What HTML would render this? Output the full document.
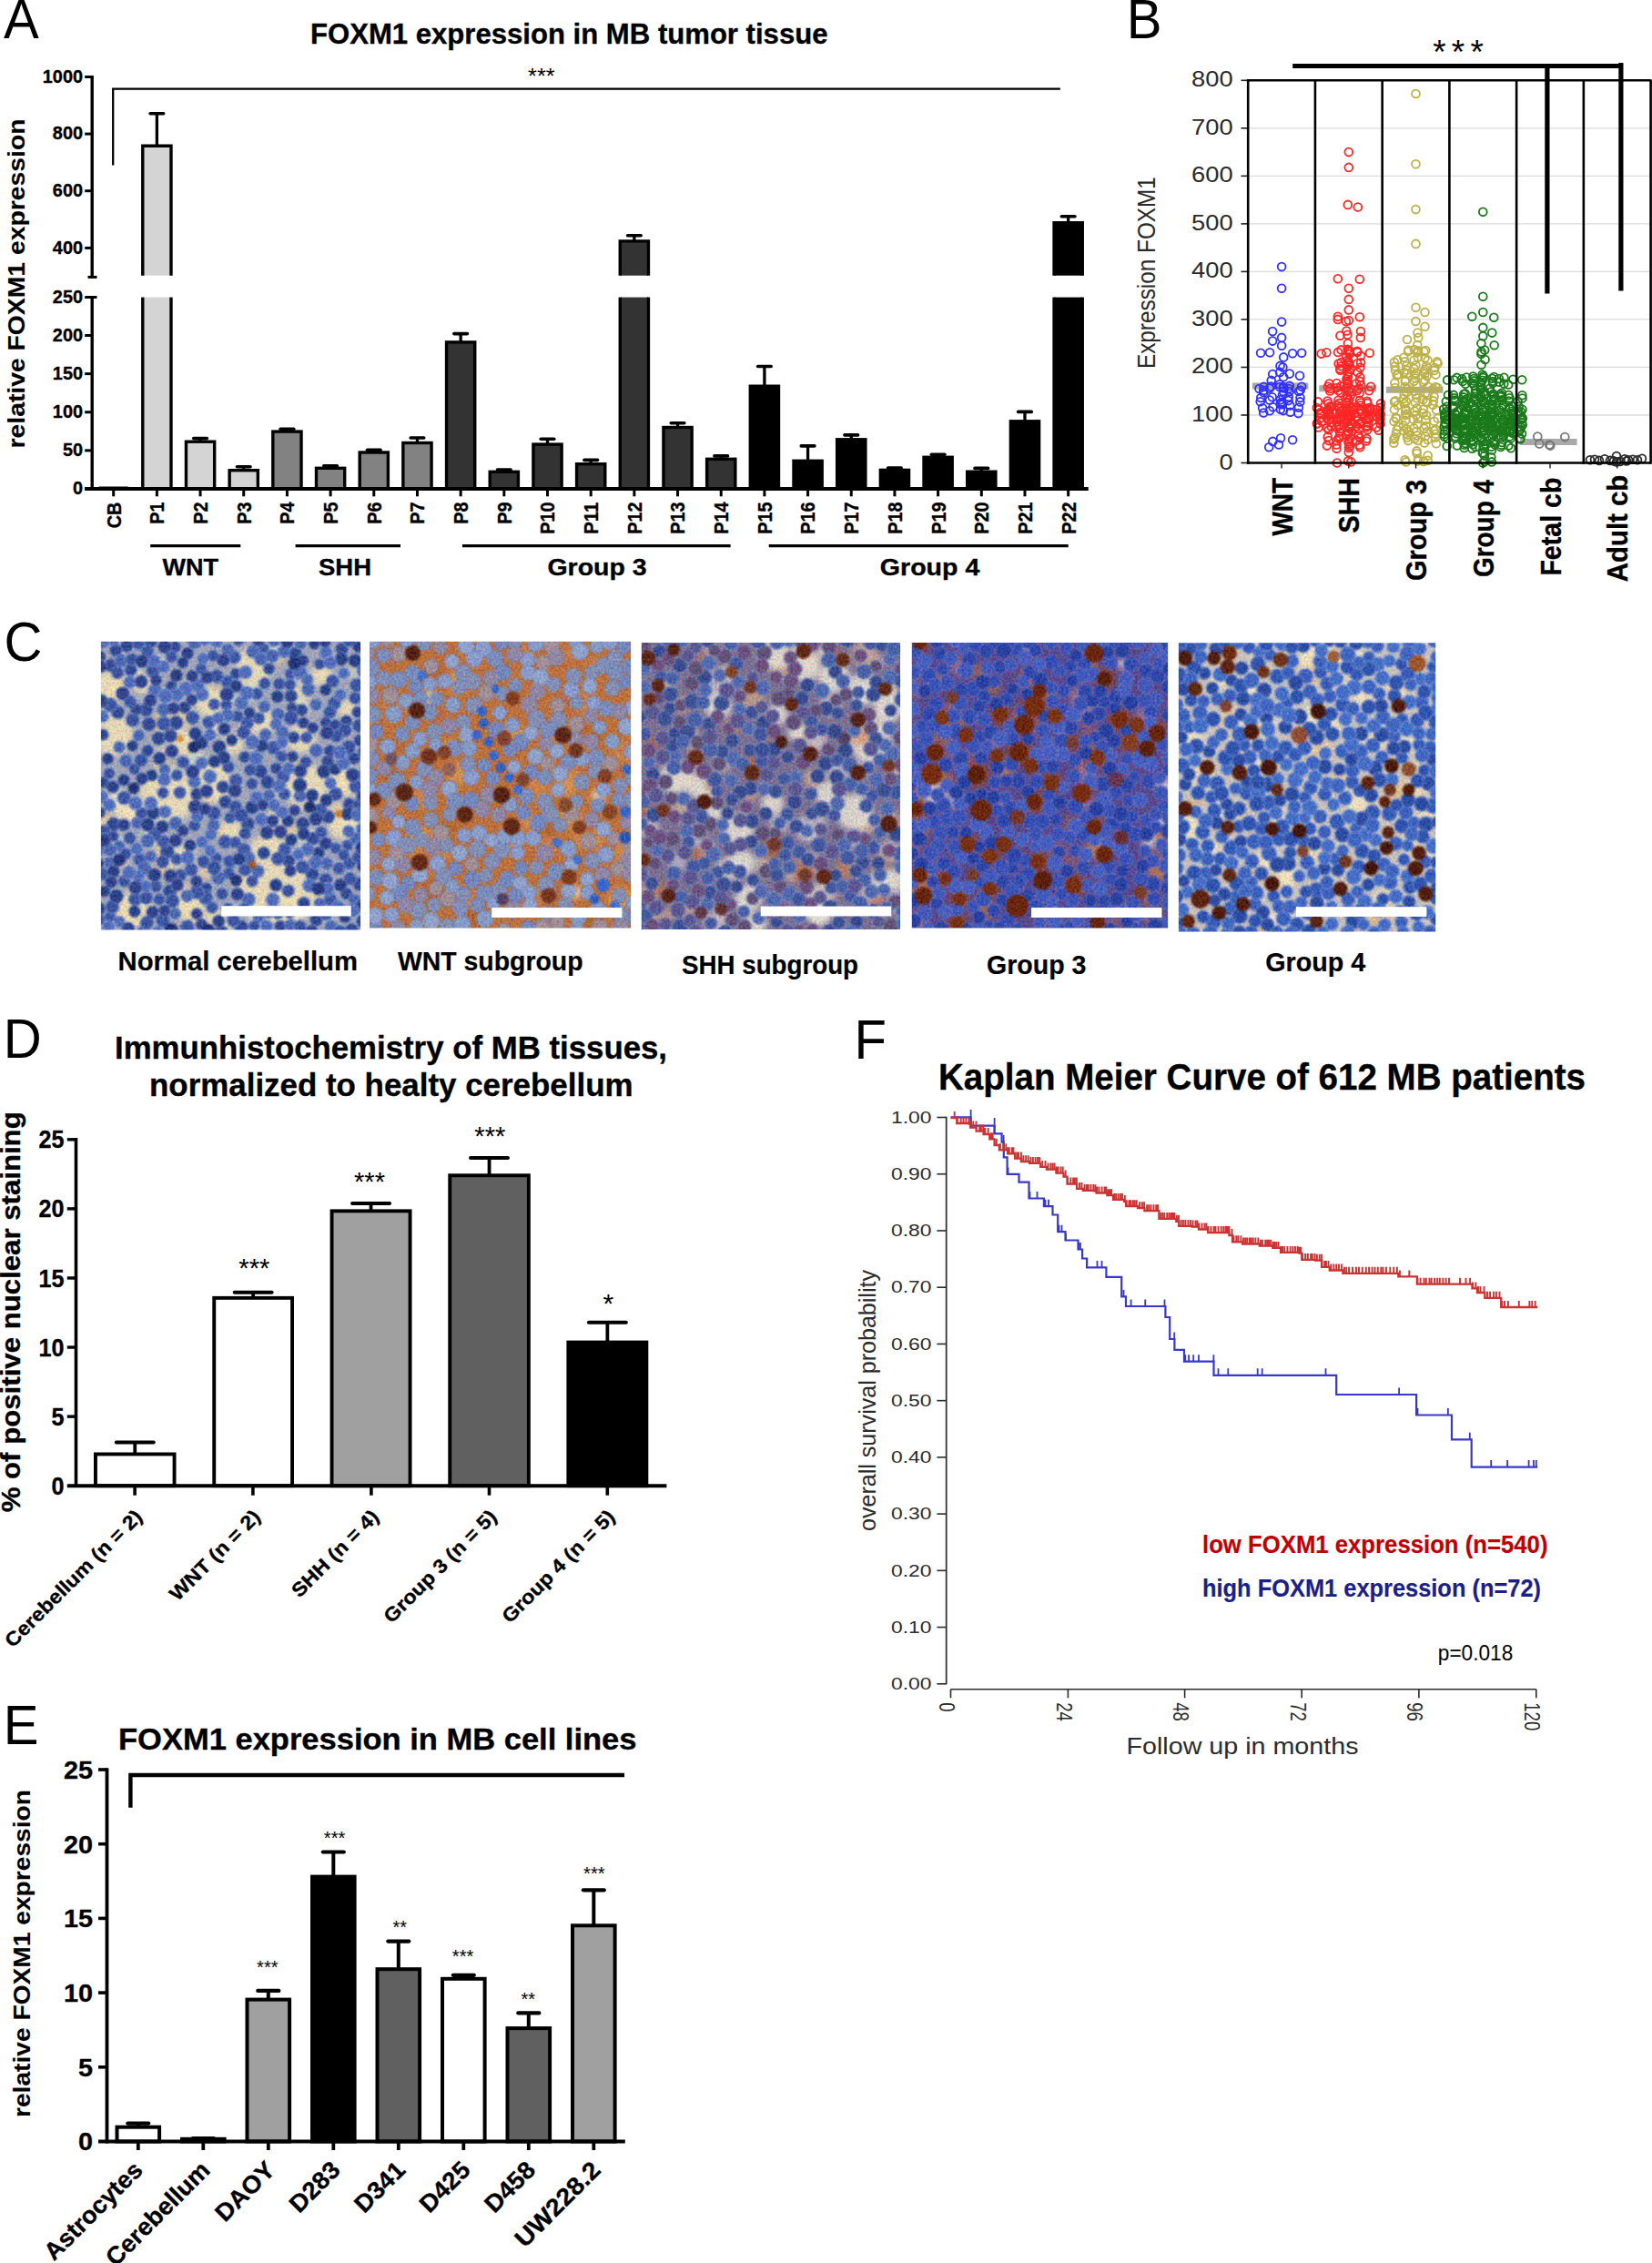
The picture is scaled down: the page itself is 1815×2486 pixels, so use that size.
<!DOCTYPE html><html><head><meta charset="utf-8"><title>FOXM1 figure</title><style>html,body{margin:0;padding:0;background:#fff}svg{display:block}text{font-family:"Liberation Sans",sans-serif}</style></head><body>
<svg width="1815" height="2486" viewBox="0 0 1815 2486">
<rect width="1815" height="2486" fill="#fff"/>
<g id="pA">
<text x="4.00" y="42.40" font-size="61.5" textLength="38.80" lengthAdjust="spacingAndGlyphs">A</text>
<text x="341.00" y="47.60" font-size="31.4" font-weight="bold" textLength="568.50" lengthAdjust="spacingAndGlyphs" stroke="#000" stroke-width="0.35">FOXM1 expression in MB tumor tissue</text>
<text transform="translate(26.80 311.50) rotate(-90)" font-size="25.4" font-weight="bold" text-anchor="middle" textLength="362.00" lengthAdjust="spacingAndGlyphs" stroke="#000" stroke-width="0.1">relative FOXM1 expression</text>
<path d="M101.20 83.00L101.20 304.40" stroke="#000" stroke-width="3.4" />
<path d="M101.20 326.50L101.20 538.90" stroke="#000" stroke-width="3.4" />
<path d="M93.20 537.00L1195.50 537.00" stroke="#000" stroke-width="3.8" />
<path d="M93.20 84.50L101.20 84.50" stroke="#000" stroke-width="3" />
<text x="91.00" y="90.60" font-size="20.4" font-weight="bold" text-anchor="end" textLength="44.20" lengthAdjust="spacingAndGlyphs" stroke="#000" stroke-width="0.35">1000</text>
<path d="M93.20 147.10L101.20 147.10" stroke="#000" stroke-width="3" />
<text x="91.00" y="153.20" font-size="20.4" font-weight="bold" text-anchor="end" textLength="33.15" lengthAdjust="spacingAndGlyphs" stroke="#000" stroke-width="0.35">800</text>
<path d="M93.20 209.70L101.20 209.70" stroke="#000" stroke-width="3" />
<text x="91.00" y="215.80" font-size="20.4" font-weight="bold" text-anchor="end" textLength="33.15" lengthAdjust="spacingAndGlyphs" stroke="#000" stroke-width="0.35">600</text>
<path d="M93.20 272.40L101.20 272.40" stroke="#000" stroke-width="3" />
<text x="91.00" y="278.50" font-size="20.4" font-weight="bold" text-anchor="end" textLength="33.15" lengthAdjust="spacingAndGlyphs" stroke="#000" stroke-width="0.35">400</text>
<path d="M96.50 304.40L106.50 304.40" stroke="#000" stroke-width="3" />
<path d="M93.20 326.50L106.50 326.50" stroke="#000" stroke-width="3" />
<text x="91.00" y="332.50" font-size="20.4" font-weight="bold" text-anchor="end" textLength="33.15" lengthAdjust="spacingAndGlyphs" stroke="#000" stroke-width="0.35">250</text>
<path d="M93.20 368.52L101.20 368.52" stroke="#000" stroke-width="3" />
<text x="91.00" y="374.62" font-size="20.4" font-weight="bold" text-anchor="end" textLength="33.15" lengthAdjust="spacingAndGlyphs" stroke="#000" stroke-width="0.35">200</text>
<path d="M93.20 410.64L101.20 410.64" stroke="#000" stroke-width="3" />
<text x="91.00" y="416.74" font-size="20.4" font-weight="bold" text-anchor="end" textLength="33.15" lengthAdjust="spacingAndGlyphs" stroke="#000" stroke-width="0.35">150</text>
<path d="M93.20 452.76L101.20 452.76" stroke="#000" stroke-width="3" />
<text x="91.00" y="458.86" font-size="20.4" font-weight="bold" text-anchor="end" textLength="33.15" lengthAdjust="spacingAndGlyphs" stroke="#000" stroke-width="0.35">100</text>
<path d="M93.20 494.88L101.20 494.88" stroke="#000" stroke-width="3" />
<text x="91.00" y="500.98" font-size="20.4" font-weight="bold" text-anchor="end" textLength="22.10" lengthAdjust="spacingAndGlyphs" stroke="#000" stroke-width="0.35">50</text>
<text x="91.00" y="543.10" font-size="20.4" font-weight="bold" text-anchor="end" textLength="11.05" lengthAdjust="spacingAndGlyphs" stroke="#000" stroke-width="0.35">0</text>
<path d="M108.70 535.30L140.70 535.30" stroke="#000" stroke-width="1.6" />
<path d="M172.38 124.70L172.38 160.30" stroke="#000" stroke-width="3.3" />
<path d="M165.08 124.70L179.68 124.70" stroke="#000" stroke-width="3.6" stroke-linecap="round"/>
<rect x="157.28" y="160.80" width="30.20" height="141.90" fill="#d4d4d4" />
<rect x="157.28" y="326.60" width="30.20" height="210.40" fill="#d4d4d4" />
<path d="M156.78 302.7V160.30H187.98V302.7" fill="none" stroke="#000" stroke-width="3.4"/>
<path d="M156.78 326.60L156.78 537.00" stroke="#000" stroke-width="3.4" />
<path d="M187.98 326.60L187.98 537.00" stroke="#000" stroke-width="3.4" />
<path d="M220.06 481.60L220.06 485.20" stroke="#000" stroke-width="3.3" />
<path d="M212.76 481.60L227.36 481.60" stroke="#000" stroke-width="3.6" stroke-linecap="round"/>
<rect x="204.46" y="485.20" width="31.20" height="51.80" fill="#d4d4d4" stroke="#000" stroke-width="3.4" />
<path d="M267.74 512.80L267.74 516.70" stroke="#000" stroke-width="3.3" />
<path d="M260.44 512.80L275.04 512.80" stroke="#000" stroke-width="3.6" stroke-linecap="round"/>
<rect x="252.14" y="516.70" width="31.20" height="20.30" fill="#d4d4d4" stroke="#000" stroke-width="3.4" />
<path d="M315.42 471.20L315.42 474.10" stroke="#000" stroke-width="3.3" />
<path d="M308.12 471.20L322.72 471.20" stroke="#000" stroke-width="3.6" stroke-linecap="round"/>
<rect x="299.82" y="474.10" width="31.20" height="62.90" fill="#828282" stroke="#000" stroke-width="3.4" />
<path d="M363.10 511.80L363.10 514.30" stroke="#000" stroke-width="3.3" />
<path d="M355.80 511.80L370.40 511.80" stroke="#000" stroke-width="3.6" stroke-linecap="round"/>
<rect x="347.50" y="514.30" width="31.20" height="22.70" fill="#828282" stroke="#000" stroke-width="3.4" />
<path d="M410.78 494.20L410.78 497.00" stroke="#000" stroke-width="3.3" />
<path d="M403.48 494.20L418.08 494.20" stroke="#000" stroke-width="3.6" stroke-linecap="round"/>
<rect x="395.18" y="497.00" width="31.20" height="40.00" fill="#828282" stroke="#000" stroke-width="3.4" />
<path d="M458.46 481.00L458.46 486.50" stroke="#000" stroke-width="3.3" />
<path d="M451.16 481.00L465.76 481.00" stroke="#000" stroke-width="3.6" stroke-linecap="round"/>
<rect x="442.86" y="486.50" width="31.20" height="50.50" fill="#828282" stroke="#000" stroke-width="3.4" />
<path d="M506.14 366.60L506.14 375.90" stroke="#000" stroke-width="3.3" />
<path d="M498.84 366.60L513.44 366.60" stroke="#000" stroke-width="3.6" stroke-linecap="round"/>
<rect x="490.54" y="375.90" width="31.20" height="161.10" fill="#333" stroke="#000" stroke-width="3.4" />
<path d="M553.82 516.00L553.82 518.30" stroke="#000" stroke-width="3.3" />
<path d="M546.52 516.00L561.12 516.00" stroke="#000" stroke-width="3.6" stroke-linecap="round"/>
<rect x="538.22" y="518.30" width="31.20" height="18.70" fill="#333" stroke="#000" stroke-width="3.4" />
<path d="M601.50 482.30L601.50 488.10" stroke="#000" stroke-width="3.3" />
<path d="M594.20 482.30L608.80 482.30" stroke="#000" stroke-width="3.6" stroke-linecap="round"/>
<rect x="585.90" y="488.10" width="31.20" height="48.90" fill="#333" stroke="#000" stroke-width="3.4" />
<path d="M649.18 505.40L649.18 509.70" stroke="#000" stroke-width="3.3" />
<path d="M641.88 505.40L656.48 505.40" stroke="#000" stroke-width="3.6" stroke-linecap="round"/>
<rect x="633.58" y="509.70" width="31.20" height="27.30" fill="#333" stroke="#000" stroke-width="3.4" />
<path d="M696.86 258.80L696.86 264.90" stroke="#000" stroke-width="3.3" />
<path d="M689.56 258.80L704.16 258.80" stroke="#000" stroke-width="3.6" stroke-linecap="round"/>
<rect x="681.76" y="265.40" width="30.20" height="37.30" fill="#333" />
<rect x="681.76" y="326.60" width="30.20" height="210.40" fill="#333" />
<path d="M681.26 302.7V264.90H712.46V302.7" fill="none" stroke="#000" stroke-width="3.4"/>
<path d="M681.26 326.60L681.26 537.00" stroke="#000" stroke-width="3.4" />
<path d="M712.46 326.60L712.46 537.00" stroke="#000" stroke-width="3.4" />
<path d="M744.54 464.80L744.54 469.50" stroke="#000" stroke-width="3.3" />
<path d="M737.24 464.80L751.84 464.80" stroke="#000" stroke-width="3.6" stroke-linecap="round"/>
<rect x="728.94" y="469.50" width="31.20" height="67.50" fill="#333" stroke="#000" stroke-width="3.4" />
<path d="M792.22 500.90L792.22 504.30" stroke="#000" stroke-width="3.3" />
<path d="M784.92 500.90L799.52 500.90" stroke="#000" stroke-width="3.6" stroke-linecap="round"/>
<rect x="776.62" y="504.30" width="31.20" height="32.70" fill="#333" stroke="#000" stroke-width="3.4" />
<path d="M839.90 402.50L839.90 424.20" stroke="#000" stroke-width="3.3" />
<path d="M832.60 402.50L847.20 402.50" stroke="#000" stroke-width="3.6" stroke-linecap="round"/>
<rect x="824.30" y="424.20" width="31.20" height="112.80" fill="#000" stroke="#000" stroke-width="3.4" />
<path d="M887.58 489.90L887.58 506.30" stroke="#000" stroke-width="3.3" />
<path d="M880.28 489.90L894.88 489.90" stroke="#000" stroke-width="3.6" stroke-linecap="round"/>
<rect x="871.98" y="506.30" width="31.20" height="30.70" fill="#000" stroke="#000" stroke-width="3.4" />
<path d="M935.26 477.90L935.26 482.80" stroke="#000" stroke-width="3.3" />
<path d="M927.96 477.90L942.56 477.90" stroke="#000" stroke-width="3.6" stroke-linecap="round"/>
<rect x="919.66" y="482.80" width="31.20" height="54.20" fill="#000" stroke="#000" stroke-width="3.4" />
<path d="M982.94 514.00L982.94 516.40" stroke="#000" stroke-width="3.3" />
<path d="M975.64 514.00L990.24 514.00" stroke="#000" stroke-width="3.6" stroke-linecap="round"/>
<rect x="967.34" y="516.40" width="31.20" height="20.60" fill="#000" stroke="#000" stroke-width="3.4" />
<path d="M1030.62 499.20L1030.62 502.30" stroke="#000" stroke-width="3.3" />
<path d="M1023.32 499.20L1037.92 499.20" stroke="#000" stroke-width="3.6" stroke-linecap="round"/>
<rect x="1015.02" y="502.30" width="31.20" height="34.70" fill="#000" stroke="#000" stroke-width="3.4" />
<path d="M1078.30 514.40L1078.30 518.20" stroke="#000" stroke-width="3.3" />
<path d="M1071.00 514.40L1085.60 514.40" stroke="#000" stroke-width="3.6" stroke-linecap="round"/>
<rect x="1062.70" y="518.20" width="31.20" height="18.80" fill="#000" stroke="#000" stroke-width="3.4" />
<path d="M1125.98 452.40L1125.98 462.80" stroke="#000" stroke-width="3.3" />
<path d="M1118.68 452.40L1133.28 452.40" stroke="#000" stroke-width="3.6" stroke-linecap="round"/>
<rect x="1110.38" y="462.80" width="31.20" height="74.20" fill="#000" stroke="#000" stroke-width="3.4" />
<path d="M1173.66 237.80L1173.66 244.60" stroke="#000" stroke-width="3.3" />
<path d="M1166.36 237.80L1180.96 237.80" stroke="#000" stroke-width="3.6" stroke-linecap="round"/>
<rect x="1158.56" y="245.10" width="30.20" height="57.60" fill="#000" />
<rect x="1158.56" y="326.60" width="30.20" height="210.40" fill="#000" />
<path d="M1158.06 302.7V244.60H1189.26V302.7" fill="none" stroke="#000" stroke-width="3.4"/>
<path d="M1158.06 326.60L1158.06 537.00" stroke="#000" stroke-width="3.4" />
<path d="M1189.26 326.60L1189.26 537.00" stroke="#000" stroke-width="3.4" />
<path d="M93.20 537.00L1195.50 537.00" stroke="#000" stroke-width="3.8" />
<path d="M124.70 537.00L124.70 545.30" stroke="#000" stroke-width="3" />
<text transform="translate(132.60 551.60) rotate(-90)" font-size="22.8" font-weight="bold" text-anchor="end" textLength="28.59" lengthAdjust="spacingAndGlyphs" stroke="#000" stroke-width="0.35">CB</text>
<path d="M172.38 537.00L172.38 545.30" stroke="#000" stroke-width="3" />
<text transform="translate(180.28 551.60) rotate(-90)" font-size="22.8" font-weight="bold" text-anchor="end" textLength="24.22" lengthAdjust="spacingAndGlyphs" stroke="#000" stroke-width="0.35">P1</text>
<path d="M220.06 537.00L220.06 545.30" stroke="#000" stroke-width="3" />
<text transform="translate(227.96 551.60) rotate(-90)" font-size="22.8" font-weight="bold" text-anchor="end" textLength="24.22" lengthAdjust="spacingAndGlyphs" stroke="#000" stroke-width="0.35">P2</text>
<path d="M267.74 537.00L267.74 545.30" stroke="#000" stroke-width="3" />
<text transform="translate(275.64 551.60) rotate(-90)" font-size="22.8" font-weight="bold" text-anchor="end" textLength="24.22" lengthAdjust="spacingAndGlyphs" stroke="#000" stroke-width="0.35">P3</text>
<path d="M315.42 537.00L315.42 545.30" stroke="#000" stroke-width="3" />
<text transform="translate(323.32 551.60) rotate(-90)" font-size="22.8" font-weight="bold" text-anchor="end" textLength="24.22" lengthAdjust="spacingAndGlyphs" stroke="#000" stroke-width="0.35">P4</text>
<path d="M363.10 537.00L363.10 545.30" stroke="#000" stroke-width="3" />
<text transform="translate(371.00 551.60) rotate(-90)" font-size="22.8" font-weight="bold" text-anchor="end" textLength="24.22" lengthAdjust="spacingAndGlyphs" stroke="#000" stroke-width="0.35">P5</text>
<path d="M410.78 537.00L410.78 545.30" stroke="#000" stroke-width="3" />
<text transform="translate(418.68 551.60) rotate(-90)" font-size="22.8" font-weight="bold" text-anchor="end" textLength="24.22" lengthAdjust="spacingAndGlyphs" stroke="#000" stroke-width="0.35">P6</text>
<path d="M458.46 537.00L458.46 545.30" stroke="#000" stroke-width="3" />
<text transform="translate(466.36 551.60) rotate(-90)" font-size="22.8" font-weight="bold" text-anchor="end" textLength="24.22" lengthAdjust="spacingAndGlyphs" stroke="#000" stroke-width="0.35">P7</text>
<path d="M506.14 537.00L506.14 545.30" stroke="#000" stroke-width="3" />
<text transform="translate(514.04 551.60) rotate(-90)" font-size="22.8" font-weight="bold" text-anchor="end" textLength="24.22" lengthAdjust="spacingAndGlyphs" stroke="#000" stroke-width="0.35">P8</text>
<path d="M553.82 537.00L553.82 545.30" stroke="#000" stroke-width="3" />
<text transform="translate(561.72 551.60) rotate(-90)" font-size="22.8" font-weight="bold" text-anchor="end" textLength="24.22" lengthAdjust="spacingAndGlyphs" stroke="#000" stroke-width="0.35">P9</text>
<path d="M601.50 537.00L601.50 545.30" stroke="#000" stroke-width="3" />
<text transform="translate(609.40 551.60) rotate(-90)" font-size="22.8" font-weight="bold" text-anchor="end" textLength="35.22" lengthAdjust="spacingAndGlyphs" stroke="#000" stroke-width="0.35">P10</text>
<path d="M649.18 537.00L649.18 545.30" stroke="#000" stroke-width="3" />
<text transform="translate(657.08 551.60) rotate(-90)" font-size="22.8" font-weight="bold" text-anchor="end" textLength="35.22" lengthAdjust="spacingAndGlyphs" stroke="#000" stroke-width="0.35">P11</text>
<path d="M696.86 537.00L696.86 545.30" stroke="#000" stroke-width="3" />
<text transform="translate(704.76 551.60) rotate(-90)" font-size="22.8" font-weight="bold" text-anchor="end" textLength="35.22" lengthAdjust="spacingAndGlyphs" stroke="#000" stroke-width="0.35">P12</text>
<path d="M744.54 537.00L744.54 545.30" stroke="#000" stroke-width="3" />
<text transform="translate(752.44 551.60) rotate(-90)" font-size="22.8" font-weight="bold" text-anchor="end" textLength="35.22" lengthAdjust="spacingAndGlyphs" stroke="#000" stroke-width="0.35">P13</text>
<path d="M792.22 537.00L792.22 545.30" stroke="#000" stroke-width="3" />
<text transform="translate(800.12 551.60) rotate(-90)" font-size="22.8" font-weight="bold" text-anchor="end" textLength="35.22" lengthAdjust="spacingAndGlyphs" stroke="#000" stroke-width="0.35">P14</text>
<path d="M839.90 537.00L839.90 545.30" stroke="#000" stroke-width="3" />
<text transform="translate(847.80 551.60) rotate(-90)" font-size="22.8" font-weight="bold" text-anchor="end" textLength="35.22" lengthAdjust="spacingAndGlyphs" stroke="#000" stroke-width="0.35">P15</text>
<path d="M887.58 537.00L887.58 545.30" stroke="#000" stroke-width="3" />
<text transform="translate(895.48 551.60) rotate(-90)" font-size="22.8" font-weight="bold" text-anchor="end" textLength="35.22" lengthAdjust="spacingAndGlyphs" stroke="#000" stroke-width="0.35">P16</text>
<path d="M935.26 537.00L935.26 545.30" stroke="#000" stroke-width="3" />
<text transform="translate(943.16 551.60) rotate(-90)" font-size="22.8" font-weight="bold" text-anchor="end" textLength="35.22" lengthAdjust="spacingAndGlyphs" stroke="#000" stroke-width="0.35">P17</text>
<path d="M982.94 537.00L982.94 545.30" stroke="#000" stroke-width="3" />
<text transform="translate(990.84 551.60) rotate(-90)" font-size="22.8" font-weight="bold" text-anchor="end" textLength="35.22" lengthAdjust="spacingAndGlyphs" stroke="#000" stroke-width="0.35">P18</text>
<path d="M1030.62 537.00L1030.62 545.30" stroke="#000" stroke-width="3" />
<text transform="translate(1038.52 551.60) rotate(-90)" font-size="22.8" font-weight="bold" text-anchor="end" textLength="35.22" lengthAdjust="spacingAndGlyphs" stroke="#000" stroke-width="0.35">P19</text>
<path d="M1078.30 537.00L1078.30 545.30" stroke="#000" stroke-width="3" />
<text transform="translate(1086.20 551.60) rotate(-90)" font-size="22.8" font-weight="bold" text-anchor="end" textLength="35.22" lengthAdjust="spacingAndGlyphs" stroke="#000" stroke-width="0.35">P20</text>
<path d="M1125.98 537.00L1125.98 545.30" stroke="#000" stroke-width="3" />
<text transform="translate(1133.88 551.60) rotate(-90)" font-size="22.8" font-weight="bold" text-anchor="end" textLength="35.22" lengthAdjust="spacingAndGlyphs" stroke="#000" stroke-width="0.35">P21</text>
<path d="M1173.66 537.00L1173.66 545.30" stroke="#000" stroke-width="3" />
<text transform="translate(1181.56 551.60) rotate(-90)" font-size="22.8" font-weight="bold" text-anchor="end" textLength="35.22" lengthAdjust="spacingAndGlyphs" stroke="#000" stroke-width="0.35">P22</text>
<path d="M124.2 181.6V97.6H1164.9" fill="none" stroke="#000" stroke-width="2.3"/>
<text x="594.80" y="92.00" font-size="24" text-anchor="middle" textLength="29.50" lengthAdjust="spacingAndGlyphs">***</text>
<path d="M165.20 599.60L264.30 599.60" stroke="#000" stroke-width="3.3" />
<path d="M324.60 599.60L440.00 599.60" stroke="#000" stroke-width="3.3" />
<path d="M507.90 599.60L802.60 599.60" stroke="#000" stroke-width="3.3" />
<path d="M844.70 599.60L1173.70 599.60" stroke="#000" stroke-width="3.3" />
<text x="178.60" y="631.80" font-size="26.2" font-weight="bold" textLength="61.50" lengthAdjust="spacingAndGlyphs" stroke="#000" stroke-width="0.35">WNT</text>
<text x="350.00" y="631.80" font-size="26.2" font-weight="bold" textLength="58.00" lengthAdjust="spacingAndGlyphs" stroke="#000" stroke-width="0.35">SHH</text>
<text x="601.50" y="631.80" font-size="26.2" font-weight="bold" textLength="109.00" lengthAdjust="spacingAndGlyphs" stroke="#000" stroke-width="0.35">Group 3</text>
<text x="966.80" y="632.20" font-size="26.2" font-weight="bold" textLength="109.50" lengthAdjust="spacingAndGlyphs" stroke="#000" stroke-width="0.35">Group 4</text>
</g>
<g id="pB">
<text x="1237.80" y="41.80" font-size="61" textLength="38.80" lengthAdjust="spacingAndGlyphs">B</text>
<path d="M1371.20 455.98L1813.60 455.98" stroke="#dcdcdc" stroke-width="1.3" />
<path d="M1371.20 403.45L1813.60 403.45" stroke="#dcdcdc" stroke-width="1.3" />
<path d="M1371.20 350.93L1813.60 350.93" stroke="#dcdcdc" stroke-width="1.3" />
<path d="M1371.20 298.40L1813.60 298.40" stroke="#dcdcdc" stroke-width="1.3" />
<path d="M1371.20 245.88L1813.60 245.88" stroke="#dcdcdc" stroke-width="1.3" />
<path d="M1371.20 193.35L1813.60 193.35" stroke="#dcdcdc" stroke-width="1.3" />
<path d="M1371.20 140.82L1813.60 140.82" stroke="#dcdcdc" stroke-width="1.3" />
<path d="M1363.50 508.50L1371.20 508.50" stroke="#222" stroke-width="1.6" />
<text x="1354.60" y="515.50" font-size="23.6" text-anchor="end" textLength="15.20" lengthAdjust="spacingAndGlyphs" fill="#2a2a2a">0</text>
<path d="M1363.50 455.98L1371.20 455.98" stroke="#222" stroke-width="1.6" />
<text x="1354.60" y="462.98" font-size="23.6" text-anchor="end" textLength="45.60" lengthAdjust="spacingAndGlyphs" fill="#2a2a2a">100</text>
<path d="M1363.50 403.45L1371.20 403.45" stroke="#222" stroke-width="1.6" />
<text x="1354.60" y="410.45" font-size="23.6" text-anchor="end" textLength="45.60" lengthAdjust="spacingAndGlyphs" fill="#2a2a2a">200</text>
<path d="M1363.50 350.93L1371.20 350.93" stroke="#222" stroke-width="1.6" />
<text x="1354.60" y="357.93" font-size="23.6" text-anchor="end" textLength="45.60" lengthAdjust="spacingAndGlyphs" fill="#2a2a2a">300</text>
<path d="M1363.50 298.40L1371.20 298.40" stroke="#222" stroke-width="1.6" />
<text x="1354.60" y="305.40" font-size="23.6" text-anchor="end" textLength="45.60" lengthAdjust="spacingAndGlyphs" fill="#2a2a2a">400</text>
<path d="M1363.50 245.88L1371.20 245.88" stroke="#222" stroke-width="1.6" />
<text x="1354.60" y="252.88" font-size="23.6" text-anchor="end" textLength="45.60" lengthAdjust="spacingAndGlyphs" fill="#2a2a2a">500</text>
<path d="M1363.50 193.35L1371.20 193.35" stroke="#222" stroke-width="1.6" />
<text x="1354.60" y="200.35" font-size="23.6" text-anchor="end" textLength="45.60" lengthAdjust="spacingAndGlyphs" fill="#2a2a2a">600</text>
<path d="M1363.50 140.82L1371.20 140.82" stroke="#222" stroke-width="1.6" />
<text x="1354.60" y="147.82" font-size="23.6" text-anchor="end" textLength="45.60" lengthAdjust="spacingAndGlyphs" fill="#2a2a2a">700</text>
<path d="M1363.50 88.30L1371.20 88.30" stroke="#222" stroke-width="1.6" />
<text x="1354.60" y="95.30" font-size="23.6" text-anchor="end" textLength="45.60" lengthAdjust="spacingAndGlyphs" fill="#2a2a2a">800</text>
<text transform="translate(1268.80 299.60) rotate(-90)" font-size="28" text-anchor="middle" textLength="211.00" lengthAdjust="spacingAndGlyphs" fill="#2a2a2a">Expression FOXM1</text>
<path d="M1375.90 423.90L1437.30 423.90" stroke="#a9a9a9" stroke-width="7" />
<path d="M1449.30 426.80L1512.10 426.80" stroke="#a9a9a9" stroke-width="7" />
<path d="M1523.00 428.20L1585.50 428.20" stroke="#a9a9a9" stroke-width="7" />
<path d="M1670.10 485.60L1732.60 485.60" stroke="#a9a9a9" stroke-width="7" />
<g fill="none" stroke="#3030ff" stroke-width="1.8"><circle cx="1410.2" cy="392.4" r="4.4"/><circle cx="1406.5" cy="401.9" r="4.4"/><circle cx="1409.4" cy="403.4" r="4.4"/><circle cx="1406.1" cy="408.9" r="4.4"/><circle cx="1416.8" cy="410.6" r="4.4"/><circle cx="1398.2" cy="411.1" r="4.4"/><circle cx="1428.0" cy="412.8" r="4.4"/><circle cx="1410.1" cy="414.3" r="4.4"/><circle cx="1396.7" cy="417.9" r="4.4"/><circle cx="1405.8" cy="422.3" r="4.4"/><circle cx="1416.8" cy="423.9" r="4.4"/><circle cx="1396.3" cy="424.6" r="4.4"/><circle cx="1430.1" cy="424.8" r="4.4"/><circle cx="1388.5" cy="424.9" r="4.4"/><circle cx="1409.9" cy="425.0" r="4.4"/><circle cx="1406.0" cy="425.0" r="4.4"/><circle cx="1410.2" cy="426.5" r="4.4"/><circle cx="1394.8" cy="426.5" r="4.4"/><circle cx="1415.9" cy="427.1" r="4.4"/><circle cx="1383.5" cy="427.1" r="4.4"/><circle cx="1428.6" cy="428.8" r="4.4"/><circle cx="1388.1" cy="428.9" r="4.4"/><circle cx="1427.0" cy="430.0" r="4.4"/><circle cx="1410.0" cy="430.0" r="4.4"/><circle cx="1416.6" cy="430.1" r="4.4"/><circle cx="1388.4" cy="431.3" r="4.4"/><circle cx="1408.9" cy="434.0" r="4.4"/><circle cx="1415.7" cy="435.9" r="4.4"/><circle cx="1397.7" cy="436.2" r="4.4"/><circle cx="1428.5" cy="437.1" r="4.4"/><circle cx="1385.3" cy="437.1" r="4.4"/><circle cx="1406.6" cy="439.2" r="4.4"/><circle cx="1394.9" cy="439.5" r="4.4"/><circle cx="1415.6" cy="440.1" r="4.4"/><circle cx="1384.7" cy="441.3" r="4.4"/><circle cx="1428.3" cy="441.4" r="4.4"/><circle cx="1407.9" cy="441.8" r="4.4"/><circle cx="1406.9" cy="443.9" r="4.4"/><circle cx="1409.1" cy="444.3" r="4.4"/><circle cx="1417.3" cy="445.4" r="4.4"/><circle cx="1398.5" cy="447.3" r="4.4"/><circle cx="1426.9" cy="447.8" r="4.4"/><circle cx="1387.1" cy="448.2" r="4.4"/><circle cx="1406.9" cy="449.7" r="4.4"/><circle cx="1409.9" cy="451.1" r="4.4"/><circle cx="1395.0" cy="451.3" r="4.4"/><circle cx="1417.6" cy="452.7" r="4.4"/><circle cx="1388.2" cy="453.5" r="4.4"/><circle cx="1426.5" cy="454.1" r="4.4"/><circle cx="1407.1" cy="481.2" r="4.4"/><circle cx="1420.1" cy="483.3" r="4.4"/><circle cx="1398.3" cy="484.9" r="4.4"/><circle cx="1405.0" cy="488.5" r="4.4"/><circle cx="1394.2" cy="491.2" r="4.4"/><circle cx="1408.1" cy="293.1" r="4.4"/><circle cx="1408.1" cy="316.8" r="4.4"/><circle cx="1408.1" cy="353.6" r="4.4"/><circle cx="1398.1" cy="364.1" r="4.4"/><circle cx="1408.1" cy="370.9" r="4.4"/><circle cx="1398.1" cy="374.6" r="4.4"/><circle cx="1408.1" cy="379.8" r="4.4"/><circle cx="1385.1" cy="387.7" r="4.4"/><circle cx="1395.1" cy="387.2" r="4.4"/><circle cx="1420.1" cy="388.2" r="4.4"/><circle cx="1430.1" cy="387.7" r="4.4"/></g>
<g fill="none" stroke="#ff2626" stroke-width="1.8"><circle cx="1479.4" cy="363.5" r="4.4"/><circle cx="1495.0" cy="364.1" r="4.4"/><circle cx="1480.4" cy="367.7" r="4.4"/><circle cx="1472.4" cy="368.8" r="4.4"/><circle cx="1494.8" cy="370.9" r="4.4"/><circle cx="1480.9" cy="377.2" r="4.4"/><circle cx="1480.5" cy="383.9" r="4.4"/><circle cx="1473.6" cy="384.4" r="4.4"/><circle cx="1482.5" cy="385.1" r="4.4"/><circle cx="1491.3" cy="385.8" r="4.4"/><circle cx="1483.0" cy="386.7" r="4.4"/><circle cx="1470.0" cy="386.9" r="4.4"/><circle cx="1491.3" cy="387.0" r="4.4"/><circle cx="1457.4" cy="387.3" r="4.4"/><circle cx="1504.8" cy="387.8" r="4.4"/><circle cx="1451.7" cy="388.6" r="4.4"/><circle cx="1482.6" cy="389.0" r="4.4"/><circle cx="1495.1" cy="391.0" r="4.4"/><circle cx="1479.1" cy="392.5" r="4.4"/><circle cx="1480.3" cy="395.8" r="4.4"/><circle cx="1481.7" cy="397.5" r="4.4"/><circle cx="1473.6" cy="398.0" r="4.4"/><circle cx="1495.1" cy="398.2" r="4.4"/><circle cx="1481.2" cy="398.8" r="4.4"/><circle cx="1491.2" cy="399.2" r="4.4"/><circle cx="1470.6" cy="399.5" r="4.4"/><circle cx="1481.8" cy="401.4" r="4.4"/><circle cx="1473.4" cy="402.3" r="4.4"/><circle cx="1480.0" cy="403.5" r="4.4"/><circle cx="1494.3" cy="403.8" r="4.4"/><circle cx="1472.3" cy="405.1" r="4.4"/><circle cx="1483.6" cy="405.6" r="4.4"/><circle cx="1472.5" cy="406.7" r="4.4"/><circle cx="1482.4" cy="408.4" r="4.4"/><circle cx="1491.6" cy="409.0" r="4.4"/><circle cx="1480.8" cy="411.1" r="4.4"/><circle cx="1481.0" cy="414.1" r="4.4"/><circle cx="1494.2" cy="414.4" r="4.4"/><circle cx="1479.4" cy="416.5" r="4.4"/><circle cx="1480.1" cy="418.6" r="4.4"/><circle cx="1494.0" cy="418.9" r="4.4"/><circle cx="1480.4" cy="420.9" r="4.4"/><circle cx="1468.6" cy="421.1" r="4.4"/><circle cx="1490.0" cy="421.3" r="4.4"/><circle cx="1460.5" cy="421.6" r="4.4"/><circle cx="1480.8" cy="422.5" r="4.4"/><circle cx="1495.3" cy="423.3" r="4.4"/><circle cx="1473.1" cy="424.4" r="4.4"/><circle cx="1506.1" cy="424.7" r="4.4"/><circle cx="1458.9" cy="424.8" r="4.4"/><circle cx="1479.5" cy="425.2" r="4.4"/><circle cx="1468.7" cy="426.0" r="4.4"/><circle cx="1492.6" cy="426.7" r="4.4"/><circle cx="1461.4" cy="426.9" r="4.4"/><circle cx="1481.5" cy="428.9" r="4.4"/><circle cx="1491.1" cy="428.9" r="4.4"/><circle cx="1470.5" cy="429.0" r="4.4"/><circle cx="1504.1" cy="429.3" r="4.4"/><circle cx="1461.2" cy="429.5" r="4.4"/><circle cx="1483.2" cy="431.1" r="4.4"/><circle cx="1472.9" cy="431.2" r="4.4"/><circle cx="1493.5" cy="431.9" r="4.4"/><circle cx="1479.7" cy="434.2" r="4.4"/><circle cx="1483.7" cy="434.8" r="4.4"/><circle cx="1480.6" cy="437.3" r="4.4"/><circle cx="1482.2" cy="439.4" r="4.4"/><circle cx="1470.3" cy="439.7" r="4.4"/><circle cx="1493.9" cy="439.9" r="4.4"/><circle cx="1458.5" cy="440.5" r="4.4"/><circle cx="1502.0" cy="440.7" r="4.4"/><circle cx="1448.0" cy="441.4" r="4.4"/><circle cx="1479.9" cy="442.2" r="4.4"/><circle cx="1494.8" cy="442.5" r="4.4"/><circle cx="1471.4" cy="442.9" r="4.4"/><circle cx="1502.4" cy="442.9" r="4.4"/><circle cx="1459.6" cy="443.2" r="4.4"/><circle cx="1517.0" cy="443.4" r="4.4"/><circle cx="1481.8" cy="445.1" r="4.4"/><circle cx="1469.5" cy="445.2" r="4.4"/><circle cx="1494.3" cy="445.5" r="4.4"/><circle cx="1461.1" cy="446.4" r="4.4"/><circle cx="1484.5" cy="446.9" r="4.4"/><circle cx="1490.4" cy="447.1" r="4.4"/><circle cx="1470.9" cy="447.3" r="4.4"/><circle cx="1505.2" cy="447.7" r="4.4"/><circle cx="1462.1" cy="447.8" r="4.4"/><circle cx="1516.5" cy="447.9" r="4.4"/><circle cx="1446.8" cy="448.1" r="4.4"/><circle cx="1501.9" cy="448.6" r="4.4"/><circle cx="1480.1" cy="448.7" r="4.4"/><circle cx="1484.4" cy="448.9" r="4.4"/><circle cx="1471.5" cy="449.0" r="4.4"/><circle cx="1495.0" cy="449.5" r="4.4"/><circle cx="1459.5" cy="449.8" r="4.4"/><circle cx="1505.5" cy="449.8" r="4.4"/><circle cx="1449.1" cy="449.9" r="4.4"/><circle cx="1512.9" cy="449.9" r="4.4"/><circle cx="1479.6" cy="450.2" r="4.4"/><circle cx="1501.8" cy="450.2" r="4.4"/><circle cx="1459.3" cy="450.3" r="4.4"/><circle cx="1480.1" cy="451.1" r="4.4"/><circle cx="1457.6" cy="451.2" r="4.4"/><circle cx="1483.1" cy="451.4" r="4.4"/><circle cx="1494.9" cy="451.6" r="4.4"/><circle cx="1472.8" cy="451.8" r="4.4"/><circle cx="1505.2" cy="452.0" r="4.4"/><circle cx="1459.7" cy="452.5" r="4.4"/><circle cx="1513.5" cy="453.2" r="4.4"/><circle cx="1450.1" cy="453.4" r="4.4"/><circle cx="1479.4" cy="453.6" r="4.4"/><circle cx="1468.4" cy="453.8" r="4.4"/><circle cx="1492.6" cy="454.0" r="4.4"/><circle cx="1460.1" cy="454.1" r="4.4"/><circle cx="1502.9" cy="454.4" r="4.4"/><circle cx="1451.1" cy="454.5" r="4.4"/><circle cx="1515.1" cy="454.5" r="4.4"/><circle cx="1471.8" cy="454.6" r="4.4"/><circle cx="1482.7" cy="455.1" r="4.4"/><circle cx="1450.5" cy="455.2" r="4.4"/><circle cx="1516.9" cy="455.2" r="4.4"/><circle cx="1459.7" cy="455.3" r="4.4"/><circle cx="1480.7" cy="455.5" r="4.4"/><circle cx="1459.7" cy="455.5" r="4.4"/><circle cx="1483.8" cy="455.6" r="4.4"/><circle cx="1461.0" cy="455.8" r="4.4"/><circle cx="1515.5" cy="456.0" r="4.4"/><circle cx="1480.1" cy="457.2" r="4.4"/><circle cx="1489.8" cy="457.7" r="4.4"/><circle cx="1473.2" cy="457.9" r="4.4"/><circle cx="1503.0" cy="458.2" r="4.4"/><circle cx="1462.0" cy="458.3" r="4.4"/><circle cx="1513.7" cy="458.3" r="4.4"/><circle cx="1483.9" cy="458.4" r="4.4"/><circle cx="1470.8" cy="458.7" r="4.4"/><circle cx="1490.7" cy="458.7" r="4.4"/><circle cx="1457.5" cy="459.3" r="4.4"/><circle cx="1503.7" cy="459.4" r="4.4"/><circle cx="1450.2" cy="459.8" r="4.4"/><circle cx="1516.5" cy="459.9" r="4.4"/><circle cx="1482.2" cy="459.9" r="4.4"/><circle cx="1504.7" cy="459.9" r="4.4"/><circle cx="1469.0" cy="460.6" r="4.4"/><circle cx="1480.6" cy="460.8" r="4.4"/><circle cx="1492.7" cy="461.1" r="4.4"/><circle cx="1473.4" cy="461.2" r="4.4"/><circle cx="1501.2" cy="461.3" r="4.4"/><circle cx="1460.1" cy="461.6" r="4.4"/><circle cx="1515.9" cy="461.6" r="4.4"/><circle cx="1452.0" cy="462.9" r="4.4"/><circle cx="1480.1" cy="463.3" r="4.4"/><circle cx="1468.9" cy="463.5" r="4.4"/><circle cx="1495.1" cy="464.2" r="4.4"/><circle cx="1462.9" cy="464.3" r="4.4"/><circle cx="1503.3" cy="464.7" r="4.4"/><circle cx="1446.9" cy="465.2" r="4.4"/><circle cx="1516.6" cy="465.4" r="4.4"/><circle cx="1447.1" cy="465.4" r="4.4"/><circle cx="1493.4" cy="465.5" r="4.4"/><circle cx="1483.8" cy="465.8" r="4.4"/><circle cx="1493.3" cy="465.9" r="4.4"/><circle cx="1471.6" cy="466.5" r="4.4"/><circle cx="1501.7" cy="467.6" r="4.4"/><circle cx="1481.6" cy="468.1" r="4.4"/><circle cx="1471.4" cy="468.2" r="4.4"/><circle cx="1490.0" cy="468.3" r="4.4"/><circle cx="1462.7" cy="468.6" r="4.4"/><circle cx="1501.5" cy="469.2" r="4.4"/><circle cx="1448.6" cy="469.4" r="4.4"/><circle cx="1512.2" cy="469.4" r="4.4"/><circle cx="1468.4" cy="469.6" r="4.4"/><circle cx="1482.7" cy="469.7" r="4.4"/><circle cx="1458.1" cy="470.2" r="4.4"/><circle cx="1482.4" cy="470.7" r="4.4"/><circle cx="1492.9" cy="470.9" r="4.4"/><circle cx="1471.7" cy="471.2" r="4.4"/><circle cx="1502.3" cy="472.0" r="4.4"/><circle cx="1459.8" cy="472.3" r="4.4"/><circle cx="1514.7" cy="472.7" r="4.4"/><circle cx="1481.4" cy="473.8" r="4.4"/><circle cx="1471.9" cy="474.5" r="4.4"/><circle cx="1481.5" cy="475.8" r="4.4"/><circle cx="1492.3" cy="477.1" r="4.4"/><circle cx="1479.1" cy="477.9" r="4.4"/><circle cx="1471.7" cy="479.2" r="4.4"/><circle cx="1492.5" cy="479.3" r="4.4"/><circle cx="1458.7" cy="479.9" r="4.4"/><circle cx="1483.3" cy="481.3" r="4.4"/><circle cx="1494.2" cy="481.3" r="4.4"/><circle cx="1470.8" cy="481.8" r="4.4"/><circle cx="1501.6" cy="481.9" r="4.4"/><circle cx="1481.7" cy="482.9" r="4.4"/><circle cx="1468.8" cy="483.9" r="4.4"/><circle cx="1490.5" cy="484.0" r="4.4"/><circle cx="1459.8" cy="484.1" r="4.4"/><circle cx="1501.1" cy="484.5" r="4.4"/><circle cx="1481.5" cy="485.6" r="4.4"/><circle cx="1481.9" cy="487.5" r="4.4"/><circle cx="1468.4" cy="488.5" r="4.4"/><circle cx="1493.4" cy="489.0" r="4.4"/><circle cx="1457.9" cy="489.6" r="4.4"/><circle cx="1483.1" cy="490.3" r="4.4"/><circle cx="1494.2" cy="491.3" r="4.4"/><circle cx="1481.9" cy="492.1" r="4.4"/><circle cx="1468.5" cy="492.7" r="4.4"/><circle cx="1481.8" cy="496.9" r="4.4"/><circle cx="1481.1" cy="506.4" r="4.4"/><circle cx="1484.3" cy="507.4" r="4.4"/><circle cx="1469.0" cy="508.5" r="4.4"/><circle cx="1481.8" cy="167.1" r="4.4"/><circle cx="1481.8" cy="183.9" r="4.4"/><circle cx="1480.8" cy="224.9" r="4.4"/><circle cx="1491.8" cy="227.5" r="4.4"/><circle cx="1469.8" cy="306.3" r="4.4"/><circle cx="1493.8" cy="306.8" r="4.4"/><circle cx="1481.8" cy="316.8" r="4.4"/><circle cx="1481.8" cy="328.9" r="4.4"/><circle cx="1481.8" cy="340.4" r="4.4"/><circle cx="1469.8" cy="347.8" r="4.4"/><circle cx="1493.8" cy="348.3" r="4.4"/><circle cx="1481.8" cy="352.0" r="4.4"/><circle cx="1469.8" cy="350.9" r="4.4"/><circle cx="1478.8" cy="353.0" r="4.4"/></g>
<g fill="none" stroke="#bdb048" stroke-width="1.8"><circle cx="1557.5" cy="365.6" r="4.4"/><circle cx="1558.3" cy="370.9" r="4.4"/><circle cx="1546.0" cy="373.0" r="4.4"/><circle cx="1557.3" cy="379.1" r="4.4"/><circle cx="1553.8" cy="384.1" r="4.4"/><circle cx="1547.4" cy="384.5" r="4.4"/><circle cx="1566.3" cy="385.1" r="4.4"/><circle cx="1558.1" cy="385.4" r="4.4"/><circle cx="1547.1" cy="386.0" r="4.4"/><circle cx="1564.5" cy="386.2" r="4.4"/><circle cx="1557.1" cy="387.1" r="4.4"/><circle cx="1557.9" cy="392.5" r="4.4"/><circle cx="1542.3" cy="392.7" r="4.4"/><circle cx="1565.5" cy="393.2" r="4.4"/><circle cx="1535.4" cy="395.3" r="4.4"/><circle cx="1553.6" cy="395.6" r="4.4"/><circle cx="1568.6" cy="395.9" r="4.4"/><circle cx="1543.5" cy="397.3" r="4.4"/><circle cx="1578.9" cy="397.4" r="4.4"/><circle cx="1531.9" cy="397.9" r="4.4"/><circle cx="1579.7" cy="399.3" r="4.4"/><circle cx="1555.4" cy="401.2" r="4.4"/><circle cx="1545.2" cy="402.0" r="4.4"/><circle cx="1567.0" cy="402.3" r="4.4"/><circle cx="1532.5" cy="402.5" r="4.4"/><circle cx="1576.4" cy="404.0" r="4.4"/><circle cx="1553.8" cy="405.1" r="4.4"/><circle cx="1565.8" cy="405.9" r="4.4"/><circle cx="1545.5" cy="406.4" r="4.4"/><circle cx="1575.9" cy="406.9" r="4.4"/><circle cx="1533.0" cy="406.9" r="4.4"/><circle cx="1564.5" cy="408.1" r="4.4"/><circle cx="1542.6" cy="409.0" r="4.4"/><circle cx="1555.7" cy="409.8" r="4.4"/><circle cx="1545.5" cy="410.4" r="4.4"/><circle cx="1565.5" cy="410.5" r="4.4"/><circle cx="1536.0" cy="411.3" r="4.4"/><circle cx="1577.4" cy="411.6" r="4.4"/><circle cx="1535.0" cy="411.9" r="4.4"/><circle cx="1554.1" cy="412.0" r="4.4"/><circle cx="1534.7" cy="412.5" r="4.4"/><circle cx="1567.7" cy="413.1" r="4.4"/><circle cx="1554.8" cy="415.5" r="4.4"/><circle cx="1565.6" cy="417.7" r="4.4"/><circle cx="1544.0" cy="417.9" r="4.4"/><circle cx="1553.6" cy="418.7" r="4.4"/><circle cx="1543.8" cy="419.1" r="4.4"/><circle cx="1564.0" cy="419.8" r="4.4"/><circle cx="1532.4" cy="420.7" r="4.4"/><circle cx="1556.2" cy="423.2" r="4.4"/><circle cx="1568.9" cy="424.7" r="4.4"/><circle cx="1543.6" cy="424.7" r="4.4"/><circle cx="1577.2" cy="425.0" r="4.4"/><circle cx="1532.9" cy="426.1" r="4.4"/><circle cx="1579.5" cy="426.1" r="4.4"/><circle cx="1546.0" cy="427.0" r="4.4"/><circle cx="1574.5" cy="427.2" r="4.4"/><circle cx="1553.6" cy="429.9" r="4.4"/><circle cx="1545.4" cy="431.1" r="4.4"/><circle cx="1566.0" cy="432.1" r="4.4"/><circle cx="1555.6" cy="432.9" r="4.4"/><circle cx="1568.5" cy="433.4" r="4.4"/><circle cx="1542.7" cy="433.6" r="4.4"/><circle cx="1575.6" cy="435.7" r="4.4"/><circle cx="1556.4" cy="437.3" r="4.4"/><circle cx="1542.1" cy="438.0" r="4.4"/><circle cx="1563.5" cy="439.0" r="4.4"/><circle cx="1533.1" cy="440.2" r="4.4"/><circle cx="1574.9" cy="440.4" r="4.4"/><circle cx="1544.9" cy="441.1" r="4.4"/><circle cx="1566.8" cy="441.2" r="4.4"/><circle cx="1531.9" cy="441.5" r="4.4"/><circle cx="1554.8" cy="442.2" r="4.4"/><circle cx="1568.2" cy="442.3" r="4.4"/><circle cx="1542.8" cy="443.5" r="4.4"/><circle cx="1574.4" cy="444.8" r="4.4"/><circle cx="1535.6" cy="445.3" r="4.4"/><circle cx="1556.7" cy="448.4" r="4.4"/><circle cx="1544.5" cy="449.3" r="4.4"/><circle cx="1563.9" cy="449.8" r="4.4"/><circle cx="1531.9" cy="449.9" r="4.4"/><circle cx="1578.1" cy="450.4" r="4.4"/><circle cx="1544.2" cy="450.8" r="4.4"/><circle cx="1554.2" cy="451.7" r="4.4"/><circle cx="1563.6" cy="453.8" r="4.4"/><circle cx="1545.5" cy="454.6" r="4.4"/><circle cx="1555.9" cy="455.7" r="4.4"/><circle cx="1543.9" cy="456.1" r="4.4"/><circle cx="1567.1" cy="456.3" r="4.4"/><circle cx="1533.6" cy="458.7" r="4.4"/><circle cx="1579.6" cy="459.5" r="4.4"/><circle cx="1533.9" cy="459.7" r="4.4"/><circle cx="1557.8" cy="459.9" r="4.4"/><circle cx="1553.0" cy="460.7" r="4.4"/><circle cx="1566.5" cy="461.1" r="4.4"/><circle cx="1544.2" cy="462.0" r="4.4"/><circle cx="1575.7" cy="462.8" r="4.4"/><circle cx="1531.5" cy="462.9" r="4.4"/><circle cx="1557.1" cy="466.1" r="4.4"/><circle cx="1542.0" cy="467.4" r="4.4"/><circle cx="1566.6" cy="468.0" r="4.4"/><circle cx="1536.4" cy="468.7" r="4.4"/><circle cx="1553.5" cy="470.6" r="4.4"/><circle cx="1564.7" cy="470.7" r="4.4"/><circle cx="1545.3" cy="471.2" r="4.4"/><circle cx="1577.2" cy="471.9" r="4.4"/><circle cx="1534.7" cy="472.1" r="4.4"/><circle cx="1575.3" cy="473.1" r="4.4"/><circle cx="1542.3" cy="473.3" r="4.4"/><circle cx="1556.2" cy="474.1" r="4.4"/><circle cx="1547.5" cy="474.1" r="4.4"/><circle cx="1567.6" cy="474.2" r="4.4"/><circle cx="1533.8" cy="476.4" r="4.4"/><circle cx="1577.3" cy="476.7" r="4.4"/><circle cx="1546.7" cy="477.6" r="4.4"/><circle cx="1556.9" cy="478.6" r="4.4"/><circle cx="1566.1" cy="479.2" r="4.4"/><circle cx="1546.1" cy="480.5" r="4.4"/><circle cx="1576.9" cy="480.7" r="4.4"/><circle cx="1532.4" cy="481.1" r="4.4"/><circle cx="1554.2" cy="482.1" r="4.4"/><circle cx="1531.4" cy="482.5" r="4.4"/><circle cx="1568.5" cy="482.9" r="4.4"/><circle cx="1557.9" cy="484.0" r="4.4"/><circle cx="1547.2" cy="484.1" r="4.4"/><circle cx="1565.0" cy="486.5" r="4.4"/><circle cx="1531.4" cy="486.8" r="4.4"/><circle cx="1577.9" cy="487.2" r="4.4"/><circle cx="1556.5" cy="495.4" r="4.4"/><circle cx="1556.6" cy="498.0" r="4.4"/><circle cx="1568.7" cy="500.6" r="4.4"/><circle cx="1558.2" cy="504.3" r="4.4"/><circle cx="1543.6" cy="505.3" r="4.4"/><circle cx="1568.7" cy="505.9" r="4.4"/><circle cx="1557.7" cy="506.4" r="4.4"/><circle cx="1564.0" cy="506.9" r="4.4"/><circle cx="1544.8" cy="507.4" r="4.4"/><circle cx="1555.5" cy="103.0" r="4.4"/><circle cx="1555.5" cy="180.2" r="4.4"/><circle cx="1555.5" cy="230.1" r="4.4"/><circle cx="1555.5" cy="267.9" r="4.4"/><circle cx="1555.5" cy="337.8" r="4.4"/><circle cx="1565.5" cy="343.0" r="4.4"/><circle cx="1555.5" cy="353.0" r="4.4"/><circle cx="1565.5" cy="358.8" r="4.4"/></g>
<g fill="none" stroke="#1a7a1a" stroke-width="1.8"><circle cx="1627.4" cy="377.2" r="4.4"/><circle cx="1641.7" cy="379.3" r="4.4"/><circle cx="1631.2" cy="384.5" r="4.4"/><circle cx="1627.6" cy="386.6" r="4.4"/><circle cx="1627.4" cy="388.7" r="4.4"/><circle cx="1631.6" cy="395.0" r="4.4"/><circle cx="1627.5" cy="400.8" r="4.4"/><circle cx="1628.6" cy="411.6" r="4.4"/><circle cx="1629.8" cy="413.3" r="4.4"/><circle cx="1618.4" cy="413.6" r="4.4"/><circle cx="1641.4" cy="414.0" r="4.4"/><circle cx="1611.2" cy="414.5" r="4.4"/><circle cx="1652.4" cy="414.7" r="4.4"/><circle cx="1600.6" cy="414.9" r="4.4"/><circle cx="1629.5" cy="415.1" r="4.4"/><circle cx="1639.3" cy="415.7" r="4.4"/><circle cx="1619.2" cy="416.1" r="4.4"/><circle cx="1646.9" cy="416.1" r="4.4"/><circle cx="1606.2" cy="416.2" r="4.4"/><circle cx="1662.4" cy="416.7" r="4.4"/><circle cx="1597.2" cy="417.3" r="4.4"/><circle cx="1672.2" cy="417.3" r="4.4"/><circle cx="1590.1" cy="417.4" r="4.4"/><circle cx="1628.7" cy="417.8" r="4.4"/><circle cx="1619.5" cy="418.4" r="4.4"/><circle cx="1639.8" cy="419.0" r="4.4"/><circle cx="1607.0" cy="419.0" r="4.4"/><circle cx="1647.1" cy="419.8" r="4.4"/><circle cx="1627.1" cy="420.5" r="4.4"/><circle cx="1640.1" cy="420.8" r="4.4"/><circle cx="1617.2" cy="420.8" r="4.4"/><circle cx="1652.3" cy="421.6" r="4.4"/><circle cx="1610.0" cy="421.7" r="4.4"/><circle cx="1657.2" cy="422.5" r="4.4"/><circle cx="1627.2" cy="423.1" r="4.4"/><circle cx="1619.9" cy="423.6" r="4.4"/><circle cx="1626.7" cy="425.5" r="4.4"/><circle cx="1637.0" cy="426.6" r="4.4"/><circle cx="1626.7" cy="427.9" r="4.4"/><circle cx="1621.1" cy="429.1" r="4.4"/><circle cx="1630.7" cy="430.2" r="4.4"/><circle cx="1637.8" cy="430.5" r="4.4"/><circle cx="1621.6" cy="431.5" r="4.4"/><circle cx="1649.9" cy="431.7" r="4.4"/><circle cx="1609.8" cy="432.4" r="4.4"/><circle cx="1631.4" cy="432.6" r="4.4"/><circle cx="1620.5" cy="432.6" r="4.4"/><circle cx="1640.6" cy="432.7" r="4.4"/><circle cx="1608.2" cy="433.1" r="4.4"/><circle cx="1648.2" cy="433.3" r="4.4"/><circle cx="1597.0" cy="433.9" r="4.4"/><circle cx="1657.3" cy="434.0" r="4.4"/><circle cx="1591.0" cy="434.1" r="4.4"/><circle cx="1672.4" cy="434.2" r="4.4"/><circle cx="1631.1" cy="434.2" r="4.4"/><circle cx="1649.5" cy="435.0" r="4.4"/><circle cx="1627.2" cy="435.3" r="4.4"/><circle cx="1641.1" cy="435.4" r="4.4"/><circle cx="1619.9" cy="435.5" r="4.4"/><circle cx="1648.5" cy="435.9" r="4.4"/><circle cx="1608.0" cy="436.4" r="4.4"/><circle cx="1658.5" cy="437.2" r="4.4"/><circle cx="1597.8" cy="437.2" r="4.4"/><circle cx="1672.5" cy="437.5" r="4.4"/><circle cx="1626.7" cy="437.8" r="4.4"/><circle cx="1620.5" cy="438.4" r="4.4"/><circle cx="1641.8" cy="438.4" r="4.4"/><circle cx="1610.4" cy="438.8" r="4.4"/><circle cx="1650.2" cy="439.3" r="4.4"/><circle cx="1598.5" cy="439.6" r="4.4"/><circle cx="1628.1" cy="440.0" r="4.4"/><circle cx="1640.8" cy="440.1" r="4.4"/><circle cx="1620.7" cy="440.2" r="4.4"/><circle cx="1647.0" cy="440.3" r="4.4"/><circle cx="1609.0" cy="440.3" r="4.4"/><circle cx="1657.6" cy="440.6" r="4.4"/><circle cx="1598.5" cy="440.7" r="4.4"/><circle cx="1667.5" cy="440.9" r="4.4"/><circle cx="1588.8" cy="441.0" r="4.4"/><circle cx="1629.7" cy="441.2" r="4.4"/><circle cx="1607.0" cy="441.4" r="4.4"/><circle cx="1629.4" cy="441.5" r="4.4"/><circle cx="1610.3" cy="442.2" r="4.4"/><circle cx="1631.9" cy="442.6" r="4.4"/><circle cx="1616.3" cy="442.7" r="4.4"/><circle cx="1639.4" cy="443.8" r="4.4"/><circle cx="1608.8" cy="444.8" r="4.4"/><circle cx="1651.3" cy="444.9" r="4.4"/><circle cx="1627.5" cy="445.0" r="4.4"/><circle cx="1639.4" cy="445.2" r="4.4"/><circle cx="1618.2" cy="445.3" r="4.4"/><circle cx="1651.5" cy="445.3" r="4.4"/><circle cx="1607.5" cy="446.2" r="4.4"/><circle cx="1662.4" cy="446.4" r="4.4"/><circle cx="1597.5" cy="446.6" r="4.4"/><circle cx="1668.5" cy="446.7" r="4.4"/><circle cx="1589.6" cy="446.8" r="4.4"/><circle cx="1658.0" cy="447.4" r="4.4"/><circle cx="1631.7" cy="447.8" r="4.4"/><circle cx="1620.6" cy="447.9" r="4.4"/><circle cx="1639.4" cy="447.9" r="4.4"/><circle cx="1611.6" cy="448.0" r="4.4"/><circle cx="1650.0" cy="448.7" r="4.4"/><circle cx="1596.5" cy="448.7" r="4.4"/><circle cx="1658.9" cy="449.2" r="4.4"/><circle cx="1586.2" cy="449.4" r="4.4"/><circle cx="1672.5" cy="449.8" r="4.4"/><circle cx="1628.8" cy="449.8" r="4.4"/><circle cx="1628.5" cy="450.0" r="4.4"/><circle cx="1628.2" cy="450.0" r="4.4"/><circle cx="1639.1" cy="450.1" r="4.4"/><circle cx="1619.3" cy="450.2" r="4.4"/><circle cx="1647.8" cy="450.6" r="4.4"/><circle cx="1611.6" cy="451.6" r="4.4"/><circle cx="1660.6" cy="451.8" r="4.4"/><circle cx="1601.2" cy="452.1" r="4.4"/><circle cx="1668.0" cy="452.2" r="4.4"/><circle cx="1589.0" cy="452.2" r="4.4"/><circle cx="1670.9" cy="452.2" r="4.4"/><circle cx="1609.3" cy="452.3" r="4.4"/><circle cx="1629.4" cy="452.6" r="4.4"/><circle cx="1621.1" cy="453.0" r="4.4"/><circle cx="1639.2" cy="453.3" r="4.4"/><circle cx="1609.2" cy="453.6" r="4.4"/><circle cx="1648.7" cy="453.7" r="4.4"/><circle cx="1598.5" cy="454.0" r="4.4"/><circle cx="1660.9" cy="454.0" r="4.4"/><circle cx="1587.1" cy="454.2" r="4.4"/><circle cx="1668.6" cy="454.3" r="4.4"/><circle cx="1608.7" cy="454.4" r="4.4"/><circle cx="1639.5" cy="455.0" r="4.4"/><circle cx="1628.0" cy="455.0" r="4.4"/><circle cx="1640.9" cy="455.0" r="4.4"/><circle cx="1620.9" cy="455.1" r="4.4"/><circle cx="1650.3" cy="455.2" r="4.4"/><circle cx="1610.1" cy="455.2" r="4.4"/><circle cx="1662.5" cy="455.5" r="4.4"/><circle cx="1599.9" cy="456.0" r="4.4"/><circle cx="1670.6" cy="456.1" r="4.4"/><circle cx="1587.6" cy="456.4" r="4.4"/><circle cx="1638.5" cy="456.6" r="4.4"/><circle cx="1617.7" cy="456.7" r="4.4"/><circle cx="1627.4" cy="456.9" r="4.4"/><circle cx="1627.6" cy="457.5" r="4.4"/><circle cx="1627.3" cy="457.6" r="4.4"/><circle cx="1617.1" cy="458.2" r="4.4"/><circle cx="1638.4" cy="458.2" r="4.4"/><circle cx="1607.7" cy="458.5" r="4.4"/><circle cx="1648.4" cy="458.5" r="4.4"/><circle cx="1596.5" cy="458.7" r="4.4"/><circle cx="1662.2" cy="458.7" r="4.4"/><circle cx="1587.2" cy="458.8" r="4.4"/><circle cx="1672.2" cy="459.0" r="4.4"/><circle cx="1596.1" cy="459.1" r="4.4"/><circle cx="1661.9" cy="459.1" r="4.4"/><circle cx="1599.7" cy="459.4" r="4.4"/><circle cx="1672.8" cy="459.8" r="4.4"/><circle cx="1628.1" cy="460.2" r="4.4"/><circle cx="1636.8" cy="460.2" r="4.4"/><circle cx="1617.7" cy="460.5" r="4.4"/><circle cx="1651.0" cy="460.6" r="4.4"/><circle cx="1606.1" cy="460.6" r="4.4"/><circle cx="1658.4" cy="460.6" r="4.4"/><circle cx="1600.6" cy="460.7" r="4.4"/><circle cx="1671.2" cy="460.7" r="4.4"/><circle cx="1589.0" cy="460.9" r="4.4"/><circle cx="1661.8" cy="461.0" r="4.4"/><circle cx="1590.4" cy="461.1" r="4.4"/><circle cx="1640.3" cy="461.1" r="4.4"/><circle cx="1598.3" cy="461.3" r="4.4"/><circle cx="1650.4" cy="461.3" r="4.4"/><circle cx="1631.5" cy="461.4" r="4.4"/><circle cx="1641.0" cy="461.5" r="4.4"/><circle cx="1617.7" cy="461.7" r="4.4"/><circle cx="1659.8" cy="461.9" r="4.4"/><circle cx="1629.9" cy="461.9" r="4.4"/><circle cx="1660.0" cy="462.0" r="4.4"/><circle cx="1621.3" cy="462.1" r="4.4"/><circle cx="1651.2" cy="462.1" r="4.4"/><circle cx="1600.5" cy="462.5" r="4.4"/><circle cx="1631.6" cy="462.6" r="4.4"/><circle cx="1616.9" cy="463.0" r="4.4"/><circle cx="1638.1" cy="463.2" r="4.4"/><circle cx="1607.3" cy="463.3" r="4.4"/><circle cx="1650.9" cy="464.0" r="4.4"/><circle cx="1601.2" cy="464.3" r="4.4"/><circle cx="1658.2" cy="464.3" r="4.4"/><circle cx="1587.6" cy="464.3" r="4.4"/><circle cx="1672.0" cy="464.3" r="4.4"/><circle cx="1598.9" cy="464.4" r="4.4"/><circle cx="1659.9" cy="464.5" r="4.4"/><circle cx="1609.0" cy="464.8" r="4.4"/><circle cx="1661.2" cy="464.9" r="4.4"/><circle cx="1597.0" cy="464.9" r="4.4"/><circle cx="1638.9" cy="465.0" r="4.4"/><circle cx="1630.7" cy="465.0" r="4.4"/><circle cx="1637.4" cy="465.2" r="4.4"/><circle cx="1621.8" cy="465.2" r="4.4"/><circle cx="1648.9" cy="465.2" r="4.4"/><circle cx="1606.4" cy="465.3" r="4.4"/><circle cx="1658.6" cy="465.3" r="4.4"/><circle cx="1598.1" cy="465.4" r="4.4"/><circle cx="1667.3" cy="465.6" r="4.4"/><circle cx="1588.0" cy="465.9" r="4.4"/><circle cx="1660.6" cy="466.4" r="4.4"/><circle cx="1609.3" cy="466.5" r="4.4"/><circle cx="1627.7" cy="466.5" r="4.4"/><circle cx="1601.1" cy="466.5" r="4.4"/><circle cx="1672.7" cy="466.8" r="4.4"/><circle cx="1632.0" cy="467.7" r="4.4"/><circle cx="1621.6" cy="467.7" r="4.4"/><circle cx="1639.3" cy="468.0" r="4.4"/><circle cx="1607.0" cy="468.0" r="4.4"/><circle cx="1652.1" cy="468.2" r="4.4"/><circle cx="1596.3" cy="468.3" r="4.4"/><circle cx="1661.5" cy="468.5" r="4.4"/><circle cx="1586.7" cy="468.8" r="4.4"/><circle cx="1670.9" cy="469.4" r="4.4"/><circle cx="1620.8" cy="469.6" r="4.4"/><circle cx="1638.6" cy="469.6" r="4.4"/><circle cx="1598.5" cy="469.7" r="4.4"/><circle cx="1651.1" cy="469.8" r="4.4"/><circle cx="1620.6" cy="469.9" r="4.4"/><circle cx="1629.1" cy="470.0" r="4.4"/><circle cx="1641.1" cy="470.1" r="4.4"/><circle cx="1617.6" cy="470.5" r="4.4"/><circle cx="1650.8" cy="470.7" r="4.4"/><circle cx="1609.9" cy="471.0" r="4.4"/><circle cx="1662.6" cy="471.6" r="4.4"/><circle cx="1599.7" cy="471.7" r="4.4"/><circle cx="1670.0" cy="471.8" r="4.4"/><circle cx="1590.2" cy="472.2" r="4.4"/><circle cx="1648.9" cy="472.3" r="4.4"/><circle cx="1630.1" cy="472.5" r="4.4"/><circle cx="1618.1" cy="472.5" r="4.4"/><circle cx="1639.4" cy="472.6" r="4.4"/><circle cx="1609.6" cy="472.8" r="4.4"/><circle cx="1647.3" cy="473.0" r="4.4"/><circle cx="1600.9" cy="473.1" r="4.4"/><circle cx="1657.9" cy="473.2" r="4.4"/><circle cx="1587.4" cy="473.2" r="4.4"/><circle cx="1669.4" cy="473.3" r="4.4"/><circle cx="1631.1" cy="473.3" r="4.4"/><circle cx="1651.3" cy="473.5" r="4.4"/><circle cx="1619.2" cy="473.6" r="4.4"/><circle cx="1650.4" cy="473.6" r="4.4"/><circle cx="1630.1" cy="473.6" r="4.4"/><circle cx="1642.0" cy="473.7" r="4.4"/><circle cx="1607.5" cy="473.8" r="4.4"/><circle cx="1629.7" cy="474.0" r="4.4"/><circle cx="1617.3" cy="474.3" r="4.4"/><circle cx="1659.0" cy="474.5" r="4.4"/><circle cx="1617.4" cy="474.5" r="4.4"/><circle cx="1661.5" cy="474.8" r="4.4"/><circle cx="1627.4" cy="475.1" r="4.4"/><circle cx="1641.7" cy="475.2" r="4.4"/><circle cx="1619.7" cy="475.7" r="4.4"/><circle cx="1651.2" cy="475.8" r="4.4"/><circle cx="1609.8" cy="475.9" r="4.4"/><circle cx="1662.1" cy="476.0" r="4.4"/><circle cx="1600.3" cy="476.3" r="4.4"/><circle cx="1672.0" cy="476.6" r="4.4"/><circle cx="1586.8" cy="477.1" r="4.4"/><circle cx="1630.3" cy="477.6" r="4.4"/><circle cx="1619.2" cy="477.9" r="4.4"/><circle cx="1640.8" cy="478.1" r="4.4"/><circle cx="1608.5" cy="478.7" r="4.4"/><circle cx="1651.8" cy="479.1" r="4.4"/><circle cx="1599.0" cy="479.4" r="4.4"/><circle cx="1658.5" cy="479.6" r="4.4"/><circle cx="1587.0" cy="479.7" r="4.4"/><circle cx="1627.2" cy="480.2" r="4.4"/><circle cx="1639.4" cy="480.2" r="4.4"/><circle cx="1616.6" cy="480.2" r="4.4"/><circle cx="1649.5" cy="480.2" r="4.4"/><circle cx="1606.9" cy="480.9" r="4.4"/><circle cx="1659.8" cy="481.4" r="4.4"/><circle cx="1598.7" cy="481.5" r="4.4"/><circle cx="1670.3" cy="481.5" r="4.4"/><circle cx="1590.5" cy="481.6" r="4.4"/><circle cx="1627.4" cy="481.7" r="4.4"/><circle cx="1608.7" cy="482.3" r="4.4"/><circle cx="1670.1" cy="482.4" r="4.4"/><circle cx="1610.8" cy="482.5" r="4.4"/><circle cx="1628.6" cy="483.6" r="4.4"/><circle cx="1618.6" cy="483.9" r="4.4"/><circle cx="1642.0" cy="484.2" r="4.4"/><circle cx="1606.5" cy="484.3" r="4.4"/><circle cx="1630.0" cy="485.3" r="4.4"/><circle cx="1640.2" cy="485.4" r="4.4"/><circle cx="1616.4" cy="485.5" r="4.4"/><circle cx="1650.3" cy="486.0" r="4.4"/><circle cx="1609.9" cy="487.0" r="4.4"/><circle cx="1631.7" cy="487.7" r="4.4"/><circle cx="1618.1" cy="488.2" r="4.4"/><circle cx="1642.2" cy="488.3" r="4.4"/><circle cx="1608.9" cy="488.7" r="4.4"/><circle cx="1649.6" cy="488.8" r="4.4"/><circle cx="1600.9" cy="489.5" r="4.4"/><circle cx="1657.3" cy="489.6" r="4.4"/><circle cx="1589.7" cy="490.0" r="4.4"/><circle cx="1630.0" cy="490.1" r="4.4"/><circle cx="1638.6" cy="490.7" r="4.4"/><circle cx="1621.1" cy="491.0" r="4.4"/><circle cx="1648.9" cy="491.0" r="4.4"/><circle cx="1608.7" cy="491.9" r="4.4"/><circle cx="1660.0" cy="492.3" r="4.4"/><circle cx="1630.8" cy="492.7" r="4.4"/><circle cx="1617.4" cy="492.7" r="4.4"/><circle cx="1639.1" cy="494.4" r="4.4"/><circle cx="1628.8" cy="497.4" r="4.4"/><circle cx="1629.6" cy="497.5" r="4.4"/><circle cx="1631.1" cy="500.6" r="4.4"/><circle cx="1638.3" cy="502.2" r="4.4"/><circle cx="1631.1" cy="506.9" r="4.4"/><circle cx="1638.9" cy="507.4" r="4.4"/><circle cx="1629.3" cy="508.5" r="4.4"/><circle cx="1629.3" cy="232.7" r="4.4"/><circle cx="1629.3" cy="325.7" r="4.4"/><circle cx="1629.3" cy="343.0" r="4.4"/><circle cx="1617.3" cy="347.8" r="4.4"/><circle cx="1641.3" cy="348.8" r="4.4"/><circle cx="1629.3" cy="359.9" r="4.4"/><circle cx="1639.3" cy="365.6" r="4.4"/><circle cx="1629.3" cy="369.3" r="4.4"/></g>
<g fill="none" stroke="#777" stroke-width="1.8"><circle cx="1689.3" cy="479.6" r="4.4"/><circle cx="1719.3" cy="480.1" r="4.4"/><circle cx="1691.3" cy="487.5" r="4.4"/><circle cx="1702.3" cy="488.5" r="4.4"/><circle cx="1703.3" cy="489.6" r="4.4"/></g>
<g fill="none" stroke="#2b2b2b" stroke-width="1.8"><circle cx="1747.0" cy="505.3" r="4.4"/><circle cx="1752.0" cy="504.8" r="4.4"/><circle cx="1757.0" cy="505.9" r="4.4"/><circle cx="1763.0" cy="504.3" r="4.4"/><circle cx="1769.0" cy="505.9" r="4.4"/><circle cx="1773.0" cy="506.4" r="4.4"/><circle cx="1776.0" cy="501.1" r="4.4"/><circle cx="1780.0" cy="506.9" r="4.4"/><circle cx="1785.0" cy="504.3" r="4.4"/><circle cx="1789.0" cy="505.3" r="4.4"/><circle cx="1794.0" cy="504.8" r="4.4"/><circle cx="1799.0" cy="505.3" r="4.4"/><circle cx="1804.0" cy="503.8" r="4.4"/><circle cx="1776.0" cy="507.4" r="4.4"/><circle cx="1787.0" cy="506.4" r="4.4"/></g>
<path d="M1371.20 87.50L1371.20 509.70" stroke="#000" stroke-width="2.6" />
<path d="M1444.93 87.50L1444.93 509.70" stroke="#000" stroke-width="2.6" />
<path d="M1518.67 87.50L1518.67 509.70" stroke="#000" stroke-width="2.6" />
<path d="M1592.40 87.50L1592.40 509.70" stroke="#000" stroke-width="2.6" />
<path d="M1666.13 87.50L1666.13 509.70" stroke="#000" stroke-width="2.6" />
<path d="M1739.87 87.50L1739.87 509.70" stroke="#000" stroke-width="2.6" />
<path d="M1813.60 87.50L1813.60 509.70" stroke="#000" stroke-width="2.6" />
<path d="M1369.90 88.30L1813.60 88.30" stroke="#000" stroke-width="2.4" />
<path d="M1369.90 508.50L1813.60 508.50" stroke="#000" stroke-width="2.6" />
<path d="M1408.07 508.50L1408.07 514.50" stroke="#222" stroke-width="1.4" />
<path d="M1481.80 508.50L1481.80 514.50" stroke="#222" stroke-width="1.4" />
<path d="M1555.53 508.50L1555.53 514.50" stroke="#222" stroke-width="1.4" />
<path d="M1629.27 508.50L1629.27 514.50" stroke="#222" stroke-width="1.4" />
<path d="M1703.00 508.50L1703.00 514.50" stroke="#222" stroke-width="1.4" />
<path d="M1776.73 508.50L1776.73 514.50" stroke="#222" stroke-width="1.4" />
<path d="M1420.20 72.60L1779.00 72.60" stroke="#000" stroke-width="5" />
<path d="M1699.90 70.10L1699.90 322.50" stroke="#000" stroke-width="5.2" />
<path d="M1780.90 69.00L1780.90 319.60" stroke="#000" stroke-width="5.2" />
<text x="1574.3" y="69.5" font-size="37" textLength="55.5" lengthAdjust="spacing">***</text>
<text transform="translate(1419.57 525.00) rotate(-90)" font-size="31.5" font-weight="bold" text-anchor="end" textLength="63.60" lengthAdjust="spacingAndGlyphs" stroke="#000" stroke-width="0.35">WNT</text>
<text transform="translate(1493.30 525.00) rotate(-90)" font-size="31.5" font-weight="bold" text-anchor="end" textLength="60.50" lengthAdjust="spacingAndGlyphs" stroke="#000" stroke-width="0.35">SHH</text>
<text transform="translate(1567.03 527.00) rotate(-90)" font-size="31.5" font-weight="bold" text-anchor="end" textLength="111.00" lengthAdjust="spacingAndGlyphs" stroke="#000" stroke-width="0.35">Group 3</text>
<text transform="translate(1640.77 527.00) rotate(-90)" font-size="31.5" font-weight="bold" text-anchor="end" textLength="107.00" lengthAdjust="spacingAndGlyphs" stroke="#000" stroke-width="0.35">Group 4</text>
<text transform="translate(1714.50 524.60) rotate(-90)" font-size="31.5" font-weight="bold" text-anchor="end" textLength="108.00" lengthAdjust="spacingAndGlyphs" stroke="#000" stroke-width="0.35">Fetal cb</text>
<text transform="translate(1788.23 521.70) rotate(-90)" font-size="31.5" font-weight="bold" text-anchor="end" textLength="117.50" lengthAdjust="spacingAndGlyphs" stroke="#000" stroke-width="0.35">Adult cb</text>
</g>
<g id="pC">
<text x="4.50" y="725.60" font-size="61.5" textLength="42.00" lengthAdjust="spacingAndGlyphs">C</text>
<defs>
<filter id="bl1" x="-5%" y="-5%" width="110%" height="110%" color-interpolation-filters="sRGB"><feGaussianBlur stdDeviation="1.0" result="b"/><feTurbulence type="fractalNoise" baseFrequency="0.42" numOctaves="2" seed="4"/><feColorMatrix type="matrix" values="1 0 0 0 0 0 1 0 0 0 0 0 1 0 0 0 0 0 0 1" result="n"/><feComposite in="b" in2="n" operator="arithmetic" k1="0" k2="1" k3="0.42" k4="-0.185"/></filter>
<filter id="bl2" x="-5%" y="-5%" width="110%" height="110%" color-interpolation-filters="sRGB"><feGaussianBlur stdDeviation="1.3" result="b"/><feTurbulence type="fractalNoise" baseFrequency="0.42" numOctaves="2" seed="5"/><feColorMatrix type="matrix" values="1 0 0 0 0 0 1 0 0 0 0 0 1 0 0 0 0 0 0 1" result="n"/><feComposite in="b" in2="n" operator="arithmetic" k1="0" k2="1" k3="0.42" k4="-0.185"/></filter>
<filter id="bl3" x="-5%" y="-5%" width="110%" height="110%" color-interpolation-filters="sRGB"><feGaussianBlur stdDeviation="1.2" result="b"/><feTurbulence type="fractalNoise" baseFrequency="0.42" numOctaves="2" seed="6"/><feColorMatrix type="matrix" values="1 0 0 0 0 0 1 0 0 0 0 0 1 0 0 0 0 0 0 1" result="n"/><feComposite in="b" in2="n" operator="arithmetic" k1="0" k2="1" k3="0.42" k4="-0.185"/></filter>
<filter id="bl4" x="-5%" y="-5%" width="110%" height="110%" color-interpolation-filters="sRGB"><feGaussianBlur stdDeviation="1.3" result="b"/><feTurbulence type="fractalNoise" baseFrequency="0.42" numOctaves="2" seed="7"/><feColorMatrix type="matrix" values="1 0 0 0 0 0 1 0 0 0 0 0 1 0 0 0 0 0 0 1" result="n"/><feComposite in="b" in2="n" operator="arithmetic" k1="0" k2="1" k3="0.42" k4="-0.225"/></filter>
<filter id="bl5" x="-5%" y="-5%" width="110%" height="110%" color-interpolation-filters="sRGB"><feGaussianBlur stdDeviation="1.1" result="b"/><feTurbulence type="fractalNoise" baseFrequency="0.42" numOctaves="2" seed="8"/><feColorMatrix type="matrix" values="1 0 0 0 0 0 1 0 0 0 0 0 1 0 0 0 0 0 0 1" result="n"/><feComposite in="b" in2="n" operator="arithmetic" k1="0" k2="1" k3="0.42" k4="-0.195"/></filter>
<filter id="blx" x="-20%" y="-20%" width="140%" height="140%"><feGaussianBlur stdDeviation="3.2"/></filter>
</defs>
<clipPath id="cl1"><rect x="110.9" y="704.8" width="285.2" height="316.7"/></clipPath>
<g clip-path="url(#cl1)"><g filter="url(#bl1)">
<rect x="105.9" y="699.8" width="295.2" height="326.7" fill="#9a9eb0"/>
<g filter="url(#blx)" opacity=".8"><g fill="#dcc0a0"><circle cx="352.5" cy="992.5" r="10.3"/><circle cx="304.9" cy="915.3" r="13.1"/><circle cx="137.9" cy="956.8" r="9.0"/><circle cx="199.7" cy="980.3" r="11.5"/><circle cx="209.5" cy="1004.4" r="13.0"/><circle cx="299.9" cy="878.9" r="7.0"/><circle cx="269.5" cy="799.9" r="8.4"/><circle cx="383.1" cy="859.2" r="12.4"/><circle cx="334.0" cy="938.9" r="7.5"/><circle cx="368.7" cy="887.5" r="9.8"/><circle cx="314.2" cy="1019.4" r="10.8"/><circle cx="219.0" cy="957.1" r="13.0"/></g><g fill="#d8b880"><circle cx="244.1" cy="914.9" r="7.7"/><circle cx="387.9" cy="727.1" r="7.5"/><circle cx="179.0" cy="955.4" r="9.4"/><circle cx="113.6" cy="883.5" r="7.2"/><circle cx="243.0" cy="765.8" r="11.4"/><circle cx="136.7" cy="1001.6" r="8.0"/><circle cx="180.6" cy="793.7" r="13.8"/><circle cx="245.3" cy="766.8" r="10.7"/><circle cx="206.3" cy="1001.5" r="8.3"/><circle cx="179.6" cy="842.6" r="9.6"/><circle cx="325.2" cy="782.7" r="10.6"/><circle cx="321.9" cy="843.8" r="11.3"/><circle cx="268.5" cy="769.6" r="6.3"/><circle cx="172.7" cy="957.0" r="6.8"/><circle cx="225.8" cy="747.2" r="6.5"/><circle cx="306.1" cy="724.4" r="6.8"/><circle cx="178.0" cy="933.8" r="9.1"/></g><g fill="#e9c890"><circle cx="372.6" cy="858.5" r="12.3"/><circle cx="321.4" cy="987.4" r="9.6"/><circle cx="134.1" cy="752.3" r="8.5"/><circle cx="232.1" cy="870.9" r="12.4"/><circle cx="114.4" cy="905.3" r="12.9"/><circle cx="320.1" cy="911.0" r="7.4"/><circle cx="121.7" cy="764.7" r="10.1"/><circle cx="142.2" cy="1017.8" r="9.6"/><circle cx="168.1" cy="752.7" r="7.3"/><circle cx="199.8" cy="788.4" r="12.0"/></g><g fill="#e6d6ae"><circle cx="237.9" cy="875.0" r="7.5"/><circle cx="233.6" cy="801.2" r="6.9"/><circle cx="234.0" cy="792.8" r="12.1"/><circle cx="303.6" cy="897.9" r="10.8"/><circle cx="152.5" cy="743.3" r="6.2"/><circle cx="228.4" cy="848.0" r="8.2"/><circle cx="279.9" cy="1000.8" r="8.7"/><circle cx="179.4" cy="828.1" r="7.9"/><circle cx="326.5" cy="765.2" r="12.2"/></g><g fill="#efe6c8"><circle cx="334.0" cy="777.4" r="6.6"/><circle cx="306.2" cy="935.4" r="8.9"/><circle cx="336.8" cy="749.2" r="7.4"/><circle cx="130.2" cy="878.5" r="11.5"/><circle cx="298.0" cy="718.9" r="8.7"/><circle cx="388.9" cy="900.7" r="12.7"/><circle cx="207.6" cy="936.0" r="7.2"/><circle cx="249.8" cy="766.1" r="8.2"/><circle cx="147.5" cy="892.5" r="11.3"/><circle cx="286.9" cy="1015.1" r="12.8"/></g><g fill="#c8d0c0"><circle cx="301.7" cy="706.9" r="9.7"/><circle cx="273.2" cy="757.5" r="12.8"/><circle cx="359.9" cy="1006.8" r="6.5"/><circle cx="214.8" cy="832.5" r="11.1"/><circle cx="173.8" cy="725.8" r="7.2"/><circle cx="168.6" cy="917.4" r="12.6"/><circle cx="128.5" cy="924.0" r="8.1"/><circle cx="145.5" cy="732.1" r="11.0"/><circle cx="389.0" cy="739.2" r="6.1"/><circle cx="337.5" cy="921.2" r="13.0"/><circle cx="326.3" cy="1001.1" r="8.7"/><circle cx="381.5" cy="900.1" r="12.2"/></g></g>
<g filter="url(#blx)" opacity=".85"><g fill="#ead9ae"><circle cx="124.4" cy="807.6" r="23.1"/><circle cx="184.4" cy="873.3" r="31.3"/><circle cx="201.3" cy="815.1" r="15.0"/><circle cx="278.3" cy="732.5" r="20.4"/><circle cx="229.5" cy="770.1" r="16.3"/><circle cx="287.7" cy="792.6" r="15.0"/><circle cx="330.8" cy="811.3" r="16.3"/><circle cx="336.4" cy="863.9" r="24.5"/><circle cx="255.8" cy="817.0" r="12.2"/><circle cx="235.1" cy="858.3" r="19.0"/><circle cx="291.4" cy="935.2" r="17.7"/><circle cx="190.1" cy="938.9" r="15.0"/><circle cx="312.0" cy="982.1" r="35.4"/><circle cx="274.5" cy="972.7" r="15.0"/><circle cx="146.9" cy="999.0" r="20.4"/><circle cx="377.7" cy="905.2" r="17.7"/><circle cx="118.8" cy="751.3" r="15.0"/><circle cx="381.5" cy="858.3" r="16.3"/><circle cx="208.8" cy="995.2" r="16.3"/><circle cx="238.9" cy="1014.0" r="16.3"/><circle cx="156.3" cy="751.3" r="10.9"/><circle cx="353.3" cy="741.9" r="12.2"/><circle cx="381.5" cy="779.4" r="10.9"/><circle cx="253.9" cy="910.8" r="12.2"/><circle cx="137.5" cy="892.0" r="12.2"/></g></g>
<g fill="#2b428c" stroke="#9fb6e0" stroke-width="1.2" stroke-opacity=".5"><circle cx="124.1" cy="918.5" r="6.4"/><circle cx="395.1" cy="971.3" r="7.8"/><circle cx="129.6" cy="782.7" r="7.4"/><circle cx="193.6" cy="794.0" r="7.8"/><circle cx="293.8" cy="859.2" r="7.6"/><circle cx="113.8" cy="859.5" r="6.5"/><circle cx="143.7" cy="735.9" r="7.0"/><circle cx="331.4" cy="780.0" r="6.8"/><circle cx="357.9" cy="793.8" r="6.4"/><circle cx="247.5" cy="881.1" r="7.2"/><circle cx="398.7" cy="1012.0" r="7.6"/><circle cx="259.2" cy="740.0" r="6.4"/><circle cx="165.7" cy="704.2" r="7.6"/><circle cx="124.8" cy="905.5" r="7.8"/><circle cx="375.6" cy="713.0" r="7.2"/><circle cx="380.5" cy="792.0" r="6.7"/><circle cx="286.4" cy="847.3" r="7.6"/><circle cx="343.1" cy="960.2" r="7.6"/><circle cx="160.5" cy="779.6" r="7.7"/><circle cx="317.1" cy="945.5" r="7.3"/><circle cx="149.7" cy="779.2" r="6.8"/><circle cx="127.1" cy="714.5" r="7.0"/><circle cx="139.5" cy="709.4" r="7.3"/><circle cx="319.6" cy="764.7" r="7.3"/><circle cx="188.0" cy="753.8" r="6.3"/><circle cx="289.8" cy="937.1" r="7.1"/><circle cx="244.8" cy="864.5" r="6.9"/><circle cx="295.6" cy="734.7" r="6.5"/><circle cx="303.4" cy="844.1" r="6.5"/><circle cx="380.5" cy="981.8" r="6.8"/><circle cx="163.6" cy="795.5" r="7.8"/><circle cx="392.7" cy="782.4" r="6.4"/><circle cx="174.3" cy="811.1" r="7.7"/><circle cx="388.8" cy="833.0" r="7.1"/><circle cx="360.2" cy="836.3" r="6.9"/><circle cx="308.0" cy="1017.7" r="6.9"/><circle cx="320.6" cy="777.7" r="6.3"/><circle cx="268.7" cy="831.6" r="6.4"/><circle cx="322.7" cy="810.1" r="6.7"/><circle cx="394.7" cy="813.5" r="6.6"/><circle cx="264.9" cy="1018.2" r="7.7"/><circle cx="362.6" cy="824.9" r="6.8"/><circle cx="294.5" cy="1002.2" r="6.7"/><circle cx="162.2" cy="824.6" r="6.6"/><circle cx="226.7" cy="975.5" r="6.4"/><circle cx="333.8" cy="992.3" r="7.2"/><circle cx="386.2" cy="1022.0" r="7.9"/><circle cx="187.2" cy="808.3" r="7.5"/><circle cx="272.4" cy="905.0" r="7.5"/><circle cx="383.7" cy="883.5" r="7.0"/><circle cx="183.8" cy="935.9" r="7.9"/><circle cx="347.5" cy="1010.0" r="7.5"/><circle cx="192.5" cy="710.3" r="6.5"/><circle cx="324.3" cy="718.4" r="7.6"/><circle cx="332.7" cy="904.9" r="7.5"/><circle cx="122.1" cy="731.0" r="7.5"/><circle cx="368.2" cy="797.8" r="7.3"/><circle cx="360.3" cy="897.3" r="7.5"/><circle cx="108.8" cy="998.1" r="7.6"/><circle cx="186.7" cy="979.1" r="7.8"/><circle cx="343.8" cy="921.3" r="7.3"/></g><g fill="#36509e" stroke="#9fb6e0" stroke-width="1.2" stroke-opacity=".5"><circle cx="300.5" cy="821.6" r="7.7"/><circle cx="120.9" cy="1007.2" r="6.4"/><circle cx="136.3" cy="876.5" r="7.7"/><circle cx="256.4" cy="1010.9" r="7.5"/><circle cx="271.7" cy="794.5" r="7.2"/><circle cx="175.0" cy="988.0" r="6.6"/><circle cx="392.0" cy="752.8" r="7.8"/><circle cx="252.3" cy="946.5" r="7.3"/><circle cx="201.3" cy="837.4" r="7.0"/><circle cx="365.4" cy="748.3" r="7.4"/><circle cx="152.2" cy="707.6" r="6.7"/><circle cx="312.5" cy="872.4" r="6.8"/><circle cx="205.7" cy="1018.1" r="7.8"/><circle cx="153.7" cy="944.4" r="7.4"/><circle cx="381.9" cy="928.6" r="6.4"/><circle cx="358.3" cy="1004.0" r="7.3"/><circle cx="247.3" cy="924.9" r="7.7"/><circle cx="390.9" cy="863.8" r="7.6"/><circle cx="252.6" cy="898.3" r="6.5"/><circle cx="352.9" cy="914.2" r="6.6"/><circle cx="367.3" cy="772.7" r="7.5"/><circle cx="268.2" cy="933.6" r="7.5"/><circle cx="180.0" cy="794.8" r="7.9"/><circle cx="210.2" cy="955.5" r="7.3"/><circle cx="194.4" cy="851.6" r="6.5"/><circle cx="368.8" cy="931.9" r="6.4"/><circle cx="211.5" cy="788.5" r="7.6"/><circle cx="309.5" cy="831.1" r="6.4"/><circle cx="188.6" cy="721.5" r="6.7"/><circle cx="384.0" cy="948.6" r="6.9"/><circle cx="226.0" cy="986.3" r="7.9"/><circle cx="179.3" cy="924.2" r="7.3"/><circle cx="249.9" cy="749.1" r="7.3"/><circle cx="259.0" cy="857.6" r="7.4"/><circle cx="372.3" cy="953.9" r="6.8"/><circle cx="142.9" cy="770.8" r="6.9"/><circle cx="229.4" cy="793.5" r="7.3"/><circle cx="148.5" cy="987.8" r="7.6"/><circle cx="121.1" cy="774.4" r="7.8"/><circle cx="319.1" cy="740.2" r="6.4"/><circle cx="194.1" cy="943.8" r="6.5"/><circle cx="221.0" cy="734.7" r="6.5"/><circle cx="269.3" cy="955.5" r="7.2"/><circle cx="312.7" cy="933.0" r="7.2"/><circle cx="363.0" cy="988.7" r="7.6"/><circle cx="235.2" cy="773.7" r="6.4"/><circle cx="311.1" cy="853.2" r="7.5"/><circle cx="351.7" cy="890.0" r="7.4"/><circle cx="251.3" cy="959.5" r="6.7"/><circle cx="112.7" cy="960.3" r="7.3"/><circle cx="305.2" cy="1002.6" r="7.4"/><circle cx="336.6" cy="810.2" r="6.5"/><circle cx="170.4" cy="916.6" r="7.6"/><circle cx="383.8" cy="704.2" r="7.1"/><circle cx="162.1" cy="715.8" r="7.2"/><circle cx="305.4" cy="943.1" r="7.6"/><circle cx="109.2" cy="1009.8" r="6.5"/><circle cx="197.5" cy="870.7" r="6.9"/><circle cx="233.2" cy="997.1" r="6.5"/><circle cx="258.5" cy="925.6" r="6.5"/><circle cx="289.8" cy="712.5" r="6.3"/><circle cx="257.3" cy="722.0" r="7.4"/><circle cx="216.4" cy="980.2" r="7.9"/><circle cx="178.9" cy="1011.3" r="7.7"/><circle cx="384.4" cy="965.2" r="7.2"/><circle cx="332.4" cy="952.5" r="7.6"/><circle cx="362.3" cy="782.3" r="7.2"/></g><g fill="#4460aa" stroke="#9fb6e0" stroke-width="1.2" stroke-opacity=".5"><circle cx="124.4" cy="702.6" r="6.5"/><circle cx="162.2" cy="923.7" r="7.6"/><circle cx="240.0" cy="964.6" r="7.6"/><circle cx="363.8" cy="1018.0" r="7.2"/><circle cx="338.7" cy="757.1" r="7.6"/><circle cx="310.5" cy="804.8" r="7.2"/><circle cx="180.9" cy="845.6" r="6.6"/><circle cx="138.4" cy="835.7" r="7.4"/><circle cx="273.7" cy="942.8" r="7.0"/><circle cx="173.7" cy="1023.8" r="6.3"/><circle cx="359.0" cy="948.7" r="7.1"/><circle cx="284.3" cy="1007.7" r="6.8"/><circle cx="151.0" cy="903.9" r="7.0"/><circle cx="398.1" cy="851.7" r="6.4"/><circle cx="131.0" cy="929.4" r="6.5"/><circle cx="305.5" cy="784.7" r="7.3"/><circle cx="192.8" cy="904.3" r="7.5"/><circle cx="347.3" cy="824.4" r="7.5"/><circle cx="391.1" cy="921.0" r="6.9"/><circle cx="389.6" cy="989.0" r="7.0"/><circle cx="301.1" cy="703.1" r="7.5"/><circle cx="158.4" cy="954.3" r="7.8"/><circle cx="295.5" cy="873.7" r="6.7"/><circle cx="205.5" cy="984.3" r="6.9"/><circle cx="383.1" cy="913.2" r="6.7"/><circle cx="347.1" cy="774.1" r="6.7"/><circle cx="120.1" cy="947.7" r="6.6"/><circle cx="152.4" cy="808.1" r="6.7"/><circle cx="312.0" cy="715.5" r="7.0"/><circle cx="234.6" cy="906.7" r="7.0"/><circle cx="179.8" cy="779.5" r="7.4"/><circle cx="132.7" cy="726.1" r="7.5"/><circle cx="273.2" cy="988.1" r="7.6"/><circle cx="330.5" cy="706.9" r="6.6"/><circle cx="351.2" cy="992.4" r="6.3"/><circle cx="290.4" cy="776.3" r="6.8"/><circle cx="108.7" cy="933.9" r="6.7"/><circle cx="291.7" cy="807.0" r="6.8"/><circle cx="165.4" cy="940.8" r="6.5"/><circle cx="278.0" cy="716.1" r="7.4"/><circle cx="283.3" cy="957.1" r="7.2"/><circle cx="214.0" cy="705.8" r="7.7"/><circle cx="250.1" cy="713.9" r="7.1"/><circle cx="398.1" cy="910.6" r="7.2"/><circle cx="120.9" cy="933.6" r="7.2"/><circle cx="286.7" cy="724.1" r="7.3"/><circle cx="157.4" cy="1023.6" r="7.4"/><circle cx="299.1" cy="720.8" r="7.6"/><circle cx="337.6" cy="746.4" r="6.6"/><circle cx="192.5" cy="1003.7" r="6.6"/><circle cx="329.7" cy="874.4" r="7.0"/><circle cx="131.0" cy="820.8" r="6.6"/><circle cx="319.2" cy="1016.1" r="6.7"/></g><g fill="#344c98" stroke="#9fb6e0" stroke-width="1.2" stroke-opacity=".5"><circle cx="319.6" cy="788.8" r="7.9"/><circle cx="223.6" cy="946.4" r="7.1"/><circle cx="250.0" cy="998.6" r="7.0"/><circle cx="147.6" cy="844.7" r="6.4"/><circle cx="171.3" cy="973.9" r="6.6"/><circle cx="136.5" cy="967.8" r="6.9"/><circle cx="161.3" cy="1013.5" r="7.5"/><circle cx="382.8" cy="821.0" r="7.9"/><circle cx="329.8" cy="1017.4" r="6.8"/><circle cx="306.8" cy="751.4" r="6.8"/><circle cx="335.9" cy="837.2" r="6.7"/><circle cx="237.9" cy="943.1" r="6.5"/><circle cx="138.4" cy="938.0" r="6.3"/><circle cx="394.2" cy="941.6" r="7.5"/><circle cx="357.9" cy="966.5" r="7.5"/><circle cx="269.3" cy="915.6" r="6.7"/><circle cx="155.1" cy="835.1" r="7.4"/><circle cx="145.7" cy="791.0" r="7.7"/><circle cx="244.0" cy="981.9" r="6.7"/><circle cx="213.6" cy="906.9" r="6.6"/><circle cx="234.2" cy="720.4" r="6.6"/><circle cx="290.7" cy="750.8" r="6.6"/><circle cx="250.9" cy="842.8" r="6.7"/><circle cx="248.6" cy="774.3" r="6.4"/><circle cx="378.7" cy="802.5" r="7.6"/><circle cx="267.6" cy="804.6" r="7.5"/><circle cx="259.0" cy="886.7" r="7.4"/><circle cx="234.9" cy="893.1" r="7.8"/><circle cx="394.8" cy="884.8" r="7.7"/><circle cx="377.9" cy="939.6" r="6.3"/><circle cx="394.5" cy="797.2" r="7.6"/><circle cx="276.8" cy="861.0" r="6.6"/><circle cx="123.5" cy="996.0" r="7.7"/><circle cx="318.5" cy="752.1" r="6.4"/><circle cx="368.9" cy="872.5" r="7.5"/><circle cx="261.9" cy="703.0" r="6.6"/><circle cx="284.4" cy="788.9" r="6.6"/><circle cx="282.2" cy="762.2" r="6.8"/><circle cx="238.0" cy="742.8" r="7.6"/><circle cx="189.5" cy="989.8" r="7.7"/><circle cx="119.8" cy="849.6" r="6.4"/><circle cx="373.4" cy="1023.7" r="7.6"/><circle cx="279.2" cy="1017.3" r="6.4"/><circle cx="178.7" cy="946.6" r="7.2"/><circle cx="274.8" cy="845.7" r="6.7"/><circle cx="390.1" cy="767.0" r="6.8"/><circle cx="277.1" cy="968.0" r="6.6"/><circle cx="198.2" cy="961.6" r="6.9"/><circle cx="129.1" cy="739.1" r="7.0"/><circle cx="114.0" cy="912.4" r="6.5"/><circle cx="265.1" cy="895.6" r="7.8"/><circle cx="160.6" cy="986.3" r="7.5"/><circle cx="369.6" cy="808.5" r="7.2"/><circle cx="144.9" cy="724.1" r="6.8"/><circle cx="351.1" cy="729.4" r="6.3"/><circle cx="142.5" cy="920.6" r="6.9"/><circle cx="168.2" cy="736.9" r="7.9"/><circle cx="316.8" cy="978.5" r="7.0"/><circle cx="235.3" cy="953.5" r="7.8"/><circle cx="260.8" cy="786.9" r="6.7"/><circle cx="179.0" cy="871.0" r="6.4"/><circle cx="155.6" cy="893.2" r="6.8"/><circle cx="399.1" cy="826.1" r="6.5"/></g><g fill="#233a80" stroke="#9fb6e0" stroke-width="1.2" stroke-opacity=".5"><circle cx="320.0" cy="922.6" r="6.8"/><circle cx="315.5" cy="705.3" r="7.4"/><circle cx="155.8" cy="726.5" r="7.6"/><circle cx="124.9" cy="957.4" r="7.0"/><circle cx="259.5" cy="753.8" r="7.1"/><circle cx="318.3" cy="1002.3" r="6.6"/><circle cx="127.8" cy="984.6" r="7.9"/><circle cx="316.4" cy="901.7" r="6.9"/><circle cx="379.1" cy="1007.7" r="6.6"/><circle cx="175.4" cy="833.1" r="7.3"/><circle cx="358.4" cy="879.0" r="7.0"/><circle cx="136.0" cy="856.9" r="6.8"/><circle cx="240.9" cy="820.7" r="7.7"/><circle cx="393.8" cy="710.5" r="6.7"/><circle cx="169.8" cy="961.1" r="7.7"/><circle cx="145.5" cy="819.3" r="6.4"/><circle cx="221.0" cy="815.8" r="7.8"/><circle cx="243.3" cy="1023.8" r="7.4"/><circle cx="206.0" cy="717.8" r="7.0"/><circle cx="168.5" cy="892.8" r="7.7"/><circle cx="355.9" cy="847.5" r="7.7"/><circle cx="277.1" cy="886.7" r="7.7"/><circle cx="109.0" cy="721.7" r="7.2"/><circle cx="345.2" cy="707.1" r="6.5"/><circle cx="357.7" cy="757.9" r="6.6"/><circle cx="374.0" cy="972.4" r="7.3"/><circle cx="246.4" cy="800.7" r="7.1"/><circle cx="200.8" cy="727.9" r="6.4"/><circle cx="390.0" cy="725.7" r="7.6"/><circle cx="304.7" cy="765.3" r="7.0"/><circle cx="333.6" cy="916.0" r="7.1"/><circle cx="214.6" cy="805.8" r="7.2"/><circle cx="208.7" cy="928.8" r="6.9"/><circle cx="118.4" cy="833.4" r="6.6"/><circle cx="114.4" cy="923.1" r="7.5"/><circle cx="114.7" cy="979.2" r="6.5"/><circle cx="254.6" cy="813.0" r="6.5"/><circle cx="240.3" cy="1011.8" r="7.0"/><circle cx="381.9" cy="894.1" r="7.3"/><circle cx="166.7" cy="851.6" r="6.7"/><circle cx="245.8" cy="832.4" r="7.4"/><circle cx="147.9" cy="1001.3" r="6.7"/><circle cx="178.3" cy="908.2" r="7.3"/><circle cx="375.1" cy="724.1" r="7.4"/><circle cx="287.7" cy="819.1" r="7.1"/><circle cx="329.4" cy="862.6" r="7.9"/><circle cx="368.3" cy="845.1" r="6.7"/><circle cx="398.3" cy="995.5" r="7.3"/><circle cx="350.1" cy="936.8" r="6.8"/><circle cx="235.6" cy="836.4" r="6.9"/><circle cx="262.7" cy="943.7" r="7.2"/><circle cx="303.1" cy="972.4" r="7.2"/><circle cx="342.9" cy="873.8" r="7.2"/><circle cx="162.2" cy="906.0" r="7.5"/></g><g fill="#4a66b4" stroke="#9fb6e0" stroke-width="1.2" stroke-opacity=".5"><circle cx="358.0" cy="716.9" r="7.1"/><circle cx="360.2" cy="977.0" r="7.4"/><circle cx="148.8" cy="882.3" r="7.6"/><circle cx="142.7" cy="749.4" r="7.1"/><circle cx="277.1" cy="814.9" r="7.7"/><circle cx="281.4" cy="832.8" r="7.8"/><circle cx="287.1" cy="900.2" r="7.4"/><circle cx="151.7" cy="963.0" r="6.6"/><circle cx="204.2" cy="756.9" r="7.9"/><circle cx="363.0" cy="728.0" r="7.2"/><circle cx="221.5" cy="838.4" r="6.9"/><circle cx="309.7" cy="892.0" r="7.1"/><circle cx="377.3" cy="838.5" r="7.4"/><circle cx="112.9" cy="787.3" r="6.7"/><circle cx="377.6" cy="739.5" r="6.4"/><circle cx="181.3" cy="891.9" r="7.0"/><circle cx="249.7" cy="785.9" r="7.3"/><circle cx="238.0" cy="704.8" r="6.9"/><circle cx="398.8" cy="736.5" r="7.3"/><circle cx="222.0" cy="762.8" r="7.5"/><circle cx="119.0" cy="1018.1" r="6.7"/><circle cx="230.7" cy="807.2" r="6.7"/><circle cx="337.7" cy="933.2" r="7.5"/><circle cx="222.0" cy="925.0" r="6.7"/><circle cx="217.2" cy="752.8" r="7.6"/><circle cx="281.8" cy="876.1" r="7.2"/><circle cx="265.3" cy="772.2" r="7.7"/><circle cx="269.8" cy="738.6" r="7.5"/><circle cx="371.4" cy="996.3" r="7.5"/><circle cx="150.2" cy="932.3" r="6.7"/><circle cx="373.9" cy="763.3" r="6.7"/><circle cx="329.5" cy="738.4" r="7.7"/><circle cx="111.9" cy="875.8" r="7.3"/><circle cx="113.5" cy="705.3" r="7.1"/><circle cx="179.7" cy="732.4" r="6.9"/><circle cx="141.6" cy="958.4" r="7.5"/><circle cx="230.7" cy="934.5" r="6.4"/><circle cx="213.6" cy="858.7" r="7.2"/><circle cx="328.0" cy="938.7" r="6.6"/><circle cx="231.5" cy="916.8" r="6.7"/><circle cx="206.2" cy="942.2" r="7.8"/><circle cx="194.2" cy="762.9" r="7.6"/><circle cx="340.0" cy="972.8" r="7.7"/><circle cx="306.7" cy="863.4" r="7.2"/><circle cx="292.9" cy="1017.5" r="7.2"/><circle cx="131.3" cy="1012.5" r="6.4"/><circle cx="317.0" cy="844.1" r="7.1"/><circle cx="373.2" cy="826.7" r="7.8"/><circle cx="223.0" cy="723.6" r="6.3"/><circle cx="346.6" cy="947.4" r="7.4"/><circle cx="271.2" cy="761.4" r="7.6"/><circle cx="239.5" cy="788.9" r="6.7"/><circle cx="120.3" cy="884.4" r="7.0"/><circle cx="217.1" cy="896.6" r="7.2"/><circle cx="224.8" cy="702.2" r="7.3"/><circle cx="170.4" cy="758.4" r="7.8"/><circle cx="230.6" cy="853.2" r="7.6"/><circle cx="180.5" cy="856.3" r="7.5"/><circle cx="387.7" cy="1000.7" r="7.0"/><circle cx="181.8" cy="764.9" r="7.7"/><circle cx="159.8" cy="973.8" r="6.8"/><circle cx="309.8" cy="815.4" r="6.5"/><circle cx="165.7" cy="882.2" r="7.4"/><circle cx="301.4" cy="884.7" r="6.9"/><circle cx="299.6" cy="988.4" r="7.7"/><circle cx="303.3" cy="795.4" r="6.6"/><circle cx="169.3" cy="726.0" r="7.0"/><circle cx="363.1" cy="860.3" r="6.6"/><circle cx="393.4" cy="895.3" r="7.7"/></g><g fill="#2a3c86" stroke="#9fb6e0" stroke-width="1.2" stroke-opacity=".5"><circle cx="323.7" cy="890.3" r="6.3"/><circle cx="359.1" cy="805.2" r="7.5"/><circle cx="357.6" cy="926.6" r="7.1"/><circle cx="214.4" cy="886.2" r="7.8"/><circle cx="215.9" cy="968.1" r="6.7"/><circle cx="332.8" cy="725.7" r="6.6"/><circle cx="387.3" cy="851.3" r="7.7"/><circle cx="347.0" cy="899.6" r="7.6"/><circle cx="283.7" cy="703.8" r="6.8"/><circle cx="187.2" cy="962.3" r="7.5"/><circle cx="180.8" cy="1000.4" r="6.6"/><circle cx="194.8" cy="972.1" r="7.3"/><circle cx="260.8" cy="982.3" r="7.4"/><circle cx="110.7" cy="732.2" r="7.0"/><circle cx="245.4" cy="725.2" r="7.3"/><circle cx="258.0" cy="868.5" r="7.6"/><circle cx="267.8" cy="998.9" r="6.8"/><circle cx="202.8" cy="777.3" r="6.7"/><circle cx="190.6" cy="778.2" r="6.9"/><circle cx="111.2" cy="769.9" r="7.4"/><circle cx="321.5" cy="831.1" r="6.3"/><circle cx="342.2" cy="1023.3" r="7.3"/><circle cx="333.3" cy="794.0" r="6.5"/><circle cx="357.1" cy="705.2" r="6.6"/><circle cx="171.5" cy="747.3" r="6.6"/><circle cx="221.4" cy="1015.5" r="6.6"/><circle cx="299.6" cy="901.8" r="6.8"/><circle cx="308.1" cy="913.8" r="7.4"/><circle cx="343.7" cy="799.5" r="6.4"/><circle cx="330.0" cy="846.9" r="7.4"/><circle cx="211.1" cy="742.7" r="6.8"/><circle cx="108.0" cy="948.6" r="6.5"/><circle cx="109.8" cy="892.6" r="6.3"/><circle cx="124.0" cy="864.5" r="7.1"/><circle cx="136.1" cy="906.2" r="7.0"/><circle cx="216.3" cy="872.3" r="6.9"/><circle cx="134.8" cy="761.8" r="7.6"/><circle cx="398.0" cy="874.4" r="6.5"/><circle cx="188.7" cy="825.2" r="7.4"/><circle cx="180.8" cy="710.6" r="7.7"/><circle cx="211.7" cy="847.8" r="7.7"/><circle cx="140.9" cy="1020.3" r="7.5"/><circle cx="227.0" cy="869.1" r="7.4"/><circle cx="274.2" cy="783.0" r="6.5"/><circle cx="249.2" cy="762.8" r="7.9"/><circle cx="192.7" cy="923.4" r="7.4"/><circle cx="167.6" cy="1002.1" r="7.1"/><circle cx="288.6" cy="884.4" r="6.4"/><circle cx="148.9" cy="974.9" r="7.6"/><circle cx="293.2" cy="914.7" r="7.6"/><circle cx="155.1" cy="748.7" r="7.4"/><circle cx="318.9" cy="956.6" r="6.6"/><circle cx="216.1" cy="1003.9" r="6.5"/><circle cx="122.1" cy="969.0" r="6.9"/><circle cx="201.0" cy="912.5" r="6.5"/><circle cx="210.7" cy="768.8" r="6.4"/><circle cx="225.2" cy="888.8" r="6.8"/><circle cx="155.9" cy="855.4" r="6.9"/><circle cx="165.2" cy="769.3" r="7.2"/><circle cx="398.8" cy="951.4" r="7.0"/><circle cx="113.1" cy="806.9" r="6.5"/><circle cx="227.3" cy="744.2" r="7.1"/><circle cx="397.9" cy="931.0" r="7.8"/></g>
<g fill="#1a2a6c"><circle cx="212.6" cy="820.7" r="6.4"/><circle cx="340.2" cy="886.4" r="6.4"/></g><g fill="#1c2e72"><circle cx="146.9" cy="865.8" r="6.4"/><circle cx="323.3" cy="728.8" r="6.8"/><circle cx="229.5" cy="1021.5" r="6.8"/><circle cx="259.5" cy="967.1" r="6.4"/></g><g fill="#1e3074"><circle cx="131.0" cy="944.6" r="6.8"/></g><g fill="#1b2c70"><circle cx="188.2" cy="1021.5" r="7.5"/></g><g fill="#22367a"><circle cx="193.8" cy="741.9" r="6.8"/></g><g fill="#1e3278"><circle cx="349.6" cy="976.5" r="6.8"/></g><g fill="#9a5020"><circle cx="277.3" cy="950.2" r="4.1"/></g><g fill="#c07a30"><circle cx="372.1" cy="893.9" r="4.5"/></g><g fill="#d09040"><circle cx="197.6" cy="811.3" r="4.1"/></g>
</g>
<rect x="243.2" y="995.2" width="142.6" height="11.3" fill="#fff"/>
</g>
<clipPath id="cl2"><rect x="406.0" y="704.8" width="287.1" height="314.8"/></clipPath>
<g clip-path="url(#cl2)"><g filter="url(#bl2)">
<rect x="401.0" y="699.8" width="297.1" height="324.8" fill="#b66a36"/>
<g filter="url(#blx)" opacity=".8"><g fill="#b86834"><circle cx="591.1" cy="833.7" r="7.6"/><circle cx="416.4" cy="870.9" r="7.6"/><circle cx="586.8" cy="942.4" r="11.1"/><circle cx="620.0" cy="965.5" r="11.3"/><circle cx="483.8" cy="719.2" r="13.2"/><circle cx="555.6" cy="885.1" r="8.8"/><circle cx="568.0" cy="858.3" r="9.0"/><circle cx="411.9" cy="719.0" r="8.7"/><circle cx="576.2" cy="949.5" r="8.9"/><circle cx="575.5" cy="875.0" r="7.5"/><circle cx="573.8" cy="857.5" r="6.0"/></g><g fill="#c07c50"><circle cx="520.3" cy="722.5" r="9.5"/><circle cx="627.3" cy="717.0" r="8.1"/><circle cx="684.4" cy="827.5" r="13.8"/><circle cx="592.9" cy="984.4" r="10.5"/><circle cx="565.9" cy="746.9" r="6.4"/><circle cx="579.4" cy="713.1" r="6.8"/><circle cx="653.6" cy="732.3" r="9.1"/><circle cx="576.9" cy="906.9" r="13.2"/><circle cx="628.4" cy="846.2" r="9.1"/><circle cx="693.0" cy="829.5" r="6.2"/><circle cx="608.2" cy="813.9" r="13.4"/><circle cx="474.1" cy="768.2" r="6.2"/><circle cx="431.2" cy="774.6" r="12.4"/><circle cx="644.7" cy="774.3" r="13.4"/><circle cx="605.8" cy="925.9" r="12.0"/><circle cx="510.8" cy="988.6" r="11.8"/></g><g fill="#a85c2c"><circle cx="655.4" cy="807.7" r="7.0"/><circle cx="467.1" cy="768.3" r="8.9"/><circle cx="603.9" cy="910.7" r="9.5"/><circle cx="494.5" cy="909.4" r="7.5"/><circle cx="475.1" cy="981.3" r="13.1"/><circle cx="524.3" cy="1007.6" r="13.4"/><circle cx="650.0" cy="1008.9" r="13.5"/><circle cx="426.9" cy="847.7" r="11.0"/><circle cx="429.8" cy="770.2" r="6.3"/><circle cx="477.7" cy="736.3" r="10.4"/><circle cx="429.7" cy="822.0" r="8.1"/><circle cx="639.4" cy="799.7" r="7.3"/></g><g fill="#a8684c"><circle cx="477.4" cy="784.9" r="9.8"/><circle cx="600.5" cy="1006.5" r="8.4"/><circle cx="637.1" cy="905.3" r="13.1"/><circle cx="440.2" cy="963.4" r="8.0"/><circle cx="606.9" cy="981.0" r="12.5"/><circle cx="623.1" cy="768.0" r="9.8"/><circle cx="428.3" cy="720.3" r="10.6"/><circle cx="654.1" cy="928.3" r="13.3"/><circle cx="411.4" cy="810.8" r="7.7"/><circle cx="488.6" cy="986.7" r="12.3"/></g><g fill="#d09050"><circle cx="502.6" cy="849.6" r="12.1"/><circle cx="626.8" cy="897.9" r="12.3"/><circle cx="461.9" cy="919.3" r="12.3"/><circle cx="623.1" cy="862.1" r="12.3"/><circle cx="595.8" cy="877.4" r="7.0"/><circle cx="579.8" cy="899.4" r="7.2"/><circle cx="686.6" cy="937.4" r="10.6"/><circle cx="502.8" cy="748.7" r="13.4"/><circle cx="654.0" cy="923.6" r="8.6"/><circle cx="680.5" cy="987.5" r="13.5"/><circle cx="564.9" cy="807.3" r="11.6"/><circle cx="636.3" cy="916.0" r="7.7"/><circle cx="494.9" cy="819.8" r="8.3"/></g><g fill="#c88044"><circle cx="685.4" cy="889.7" r="6.1"/><circle cx="488.7" cy="937.0" r="8.0"/><circle cx="455.4" cy="933.3" r="9.6"/><circle cx="591.8" cy="864.1" r="13.0"/><circle cx="556.7" cy="930.2" r="10.8"/><circle cx="686.8" cy="733.7" r="6.6"/><circle cx="638.5" cy="923.9" r="9.0"/><circle cx="463.3" cy="876.6" r="12.5"/></g></g>
<g filter="url(#blx)" opacity=".85"><g fill="#e6d4b4"><circle cx="471.3" cy="766.3" r="8.4"/><circle cx="657.1" cy="875.1" r="7.5"/><circle cx="632.7" cy="980.2" r="6.6"/></g></g>
<g fill="#8496c6" stroke="#5f78b0" stroke-width="1.2" stroke-opacity=".5"><circle cx="461.4" cy="811.8" r="7.7"/><circle cx="693.9" cy="826.3" r="7.9"/><circle cx="432.7" cy="920.6" r="9.0"/><circle cx="580.0" cy="724.7" r="8.2"/><circle cx="425.9" cy="820.3" r="8.5"/><circle cx="517.7" cy="853.9" r="8.9"/><circle cx="663.2" cy="867.5" r="8.1"/><circle cx="581.6" cy="980.6" r="8.1"/><circle cx="665.5" cy="939.0" r="8.9"/><circle cx="627.6" cy="757.5" r="8.7"/><circle cx="430.3" cy="1005.2" r="8.2"/><circle cx="530.9" cy="712.8" r="9.4"/><circle cx="632.2" cy="701.8" r="8.7"/><circle cx="405.6" cy="748.8" r="8.1"/><circle cx="406.1" cy="867.3" r="7.6"/><circle cx="580.1" cy="739.1" r="8.3"/><circle cx="480.5" cy="948.6" r="9.1"/><circle cx="521.2" cy="723.8" r="8.9"/><circle cx="586.1" cy="921.1" r="8.4"/><circle cx="549.1" cy="783.2" r="7.7"/><circle cx="526.3" cy="915.1" r="8.6"/><circle cx="568.9" cy="936.6" r="7.7"/><circle cx="652.3" cy="772.5" r="7.7"/><circle cx="542.3" cy="991.8" r="7.7"/><circle cx="569.4" cy="921.3" r="8.5"/><circle cx="447.1" cy="702.6" r="8.8"/></g><g fill="#7c88ae" stroke="#5f78b0" stroke-width="1.2" stroke-opacity=".5"><circle cx="509.0" cy="982.6" r="8.3"/><circle cx="505.8" cy="997.8" r="8.6"/><circle cx="504.6" cy="754.6" r="8.4"/><circle cx="650.9" cy="945.8" r="8.9"/><circle cx="680.3" cy="983.8" r="7.8"/><circle cx="673.0" cy="755.9" r="8.6"/><circle cx="662.6" cy="731.4" r="8.9"/><circle cx="407.8" cy="833.1" r="8.8"/><circle cx="540.7" cy="946.5" r="8.8"/><circle cx="613.9" cy="791.0" r="9.2"/><circle cx="615.5" cy="906.2" r="7.8"/><circle cx="421.5" cy="745.5" r="8.4"/><circle cx="494.0" cy="894.8" r="7.4"/><circle cx="598.6" cy="880.9" r="9.1"/><circle cx="472.8" cy="881.9" r="8.2"/><circle cx="695.4" cy="878.2" r="9.1"/><circle cx="446.9" cy="928.8" r="9.4"/><circle cx="477.1" cy="994.3" r="7.7"/><circle cx="508.5" cy="738.9" r="9.0"/><circle cx="675.5" cy="723.6" r="9.2"/><circle cx="547.7" cy="978.1" r="9.0"/><circle cx="633.5" cy="772.0" r="7.4"/><circle cx="462.8" cy="922.8" r="8.4"/><circle cx="514.3" cy="839.7" r="8.5"/><circle cx="608.1" cy="752.0" r="8.1"/><circle cx="533.7" cy="961.7" r="7.4"/><circle cx="639.1" cy="859.3" r="8.7"/><circle cx="621.4" cy="993.6" r="8.0"/><circle cx="473.5" cy="900.8" r="8.3"/><circle cx="477.2" cy="804.0" r="8.8"/><circle cx="466.0" cy="705.8" r="9.0"/><circle cx="509.0" cy="793.2" r="8.0"/><circle cx="491.6" cy="1018.3" r="9.1"/><circle cx="649.9" cy="739.2" r="7.8"/><circle cx="630.1" cy="742.8" r="8.8"/><circle cx="589.1" cy="789.5" r="9.4"/><circle cx="403.5" cy="982.0" r="8.5"/><circle cx="680.7" cy="1003.6" r="8.6"/><circle cx="681.5" cy="862.9" r="7.9"/><circle cx="589.4" cy="953.1" r="7.6"/><circle cx="466.2" cy="844.6" r="9.0"/><circle cx="551.5" cy="933.7" r="9.1"/><circle cx="633.5" cy="880.6" r="7.4"/><circle cx="524.4" cy="932.9" r="9.4"/><circle cx="519.5" cy="748.6" r="9.1"/><circle cx="409.6" cy="784.8" r="9.2"/><circle cx="604.4" cy="894.5" r="9.3"/><circle cx="600.0" cy="971.8" r="9.1"/><circle cx="565.5" cy="703.7" r="8.5"/><circle cx="520.5" cy="775.1" r="9.2"/><circle cx="653.6" cy="847.4" r="8.1"/><circle cx="552.1" cy="762.3" r="8.0"/><circle cx="487.3" cy="963.0" r="9.4"/><circle cx="694.6" cy="854.5" r="7.5"/><circle cx="490.2" cy="928.7" r="8.2"/><circle cx="459.2" cy="1000.2" r="9.3"/></g><g fill="#6e80b6" stroke="#5f78b0" stroke-width="1.2" stroke-opacity=".5"><circle cx="550.8" cy="706.4" r="7.7"/><circle cx="572.1" cy="815.4" r="9.1"/><circle cx="557.2" cy="966.4" r="9.1"/><circle cx="500.5" cy="954.0" r="7.5"/><circle cx="517.5" cy="879.4" r="9.3"/><circle cx="452.6" cy="883.1" r="7.9"/><circle cx="591.2" cy="904.0" r="8.9"/><circle cx="413.5" cy="803.4" r="7.7"/><circle cx="575.1" cy="892.6" r="7.9"/><circle cx="552.4" cy="738.6" r="9.0"/><circle cx="583.2" cy="848.7" r="8.1"/><circle cx="580.4" cy="1019.1" r="7.8"/><circle cx="572.6" cy="953.4" r="7.5"/><circle cx="448.8" cy="970.2" r="7.6"/><circle cx="541.7" cy="855.1" r="7.6"/><circle cx="532.0" cy="840.8" r="7.4"/><circle cx="686.0" cy="710.1" r="8.0"/><circle cx="413.3" cy="1020.5" r="8.0"/><circle cx="560.3" cy="824.0" r="7.6"/><circle cx="518.8" cy="966.5" r="9.2"/><circle cx="566.5" cy="983.8" r="8.2"/><circle cx="695.9" cy="1007.8" r="7.6"/><circle cx="545.3" cy="801.6" r="8.9"/><circle cx="691.8" cy="732.7" r="8.5"/><circle cx="687.3" cy="749.3" r="7.5"/><circle cx="456.8" cy="754.1" r="7.8"/><circle cx="438.8" cy="980.9" r="9.3"/></g><g fill="#8a9cc4" stroke="#5f78b0" stroke-width="1.2" stroke-opacity=".5"><circle cx="695.2" cy="777.3" r="8.3"/><circle cx="411.9" cy="1006.0" r="9.2"/><circle cx="511.9" cy="709.4" r="9.2"/><circle cx="564.8" cy="842.6" r="7.5"/><circle cx="493.5" cy="866.5" r="9.0"/><circle cx="688.3" cy="798.4" r="9.4"/><circle cx="437.8" cy="902.9" r="7.6"/><circle cx="425.0" cy="986.4" r="7.9"/><circle cx="588.2" cy="831.0" r="8.8"/><circle cx="512.7" cy="807.6" r="8.3"/><circle cx="615.2" cy="850.0" r="8.6"/><circle cx="539.8" cy="923.2" r="7.6"/><circle cx="662.9" cy="910.7" r="8.3"/><circle cx="637.2" cy="715.6" r="9.3"/><circle cx="613.1" cy="868.0" r="7.6"/><circle cx="624.5" cy="978.4" r="7.9"/><circle cx="427.2" cy="949.6" r="7.9"/><circle cx="645.1" cy="965.9" r="7.8"/><circle cx="571.6" cy="970.0" r="8.2"/><circle cx="647.7" cy="753.7" r="8.4"/><circle cx="461.7" cy="960.7" r="8.9"/><circle cx="627.4" cy="949.9" r="7.9"/><circle cx="582.1" cy="995.0" r="8.2"/><circle cx="611.7" cy="825.1" r="8.1"/><circle cx="473.9" cy="1011.5" r="9.1"/><circle cx="583.5" cy="805.3" r="8.0"/><circle cx="505.0" cy="937.1" r="8.8"/><circle cx="496.5" cy="726.5" r="7.8"/><circle cx="593.9" cy="744.1" r="9.2"/><circle cx="428.9" cy="968.0" r="9.3"/></g><g fill="#8a809e" stroke="#5f78b0" stroke-width="1.2" stroke-opacity=".5"><circle cx="547.8" cy="895.7" r="7.9"/><circle cx="610.9" cy="722.0" r="9.2"/><circle cx="681.9" cy="1018.7" r="9.2"/><circle cx="427.0" cy="892.4" r="7.4"/><circle cx="599.5" cy="816.5" r="7.4"/><circle cx="493.5" cy="797.9" r="8.6"/><circle cx="598.2" cy="937.3" r="9.2"/><circle cx="530.0" cy="889.5" r="8.7"/><circle cx="478.6" cy="853.9" r="8.5"/><circle cx="409.8" cy="941.6" r="8.9"/><circle cx="436.8" cy="1020.4" r="8.9"/><circle cx="581.3" cy="774.0" r="8.9"/><circle cx="407.7" cy="764.2" r="9.0"/><circle cx="565.5" cy="719.2" r="8.9"/><circle cx="650.4" cy="900.6" r="8.0"/><circle cx="662.0" cy="960.9" r="8.6"/><circle cx="539.4" cy="745.1" r="8.7"/><circle cx="483.9" cy="711.1" r="7.7"/><circle cx="691.0" cy="944.9" r="9.4"/><circle cx="462.2" cy="983.4" r="7.8"/><circle cx="692.8" cy="960.4" r="8.7"/><circle cx="590.4" cy="759.6" r="8.4"/><circle cx="445.7" cy="994.1" r="8.8"/><circle cx="536.7" cy="872.9" r="9.0"/><circle cx="631.7" cy="811.9" r="8.8"/><circle cx="443.1" cy="950.1" r="8.3"/><circle cx="421.9" cy="844.3" r="7.9"/><circle cx="563.1" cy="999.9" r="9.2"/><circle cx="689.7" cy="903.5" r="8.2"/><circle cx="475.4" cy="930.4" r="8.6"/><circle cx="649.2" cy="787.3" r="7.5"/><circle cx="404.1" cy="717.0" r="7.7"/><circle cx="649.4" cy="815.1" r="8.5"/><circle cx="471.8" cy="867.3" r="9.1"/><circle cx="680.6" cy="781.6" r="8.7"/></g><g fill="#8094c0" stroke="#5f78b0" stroke-width="1.2" stroke-opacity=".5"><circle cx="510.1" cy="918.2" r="7.9"/><circle cx="532.8" cy="1009.4" r="9.4"/><circle cx="655.7" cy="709.9" r="7.6"/><circle cx="658.9" cy="799.0" r="7.4"/><circle cx="639.9" cy="833.9" r="8.2"/><circle cx="672.7" cy="814.6" r="8.0"/><circle cx="507.8" cy="1015.6" r="9.4"/><circle cx="563.4" cy="796.6" r="7.9"/><circle cx="453.4" cy="825.0" r="8.2"/><circle cx="442.2" cy="837.7" r="8.2"/><circle cx="497.8" cy="774.4" r="8.6"/><circle cx="657.0" cy="999.1" r="8.6"/><circle cx="432.6" cy="784.7" r="9.3"/><circle cx="635.7" cy="1008.2" r="8.3"/><circle cx="457.7" cy="1017.2" r="7.4"/><circle cx="457.6" cy="859.3" r="7.6"/><circle cx="670.0" cy="705.2" r="9.0"/><circle cx="588.4" cy="707.6" r="8.7"/><circle cx="645.2" cy="981.0" r="7.6"/><circle cx="497.1" cy="973.7" r="7.5"/><circle cx="624.5" cy="932.6" r="9.0"/><circle cx="472.2" cy="751.4" r="7.7"/><circle cx="410.4" cy="704.0" r="8.2"/><circle cx="554.6" cy="919.0" r="8.8"/><circle cx="633.3" cy="1022.5" r="8.5"/><circle cx="560.4" cy="884.0" r="8.2"/><circle cx="488.3" cy="748.4" r="8.0"/><circle cx="515.6" cy="822.4" r="8.3"/><circle cx="446.3" cy="770.3" r="8.4"/><circle cx="478.9" cy="818.8" r="7.6"/><circle cx="695.9" cy="992.4" r="8.4"/></g><g fill="#9a8890" stroke="#5f78b0" stroke-width="1.2" stroke-opacity=".5"><circle cx="670.2" cy="839.5" r="8.4"/><circle cx="484.4" cy="915.2" r="9.3"/><circle cx="553.9" cy="1021.3" r="7.5"/><circle cx="633.5" cy="795.5" r="8.4"/><circle cx="659.0" cy="1018.6" r="8.7"/><circle cx="646.4" cy="923.9" r="8.7"/><circle cx="534.1" cy="761.6" r="8.8"/><circle cx="627.9" cy="894.2" r="7.9"/><circle cx="678.6" cy="955.1" r="7.9"/><circle cx="473.9" cy="732.0" r="8.1"/><circle cx="437.7" cy="718.3" r="8.6"/><circle cx="425.6" cy="701.9" r="8.4"/><circle cx="601.6" cy="838.8" r="7.6"/><circle cx="612.5" cy="775.0" r="7.9"/><circle cx="518.4" cy="949.4" r="7.5"/><circle cx="612.5" cy="1013.5" r="7.8"/><circle cx="596.9" cy="728.1" r="7.9"/><circle cx="406.8" cy="897.0" r="8.8"/><circle cx="674.6" cy="921.2" r="7.6"/><circle cx="605.9" cy="708.3" r="9.3"/><circle cx="432.7" cy="878.7" r="8.8"/><circle cx="428.7" cy="764.3" r="9.0"/><circle cx="478.6" cy="976.0" r="7.5"/><circle cx="492.1" cy="987.5" r="8.4"/><circle cx="595.8" cy="1018.4" r="8.5"/><circle cx="435.5" cy="937.8" r="8.4"/><circle cx="406.8" cy="817.6" r="8.0"/><circle cx="693.4" cy="929.0" r="9.1"/></g><g fill="#7486b4" stroke="#5f78b0" stroke-width="1.2" stroke-opacity=".5"><circle cx="412.8" cy="964.1" r="8.6"/><circle cx="437.5" cy="746.9" r="9.3"/><circle cx="578.3" cy="875.0" r="8.6"/><circle cx="436.2" cy="857.6" r="9.2"/><circle cx="479.9" cy="767.9" r="7.7"/><circle cx="624.2" cy="837.5" r="8.4"/><circle cx="601.4" cy="1003.1" r="7.4"/><circle cx="405.7" cy="852.4" r="9.0"/><circle cx="471.1" cy="782.5" r="8.8"/><circle cx="407.5" cy="733.4" r="9.2"/><circle cx="665.7" cy="778.4" r="8.7"/><circle cx="441.8" cy="806.6" r="8.1"/><circle cx="453.7" cy="908.9" r="9.1"/><circle cx="524.6" cy="994.5" r="7.7"/><circle cx="611.0" cy="957.7" r="9.3"/><circle cx="499.1" cy="822.0" r="9.1"/><circle cx="655.1" cy="831.9" r="8.9"/><circle cx="422.2" cy="868.4" r="8.8"/><circle cx="680.0" cy="878.7" r="8.0"/><circle cx="415.4" cy="922.4" r="7.6"/><circle cx="543.9" cy="723.4" r="9.1"/><circle cx="500.0" cy="879.9" r="9.3"/><circle cx="453.4" cy="739.3" r="8.7"/><circle cx="421.2" cy="720.0" r="7.7"/><circle cx="566.3" cy="753.2" r="7.5"/><circle cx="598.4" cy="854.2" r="8.1"/><circle cx="601.8" cy="801.7" r="8.9"/><circle cx="656.9" cy="884.8" r="7.9"/><circle cx="453.4" cy="793.7" r="8.3"/><circle cx="531.7" cy="981.2" r="9.0"/><circle cx="675.5" cy="738.6" r="8.5"/><circle cx="462.6" cy="767.3" r="8.1"/></g>
<g fill="#4a1a0c"><circle cx="453.5" cy="717.5" r="8.4"/></g><g fill="#4e1c0e"><circle cx="458.2" cy="780.4" r="9.0"/><circle cx="551.1" cy="873.3" r="9.4"/></g><g fill="#55200e"><circle cx="618.6" cy="807.6" r="9.4"/><circle cx="444.1" cy="870.5" r="9.8"/><circle cx="510.7" cy="894.8" r="9.0"/><circle cx="407.5" cy="908.9" r="6.8"/></g><g fill="#6a3018"><circle cx="632.7" cy="824.5" r="7.9"/></g><g fill="#6a2c16"><circle cx="471.3" cy="831.0" r="9.0"/></g><g fill="#7a3c22"><circle cx="488.2" cy="826.4" r="7.5"/></g><g fill="#5a2210"><circle cx="411.3" cy="878.0" r="7.5"/><circle cx="562.3" cy="908.0" r="9.4"/></g><g fill="#5e2412"><circle cx="461.0" cy="947.4" r="9.4"/></g><g fill="#7a3818"><circle cx="563.3" cy="767.2" r="7.9"/><circle cx="636.4" cy="908.9" r="7.5"/></g><g fill="#7a3c28"><circle cx="553.9" cy="811.3" r="8.3"/><circle cx="574.5" cy="856.4" r="7.5"/></g><g fill="#7a3a20"><circle cx="664.6" cy="852.6" r="7.9"/></g><g fill="#80401e"><circle cx="670.2" cy="892.0" r="8.3"/></g><g fill="#80442a"><circle cx="621.4" cy="884.5" r="7.9"/></g><g fill="#7a3414"><circle cx="625.2" cy="963.3" r="8.6"/></g><g fill="#6e3018"><circle cx="602.7" cy="984.0" r="8.6"/></g><g fill="#4a3a60"><circle cx="552.0" cy="987.7" r="6.8"/></g><g fill="#8a5a50"><circle cx="493.8" cy="845.1" r="7.5"/></g><g fill="#6a4a58"><circle cx="430.0" cy="833.9" r="6.8"/></g><g fill="#2f5ec0"><circle cx="529.5" cy="781.3" r="5.6"/><circle cx="544.5" cy="756.9" r="4.5"/><circle cx="689.0" cy="845.1" r="5.6"/></g><g fill="#2a58ba"><circle cx="531.4" cy="794.5" r="5.6"/><circle cx="550.1" cy="843.2" r="5.6"/><circle cx="653.3" cy="987.7" r="5.6"/></g><g fill="#3060c4"><circle cx="523.9" cy="807.6" r="5.6"/><circle cx="559.5" cy="854.5" r="5.3"/><circle cx="687.1" cy="892.0" r="6.4"/><circle cx="662.7" cy="972.7" r="7.5"/></g><g fill="#2c5cc0"><circle cx="537.0" cy="815.1" r="5.6"/></g><g fill="#3262c6"><circle cx="542.6" cy="830.1" r="5.6"/></g><g fill="#3a68c8"><circle cx="568.9" cy="867.6" r="5.3"/><circle cx="463.8" cy="741.9" r="5.3"/><circle cx="675.8" cy="995.2" r="5.6"/><circle cx="612.0" cy="925.8" r="5.3"/><circle cx="634.6" cy="944.6" r="4.9"/></g><g fill="#2450b0"><circle cx="687.1" cy="920.2" r="6.8"/></g>
</g>
<rect x="540.2" y="997.1" width="143.2" height="10.9" fill="#fff"/>
</g>
<clipPath id="cl3"><rect x="704.8" y="705.9" width="284.2" height="315.1"/></clipPath>
<g clip-path="url(#cl3)"><g filter="url(#bl3)">
<rect x="699.8" y="700.9" width="294.2" height="325.1" fill="#74688a"/>
<g filter="url(#blx)" opacity=".8"><g fill="#d8c8b8"><circle cx="773.1" cy="939.2" r="6.7"/><circle cx="777.7" cy="877.3" r="11.5"/><circle cx="955.9" cy="982.3" r="12.1"/><circle cx="887.7" cy="989.3" r="9.9"/><circle cx="735.1" cy="748.4" r="8.0"/><circle cx="778.2" cy="931.0" r="6.5"/><circle cx="871.3" cy="960.8" r="7.8"/><circle cx="889.3" cy="949.0" r="12.6"/><circle cx="836.6" cy="947.1" r="7.1"/><circle cx="904.7" cy="980.8" r="13.9"/><circle cx="781.4" cy="745.9" r="9.2"/><circle cx="881.9" cy="712.9" r="13.1"/><circle cx="797.0" cy="741.6" r="10.7"/><circle cx="967.6" cy="791.0" r="11.0"/><circle cx="799.0" cy="955.6" r="13.6"/></g><g fill="#d0c0c0"><circle cx="973.9" cy="787.4" r="10.1"/><circle cx="938.3" cy="924.9" r="7.1"/><circle cx="977.5" cy="935.1" r="11.7"/><circle cx="964.6" cy="728.2" r="6.4"/><circle cx="912.8" cy="775.1" r="12.2"/><circle cx="894.4" cy="812.4" r="13.5"/><circle cx="792.3" cy="839.0" r="9.4"/><circle cx="787.0" cy="1014.1" r="13.5"/><circle cx="856.4" cy="905.2" r="10.7"/></g><g fill="#c09880"><circle cx="749.6" cy="854.9" r="10.7"/><circle cx="731.4" cy="1006.9" r="9.0"/><circle cx="716.1" cy="1008.0" r="7.2"/><circle cx="951.8" cy="718.1" r="13.3"/><circle cx="824.2" cy="872.5" r="8.4"/><circle cx="827.8" cy="769.4" r="13.3"/><circle cx="857.6" cy="732.8" r="11.5"/><circle cx="942.0" cy="813.2" r="7.5"/><circle cx="755.5" cy="1000.8" r="9.6"/><circle cx="882.8" cy="805.0" r="10.1"/><circle cx="749.4" cy="774.0" r="10.1"/><circle cx="711.5" cy="983.7" r="12.4"/></g><g fill="#e0d8d0"><circle cx="967.4" cy="965.0" r="11.4"/><circle cx="905.3" cy="718.0" r="7.7"/><circle cx="854.2" cy="784.5" r="12.4"/><circle cx="982.1" cy="750.2" r="7.0"/><circle cx="974.0" cy="907.3" r="7.9"/><circle cx="759.7" cy="923.0" r="7.5"/><circle cx="887.7" cy="911.3" r="13.0"/><circle cx="816.5" cy="995.7" r="6.2"/><circle cx="948.9" cy="761.8" r="8.5"/><circle cx="775.8" cy="903.3" r="8.7"/><circle cx="758.5" cy="808.0" r="8.3"/><circle cx="896.5" cy="1001.0" r="12.9"/></g><g fill="#c8a890"><circle cx="749.4" cy="891.5" r="12.4"/><circle cx="978.5" cy="903.1" r="11.6"/><circle cx="890.1" cy="726.0" r="9.9"/><circle cx="764.9" cy="847.9" r="8.8"/><circle cx="747.1" cy="995.6" r="8.7"/><circle cx="986.4" cy="852.2" r="12.4"/><circle cx="949.3" cy="719.1" r="13.9"/><circle cx="894.3" cy="855.1" r="11.2"/><circle cx="843.0" cy="952.9" r="11.6"/><circle cx="763.7" cy="818.2" r="9.1"/><circle cx="952.4" cy="905.8" r="11.2"/></g><g fill="#b8b0c0"><circle cx="775.5" cy="930.4" r="10.2"/><circle cx="884.7" cy="953.9" r="11.8"/><circle cx="987.3" cy="992.0" r="12.4"/><circle cx="899.0" cy="902.1" r="10.1"/><circle cx="750.1" cy="805.9" r="10.5"/><circle cx="785.7" cy="754.9" r="11.4"/><circle cx="782.1" cy="714.1" r="9.1"/><circle cx="920.4" cy="849.2" r="13.1"/><circle cx="745.4" cy="946.6" r="10.2"/><circle cx="882.2" cy="903.0" r="7.6"/><circle cx="946.2" cy="845.5" r="8.9"/></g></g>
<g filter="url(#blx)" opacity=".85"><g fill="#e0dacc"><circle cx="788.8" cy="775.7" r="15.2"/><circle cx="850.8" cy="717.5" r="17.7"/><circle cx="882.7" cy="732.5" r="17.7"/><circle cx="916.4" cy="743.8" r="17.7"/><circle cx="948.3" cy="756.9" r="17.7"/><circle cx="976.5" cy="773.8" r="17.7"/><circle cx="957.7" cy="817.0" r="22.8"/><circle cx="938.9" cy="892.0" r="20.3"/><circle cx="910.8" cy="873.3" r="15.2"/><circle cx="811.3" cy="910.8" r="17.7"/><circle cx="815.1" cy="948.3" r="15.2"/><circle cx="822.6" cy="985.9" r="15.2"/><circle cx="830.1" cy="1014.0" r="12.7"/><circle cx="741.9" cy="854.5" r="17.7"/><circle cx="766.3" cy="863.9" r="12.7"/><circle cx="848.9" cy="882.7" r="12.7"/><circle cx="982.1" cy="967.1" r="12.7"/><circle cx="901.4" cy="1004.6" r="12.7"/><circle cx="785.1" cy="892.0" r="10.1"/><circle cx="713.8" cy="910.8" r="10.1"/><circle cx="875.1" cy="803.8" r="10.1"/></g></g>
<g filter="url(#blx)" opacity=".75"><g fill="#c87848"><circle cx="803.8" cy="800.1" r="9.4"/><circle cx="783.2" cy="860.1" r="7.5"/></g><g fill="#c06838"><circle cx="845.1" cy="805.7" r="8.4"/></g><g fill="#b86a48"><circle cx="751.3" cy="800.1" r="8.4"/></g><g fill="#a85a40"><circle cx="717.5" cy="817.0" r="9.4"/></g><g fill="#c8805a"><circle cx="946.5" cy="807.6" r="11.3"/></g><g fill="#b86038"><circle cx="710.0" cy="886.4" r="10.3"/></g><g fill="#a05838"><circle cx="850.8" cy="929.6" r="15.0"/></g><g fill="#a85a38"><circle cx="882.7" cy="957.7" r="13.1"/></g><g fill="#c07850"><circle cx="929.6" cy="954.0" r="11.3"/><circle cx="967.1" cy="948.3" r="9.4"/></g><g fill="#a86048"><circle cx="766.3" cy="942.7" r="11.3"/></g><g fill="#b06a48"><circle cx="723.1" cy="976.5" r="9.4"/></g><g fill="#b05a30"><circle cx="826.4" cy="837.6" r="9.4"/></g><g fill="#b06040"><circle cx="920.2" cy="725.0" r="9.4"/></g><g fill="#b87050"><circle cx="773.8" cy="725.0" r="8.4"/></g><g fill="#b87058"><circle cx="963.3" cy="995.2" r="11.3"/></g></g>
<g fill="#324488" stroke="#98a8d0" stroke-width="1.2" stroke-opacity=".5"><circle cx="906.9" cy="838.8" r="8.1"/><circle cx="841.3" cy="893.8" r="7.4"/><circle cx="873.0" cy="881.1" r="8.2"/><circle cx="824.6" cy="866.0" r="7.9"/><circle cx="887.1" cy="752.7" r="7.9"/><circle cx="941.1" cy="1012.5" r="7.7"/><circle cx="881.1" cy="767.1" r="7.9"/><circle cx="928.5" cy="824.5" r="8.6"/><circle cx="907.7" cy="778.4" r="8.2"/><circle cx="865.5" cy="831.6" r="7.0"/><circle cx="917.0" cy="803.7" r="8.5"/><circle cx="912.1" cy="996.9" r="8.5"/><circle cx="898.3" cy="852.6" r="8.1"/><circle cx="965.2" cy="948.2" r="7.4"/><circle cx="724.5" cy="715.4" r="7.7"/><circle cx="959.5" cy="1001.2" r="8.4"/><circle cx="919.2" cy="853.7" r="8.1"/><circle cx="778.0" cy="703.2" r="8.3"/><circle cx="826.0" cy="902.0" r="8.0"/><circle cx="809.5" cy="974.0" r="6.9"/><circle cx="853.2" cy="1012.7" r="6.9"/><circle cx="959.6" cy="762.9" r="8.2"/><circle cx="849.6" cy="823.4" r="8.6"/><circle cx="978.6" cy="780.5" r="6.8"/><circle cx="985.3" cy="916.2" r="8.7"/><circle cx="735.9" cy="778.2" r="7.0"/><circle cx="703.7" cy="787.4" r="6.8"/><circle cx="746.7" cy="730.9" r="8.3"/><circle cx="741.5" cy="806.0" r="7.4"/><circle cx="917.9" cy="961.8" r="6.9"/><circle cx="962.4" cy="749.2" r="7.4"/><circle cx="917.6" cy="738.0" r="7.6"/><circle cx="825.5" cy="924.6" r="7.4"/><circle cx="773.8" cy="744.2" r="8.5"/><circle cx="813.1" cy="870.4" r="7.9"/><circle cx="799.3" cy="893.5" r="7.0"/><circle cx="716.9" cy="850.8" r="7.9"/><circle cx="839.2" cy="794.5" r="8.5"/></g><g fill="#5a4a70" stroke="#98a8d0" stroke-width="1.2" stroke-opacity=".5"><circle cx="962.3" cy="731.9" r="6.9"/><circle cx="767.2" cy="815.7" r="8.3"/><circle cx="871.9" cy="793.7" r="8.6"/><circle cx="858.1" cy="1001.1" r="8.7"/><circle cx="702.0" cy="870.0" r="8.2"/><circle cx="748.0" cy="774.8" r="7.0"/><circle cx="760.0" cy="750.8" r="8.4"/><circle cx="842.2" cy="956.9" r="8.3"/><circle cx="790.0" cy="839.0" r="8.1"/><circle cx="866.0" cy="761.1" r="7.2"/><circle cx="746.8" cy="793.5" r="7.8"/><circle cx="764.7" cy="734.4" r="8.4"/><circle cx="719.9" cy="948.6" r="6.9"/><circle cx="804.5" cy="1010.7" r="7.9"/><circle cx="738.6" cy="921.7" r="8.4"/><circle cx="910.2" cy="823.5" r="7.5"/><circle cx="911.3" cy="711.0" r="8.3"/><circle cx="855.4" cy="767.4" r="8.6"/><circle cx="713.0" cy="925.3" r="6.8"/><circle cx="779.6" cy="905.2" r="8.4"/><circle cx="708.1" cy="709.0" r="7.6"/><circle cx="978.8" cy="1017.6" r="8.6"/><circle cx="857.5" cy="974.5" r="7.5"/><circle cx="851.4" cy="915.6" r="7.2"/><circle cx="839.4" cy="717.0" r="8.7"/><circle cx="918.7" cy="769.1" r="6.9"/><circle cx="989.9" cy="735.9" r="7.3"/><circle cx="956.8" cy="800.3" r="7.8"/><circle cx="737.9" cy="877.1" r="7.3"/><circle cx="818.2" cy="1017.5" r="7.6"/><circle cx="920.7" cy="917.2" r="7.5"/><circle cx="929.6" cy="763.1" r="7.7"/><circle cx="796.1" cy="721.1" r="8.1"/><circle cx="928.8" cy="1001.9" r="7.1"/><circle cx="788.0" cy="881.8" r="7.7"/><circle cx="895.9" cy="780.8" r="7.3"/><circle cx="989.1" cy="810.6" r="8.1"/><circle cx="984.7" cy="991.0" r="8.6"/><circle cx="838.0" cy="915.4" r="8.6"/><circle cx="826.8" cy="987.1" r="7.1"/><circle cx="768.0" cy="912.8" r="8.1"/><circle cx="785.0" cy="714.8" r="6.9"/><circle cx="731.0" cy="858.9" r="8.2"/><circle cx="724.3" cy="766.2" r="7.5"/></g><g fill="#4a62a8" stroke="#98a8d0" stroke-width="1.2" stroke-opacity=".5"><circle cx="877.8" cy="1005.0" r="8.6"/><circle cx="777.0" cy="993.2" r="7.4"/><circle cx="712.6" cy="837.3" r="6.8"/><circle cx="837.9" cy="755.6" r="8.3"/><circle cx="977.1" cy="799.8" r="7.6"/><circle cx="886.5" cy="912.7" r="7.0"/><circle cx="803.2" cy="857.7" r="7.3"/><circle cx="812.5" cy="779.8" r="7.3"/><circle cx="740.9" cy="830.4" r="8.3"/><circle cx="980.1" cy="827.9" r="8.2"/><circle cx="920.1" cy="882.5" r="8.2"/><circle cx="774.8" cy="757.9" r="7.4"/><circle cx="836.1" cy="979.3" r="7.6"/><circle cx="706.0" cy="734.0" r="8.6"/><circle cx="971.2" cy="977.4" r="7.0"/><circle cx="974.7" cy="888.3" r="7.9"/><circle cx="850.0" cy="988.7" r="8.7"/><circle cx="795.2" cy="921.3" r="7.3"/><circle cx="836.1" cy="934.6" r="7.5"/><circle cx="708.0" cy="754.9" r="7.3"/><circle cx="866.1" cy="703.6" r="7.7"/><circle cx="805.6" cy="833.2" r="8.2"/><circle cx="903.0" cy="758.7" r="8.5"/><circle cx="957.4" cy="979.4" r="8.0"/><circle cx="821.8" cy="800.3" r="7.4"/><circle cx="839.6" cy="867.1" r="6.9"/><circle cx="811.1" cy="748.9" r="7.3"/><circle cx="977.9" cy="724.0" r="7.0"/><circle cx="748.0" cy="704.7" r="7.8"/><circle cx="751.2" cy="877.5" r="7.3"/><circle cx="754.3" cy="912.9" r="7.5"/><circle cx="867.2" cy="982.3" r="8.3"/><circle cx="778.5" cy="728.4" r="7.9"/><circle cx="790.8" cy="742.1" r="7.3"/><circle cx="938.8" cy="802.9" r="6.8"/><circle cx="962.8" cy="856.5" r="7.9"/><circle cx="978.3" cy="744.2" r="8.3"/><circle cx="934.9" cy="1023.9" r="7.8"/><circle cx="991.4" cy="857.5" r="8.8"/><circle cx="991.3" cy="1001.5" r="7.4"/><circle cx="927.4" cy="928.5" r="8.0"/><circle cx="972.4" cy="818.6" r="7.4"/><circle cx="783.5" cy="938.8" r="8.5"/><circle cx="722.2" cy="934.0" r="7.1"/><circle cx="990.0" cy="953.1" r="7.1"/><circle cx="873.5" cy="854.1" r="7.8"/><circle cx="833.5" cy="1008.4" r="7.2"/><circle cx="794.0" cy="906.2" r="6.8"/></g><g fill="#3c5098" stroke="#98a8d0" stroke-width="1.2" stroke-opacity=".5"><circle cx="781.1" cy="1014.3" r="6.9"/><circle cx="864.9" cy="894.7" r="7.2"/><circle cx="787.9" cy="868.9" r="6.8"/><circle cx="773.5" cy="948.5" r="7.1"/><circle cx="865.4" cy="926.2" r="8.0"/><circle cx="902.4" cy="801.1" r="7.3"/><circle cx="878.4" cy="935.9" r="7.6"/><circle cx="934.2" cy="984.4" r="7.2"/><circle cx="990.9" cy="768.4" r="8.4"/><circle cx="953.6" cy="843.2" r="6.9"/><circle cx="958.3" cy="874.1" r="7.0"/><circle cx="890.8" cy="872.3" r="7.1"/><circle cx="788.9" cy="958.0" r="7.1"/><circle cx="785.3" cy="856.2" r="8.4"/><circle cx="761.8" cy="952.5" r="8.2"/><circle cx="833.2" cy="704.8" r="8.0"/><circle cx="809.4" cy="728.9" r="7.9"/><circle cx="708.4" cy="806.5" r="7.0"/><circle cx="705.0" cy="905.2" r="6.8"/><circle cx="861.1" cy="855.3" r="6.9"/><circle cx="913.5" cy="975.2" r="7.1"/><circle cx="916.7" cy="895.6" r="7.0"/><circle cx="931.2" cy="942.4" r="7.9"/><circle cx="835.9" cy="806.6" r="8.3"/><circle cx="702.0" cy="995.1" r="8.1"/><circle cx="951.6" cy="885.2" r="7.6"/><circle cx="899.5" cy="928.5" r="8.5"/><circle cx="984.3" cy="870.1" r="8.2"/><circle cx="956.9" cy="706.1" r="8.1"/><circle cx="877.8" cy="988.3" r="8.3"/><circle cx="770.6" cy="896.9" r="7.7"/><circle cx="726.4" cy="743.1" r="7.0"/><circle cx="959.0" cy="931.0" r="7.8"/><circle cx="756.6" cy="925.1" r="7.2"/><circle cx="943.1" cy="760.6" r="6.9"/><circle cx="812.8" cy="957.7" r="7.6"/><circle cx="837.0" cy="836.2" r="7.8"/><circle cx="919.6" cy="834.8" r="7.0"/><circle cx="890.9" cy="792.2" r="7.4"/><circle cx="709.0" cy="1006.8" r="8.6"/><circle cx="862.5" cy="939.4" r="7.1"/></g><g fill="#364a8e" stroke="#98a8d0" stroke-width="1.2" stroke-opacity=".5"><circle cx="793.4" cy="825.5" r="7.7"/><circle cx="920.2" cy="783.4" r="7.0"/><circle cx="804.4" cy="813.5" r="8.1"/><circle cx="730.2" cy="789.3" r="8.7"/><circle cx="824.4" cy="824.2" r="7.4"/><circle cx="968.7" cy="709.0" r="7.0"/><circle cx="716.2" cy="970.5" r="7.5"/><circle cx="826.0" cy="782.6" r="7.3"/><circle cx="853.6" cy="960.9" r="7.7"/><circle cx="940.7" cy="774.8" r="6.9"/><circle cx="780.4" cy="980.5" r="7.6"/><circle cx="892.0" cy="893.4" r="7.0"/><circle cx="852.3" cy="869.5" r="7.6"/><circle cx="947.9" cy="947.7" r="8.1"/><circle cx="755.3" cy="804.0" r="8.7"/><circle cx="736.8" cy="762.7" r="8.3"/><circle cx="804.3" cy="878.5" r="7.1"/><circle cx="930.7" cy="704.0" r="7.8"/><circle cx="971.3" cy="867.8" r="8.7"/><circle cx="990.0" cy="748.5" r="7.6"/><circle cx="912.0" cy="1023.1" r="8.6"/><circle cx="827.4" cy="966.8" r="7.0"/><circle cx="747.2" cy="1017.4" r="8.6"/><circle cx="887.8" cy="944.4" r="7.7"/><circle cx="792.8" cy="772.2" r="8.8"/><circle cx="921.5" cy="1013.2" r="7.3"/><circle cx="779.0" cy="795.7" r="8.0"/><circle cx="796.5" cy="1023.8" r="8.0"/><circle cx="837.4" cy="823.9" r="8.7"/><circle cx="760.3" cy="770.7" r="8.7"/><circle cx="795.0" cy="971.7" r="8.5"/><circle cx="738.9" cy="818.5" r="8.1"/><circle cx="903.1" cy="888.7" r="8.7"/><circle cx="874.8" cy="907.9" r="7.7"/><circle cx="940.3" cy="956.9" r="7.2"/><circle cx="718.4" cy="895.0" r="8.5"/><circle cx="962.3" cy="811.5" r="7.6"/></g><g fill="#425aa0" stroke="#98a8d0" stroke-width="1.2" stroke-opacity=".5"><circle cx="772.7" cy="771.7" r="7.5"/><circle cx="949.2" cy="738.0" r="8.4"/><circle cx="780.4" cy="823.7" r="8.4"/><circle cx="991.5" cy="1014.9" r="7.2"/><circle cx="738.7" cy="745.4" r="7.5"/><circle cx="982.4" cy="712.6" r="8.8"/><circle cx="946.5" cy="934.2" r="8.0"/><circle cx="944.9" cy="992.8" r="8.8"/><circle cx="740.4" cy="959.6" r="8.3"/><circle cx="960.6" cy="900.6" r="6.9"/><circle cx="933.6" cy="861.8" r="8.0"/><circle cx="966.5" cy="914.2" r="7.0"/><circle cx="803.4" cy="706.9" r="7.4"/><circle cx="988.8" cy="937.9" r="8.4"/><circle cx="949.8" cy="966.8" r="7.4"/><circle cx="973.8" cy="998.0" r="7.5"/><circle cx="851.3" cy="949.1" r="7.0"/><circle cx="933.2" cy="840.3" r="8.3"/><circle cx="910.6" cy="725.1" r="8.4"/><circle cx="777.5" cy="964.7" r="7.5"/><circle cx="926.3" cy="748.6" r="7.7"/><circle cx="925.4" cy="973.8" r="7.2"/><circle cx="856.5" cy="904.3" r="6.8"/><circle cx="750.7" cy="815.3" r="7.1"/><circle cx="853.5" cy="705.7" r="8.0"/><circle cx="740.4" cy="843.3" r="8.2"/><circle cx="867.6" cy="953.0" r="7.3"/><circle cx="966.8" cy="835.1" r="7.5"/><circle cx="800.5" cy="953.2" r="7.5"/><circle cx="763.6" cy="790.5" r="8.7"/><circle cx="748.5" cy="986.6" r="8.4"/><circle cx="817.3" cy="1001.2" r="6.8"/><circle cx="732.4" cy="703.1" r="6.9"/><circle cx="816.0" cy="839.6" r="7.8"/><circle cx="708.5" cy="881.1" r="6.9"/><circle cx="966.9" cy="961.3" r="7.3"/><circle cx="702.0" cy="1020.0" r="7.8"/><circle cx="946.8" cy="866.6" r="7.0"/></g><g fill="#644a78" stroke="#98a8d0" stroke-width="1.2" stroke-opacity=".5"><circle cx="882.2" cy="837.8" r="8.5"/><circle cx="776.5" cy="928.3" r="6.8"/><circle cx="837.0" cy="731.7" r="8.2"/><circle cx="945.3" cy="720.4" r="7.5"/><circle cx="850.4" cy="803.4" r="8.4"/><circle cx="901.8" cy="949.0" r="8.4"/><circle cx="892.4" cy="1021.4" r="7.3"/><circle cx="885.9" cy="974.3" r="8.4"/><circle cx="819.9" cy="886.3" r="6.9"/><circle cx="714.2" cy="862.9" r="8.7"/><circle cx="788.3" cy="787.2" r="7.7"/><circle cx="712.0" cy="985.3" r="8.1"/><circle cx="716.6" cy="1017.4" r="8.5"/><circle cx="817.6" cy="716.4" r="8.5"/><circle cx="852.3" cy="743.9" r="7.0"/><circle cx="723.3" cy="730.7" r="7.8"/><circle cx="890.3" cy="993.2" r="7.9"/><circle cx="812.8" cy="765.1" r="7.0"/><circle cx="741.2" cy="897.6" r="7.6"/><circle cx="802.3" cy="994.0" r="7.2"/><circle cx="845.1" cy="1001.9" r="7.1"/><circle cx="755.7" cy="842.6" r="7.9"/><circle cx="766.7" cy="978.6" r="8.1"/><circle cx="990.4" cy="840.2" r="8.3"/><circle cx="712.8" cy="824.6" r="8.6"/><circle cx="869.1" cy="747.9" r="8.4"/><circle cx="954.7" cy="785.2" r="7.8"/><circle cx="868.5" cy="722.8" r="7.5"/><circle cx="950.0" cy="921.3" r="7.0"/><circle cx="714.4" cy="912.8" r="7.3"/><circle cx="978.2" cy="855.9" r="7.6"/><circle cx="800.6" cy="800.5" r="7.0"/><circle cx="739.7" cy="972.4" r="7.0"/><circle cx="773.3" cy="847.0" r="8.8"/><circle cx="873.1" cy="735.0" r="8.4"/><circle cx="724.4" cy="920.2" r="8.5"/><circle cx="734.6" cy="724.1" r="7.9"/><circle cx="877.6" cy="1023.4" r="8.1"/><circle cx="976.7" cy="934.3" r="7.5"/><circle cx="891.8" cy="707.7" r="8.5"/></g><g fill="#54508a" stroke="#98a8d0" stroke-width="1.2" stroke-opacity=".5"><circle cx="744.8" cy="999.8" r="8.5"/><circle cx="760.4" cy="990.7" r="8.1"/><circle cx="901.9" cy="911.2" r="7.1"/><circle cx="752.5" cy="936.5" r="8.2"/><circle cx="865.1" cy="1021.7" r="7.3"/><circle cx="837.1" cy="776.7" r="7.1"/><circle cx="731.2" cy="1015.1" r="7.3"/><circle cx="827.1" cy="744.5" r="6.9"/><circle cx="756.0" cy="899.0" r="8.1"/><circle cx="878.5" cy="819.3" r="8.4"/><circle cx="728.0" cy="831.3" r="8.2"/><circle cx="939.0" cy="973.4" r="8.3"/><circle cx="874.0" cy="866.4" r="8.0"/><circle cx="720.9" cy="874.2" r="8.5"/><circle cx="764.1" cy="711.0" r="7.1"/><circle cx="755.9" cy="720.5" r="7.7"/><circle cx="848.9" cy="786.8" r="7.7"/><circle cx="727.7" cy="811.3" r="8.2"/><circle cx="798.4" cy="758.5" r="8.8"/><circle cx="937.8" cy="918.9" r="7.6"/><circle cx="780.1" cy="809.7" r="8.5"/><circle cx="758.4" cy="964.5" r="8.5"/><circle cx="842.7" cy="850.9" r="8.1"/><circle cx="733.7" cy="940.4" r="7.9"/><circle cx="914.2" cy="935.6" r="8.1"/><circle cx="720.9" cy="997.1" r="8.5"/><circle cx="703.8" cy="960.6" r="8.3"/><circle cx="813.7" cy="927.8" r="7.8"/><circle cx="758.0" cy="1011.1" r="7.3"/><circle cx="716.7" cy="782.8" r="8.5"/><circle cx="850.2" cy="838.1" r="7.8"/><circle cx="762.1" cy="885.5" r="8.1"/><circle cx="764.0" cy="1022.6" r="7.5"/><circle cx="802.0" cy="932.3" r="7.7"/><circle cx="956.8" cy="822.6" r="8.3"/><circle cx="890.9" cy="804.7" r="7.6"/><circle cx="879.4" cy="703.4" r="8.5"/><circle cx="901.1" cy="985.9" r="7.3"/><circle cx="965.2" cy="1012.3" r="6.8"/><circle cx="882.0" cy="782.7" r="7.8"/><circle cx="922.0" cy="867.1" r="8.5"/><circle cx="813.3" cy="901.2" r="7.9"/><circle cx="810.5" cy="791.9" r="8.6"/><circle cx="792.4" cy="987.2" r="8.7"/></g>
<g fill="#4e1c10"><circle cx="740.0" cy="713.8" r="7.1"/><circle cx="942.7" cy="790.7" r="8.3"/><circle cx="890.2" cy="828.2" r="8.3"/><circle cx="942.7" cy="848.9" r="8.3"/><circle cx="976.5" cy="905.2" r="9.4"/><circle cx="734.4" cy="984.0" r="7.9"/></g><g fill="#55200e"><circle cx="711.9" cy="723.1" r="8.3"/><circle cx="723.1" cy="753.2" r="7.1"/></g><g fill="#5a2210"><circle cx="882.7" cy="715.6" r="8.3"/><circle cx="905.2" cy="963.3" r="8.3"/></g><g fill="#5e2614"><circle cx="925.8" cy="725.0" r="7.5"/><circle cx="713.8" cy="768.2" r="6.8"/><circle cx="764.4" cy="832.0" r="8.6"/><circle cx="708.1" cy="944.6" r="6.8"/></g><g fill="#6a3020"><circle cx="824.5" cy="755.0" r="7.1"/><circle cx="728.8" cy="890.2" r="7.5"/><circle cx="976.5" cy="841.4" r="6.8"/></g><g fill="#7a3c22"><circle cx="803.8" cy="738.2" r="6.8"/></g><g fill="#5a2412"><circle cx="972.7" cy="756.9" r="7.5"/><circle cx="826.4" cy="848.9" r="8.6"/></g><g fill="#5a2214"><circle cx="869.5" cy="773.8" r="7.5"/></g><g fill="#4a1a0c"><circle cx="858.3" cy="815.1" r="6.8"/></g><g fill="#4a180c"><circle cx="773.8" cy="880.8" r="8.3"/></g><g fill="#6a3428"><circle cx="884.5" cy="961.5" r="7.5"/><circle cx="850.8" cy="927.7" r="7.5"/></g><g fill="#5a2c2c"><circle cx="792.6" cy="999.0" r="6.8"/></g><g fill="#5a3040"><circle cx="770.1" cy="1002.8" r="6.8"/></g><g fill="#4a3a60"><circle cx="927.7" cy="811.3" r="6.8"/></g>
</g>
<rect x="835.7" y="995.6" width="143.6" height="10.9" fill="#fff"/>
</g>
<clipPath id="cl4"><rect x="1001.8" y="705.9" width="281.3" height="313.7"/></clipPath>
<g clip-path="url(#cl4)"><g filter="url(#bl4)">
<rect x="996.8" y="700.9" width="291.3" height="323.7" fill="#5c4c90"/>
<g filter="url(#blx)" opacity=".8"><g fill="#b87048"><circle cx="1263.8" cy="985.3" r="10.1"/><circle cx="1007.8" cy="911.7" r="12.7"/><circle cx="1151.5" cy="762.1" r="10.7"/><circle cx="1079.8" cy="999.0" r="13.1"/><circle cx="1137.6" cy="842.5" r="6.8"/><circle cx="1028.8" cy="748.4" r="9.3"/><circle cx="1130.0" cy="743.3" r="10.5"/><circle cx="1014.6" cy="967.1" r="13.4"/><circle cx="1036.5" cy="859.4" r="11.8"/><circle cx="1265.4" cy="1006.9" r="9.3"/><circle cx="1194.8" cy="735.5" r="12.0"/></g><g fill="#9a78a0"><circle cx="1169.7" cy="810.3" r="9.2"/><circle cx="1188.2" cy="765.7" r="13.3"/><circle cx="1039.1" cy="834.0" r="8.1"/><circle cx="1191.8" cy="878.9" r="10.5"/><circle cx="1054.3" cy="732.8" r="10.4"/><circle cx="1192.8" cy="853.3" r="10.2"/><circle cx="1005.9" cy="928.9" r="7.8"/><circle cx="1257.5" cy="788.1" r="11.4"/><circle cx="1045.5" cy="781.4" r="9.9"/><circle cx="1193.2" cy="781.3" r="13.8"/><circle cx="1005.5" cy="756.4" r="10.0"/><circle cx="1092.7" cy="818.1" r="6.8"/><circle cx="1101.7" cy="878.9" r="9.6"/><circle cx="1005.8" cy="1013.2" r="11.2"/></g><g fill="#a06850"><circle cx="1060.3" cy="722.3" r="6.8"/><circle cx="1224.8" cy="997.6" r="9.4"/><circle cx="1011.7" cy="889.4" r="6.3"/><circle cx="1004.1" cy="984.3" r="10.7"/><circle cx="1264.9" cy="936.8" r="9.0"/><circle cx="1088.7" cy="754.0" r="11.1"/><circle cx="1050.2" cy="789.6" r="13.4"/><circle cx="1035.1" cy="813.5" r="11.5"/><circle cx="1177.6" cy="905.4" r="8.6"/><circle cx="1204.9" cy="821.9" r="13.0"/><circle cx="1074.9" cy="738.2" r="9.9"/></g><g fill="#6a5a98"><circle cx="1216.2" cy="894.8" r="10.4"/><circle cx="1032.8" cy="950.4" r="12.6"/><circle cx="1069.2" cy="786.9" r="10.0"/><circle cx="1060.2" cy="916.6" r="9.4"/><circle cx="1005.9" cy="801.7" r="11.7"/><circle cx="1230.1" cy="829.6" r="6.1"/><circle cx="1277.4" cy="930.4" r="10.1"/><circle cx="1012.4" cy="748.9" r="12.1"/><circle cx="1157.3" cy="1013.2" r="13.0"/><circle cx="1233.8" cy="909.7" r="10.6"/><circle cx="1119.7" cy="789.5" r="7.1"/><circle cx="1110.5" cy="903.6" r="6.6"/></g><g fill="#c88050"><circle cx="1010.1" cy="869.9" r="8.8"/><circle cx="1194.7" cy="837.2" r="12.5"/><circle cx="1273.6" cy="954.5" r="13.1"/><circle cx="1185.1" cy="768.8" r="6.1"/><circle cx="1122.5" cy="785.3" r="9.3"/><circle cx="1274.4" cy="916.9" r="9.3"/><circle cx="1104.2" cy="846.0" r="8.9"/><circle cx="1207.4" cy="860.2" r="6.7"/><circle cx="1205.1" cy="931.5" r="13.1"/></g><g fill="#8a5a78"><circle cx="1148.9" cy="750.7" r="6.6"/><circle cx="1065.6" cy="834.6" r="11.6"/><circle cx="1003.5" cy="739.8" r="7.9"/><circle cx="1003.2" cy="923.6" r="12.2"/><circle cx="1159.6" cy="931.7" r="11.8"/><circle cx="1176.6" cy="942.9" r="12.4"/><circle cx="1197.8" cy="834.0" r="11.4"/><circle cx="1221.5" cy="1014.7" r="10.7"/><circle cx="1137.9" cy="796.5" r="13.3"/><circle cx="1197.0" cy="803.8" r="10.3"/><circle cx="1036.8" cy="827.4" r="11.2"/><circle cx="1234.4" cy="907.2" r="6.9"/><circle cx="1167.3" cy="820.1" r="7.7"/></g></g>
<g filter="url(#blx)" opacity=".85"><g fill="#d8d4d8"><circle cx="1027.5" cy="873.3" r="13.1"/><circle cx="1051.9" cy="878.9" r="9.4"/><circle cx="1279.0" cy="863.9" r="9.4"/><circle cx="1279.0" cy="901.4" r="10.3"/><circle cx="1262.1" cy="923.9" r="8.4"/><circle cx="1128.9" cy="708.1" r="5.6"/><circle cx="1233.9" cy="728.8" r="6.6"/></g></g>
<g filter="url(#blx)" opacity=".75"><g fill="#9a4a2a"><circle cx="1010.6" cy="706.3" r="11.3"/><circle cx="1213.3" cy="745.7" r="12.4"/><circle cx="1136.4" cy="775.7" r="16.9"/><circle cx="1098.8" cy="785.1" r="12.4"/><circle cx="1035.0" cy="788.8" r="11.3"/><circle cx="1230.2" cy="790.7" r="14.1"/><circle cx="1271.5" cy="805.7" r="14.1"/><circle cx="1241.5" cy="815.1" r="12.4"/><circle cx="1119.5" cy="826.4" r="15.8"/><circle cx="1205.8" cy="832.0" r="12.9"/><circle cx="1072.6" cy="850.8" r="15.2"/><circle cx="1155.1" cy="860.1" r="12.9"/><circle cx="1136.4" cy="880.8" r="12.9"/><circle cx="1006.9" cy="888.3" r="11.3"/><circle cx="1202.0" cy="908.9" r="12.4"/><circle cx="1063.2" cy="927.7" r="13.5"/><circle cx="1087.6" cy="940.8" r="12.4"/><circle cx="1140.1" cy="946.5" r="12.4"/><circle cx="1179.5" cy="972.7" r="14.1"/><circle cx="1038.8" cy="965.2" r="10.1"/><circle cx="1053.8" cy="987.7" r="11.3"/><circle cx="1087.6" cy="976.5" r="11.3"/><circle cx="1051.9" cy="1014.0" r="11.3"/><circle cx="1226.4" cy="856.4" r="12.4"/><circle cx="1177.7" cy="815.1" r="10.1"/></g></g>
<g fill="#3850b4" stroke="#8a8ad0" stroke-width="1.2" stroke-opacity=".5"><circle cx="1068.8" cy="757.2" r="8.7"/><circle cx="1242.8" cy="897.3" r="7.8"/><circle cx="1126.1" cy="945.4" r="7.3"/><circle cx="1238.7" cy="833.5" r="6.9"/><circle cx="1092.2" cy="748.6" r="7.3"/><circle cx="1139.2" cy="858.5" r="8.2"/><circle cx="1173.8" cy="1000.6" r="7.3"/><circle cx="1267.6" cy="987.1" r="7.8"/><circle cx="1197.9" cy="1002.6" r="8.6"/><circle cx="1168.2" cy="758.8" r="7.4"/><circle cx="1181.6" cy="885.8" r="8.7"/><circle cx="1180.7" cy="834.9" r="7.3"/><circle cx="1218.6" cy="1002.0" r="8.4"/><circle cx="1132.9" cy="902.6" r="8.5"/><circle cx="1106.9" cy="1010.1" r="8.2"/><circle cx="1145.1" cy="902.7" r="8.5"/><circle cx="1239.8" cy="879.9" r="6.8"/><circle cx="1064.6" cy="787.3" r="8.4"/><circle cx="1086.2" cy="1018.9" r="7.8"/><circle cx="1166.8" cy="814.3" r="8.4"/><circle cx="1261.7" cy="858.7" r="8.2"/><circle cx="1036.3" cy="884.5" r="8.5"/><circle cx="1225.7" cy="870.7" r="7.2"/><circle cx="1155.2" cy="727.4" r="8.7"/><circle cx="1245.8" cy="853.4" r="6.8"/><circle cx="1175.1" cy="1018.2" r="6.9"/><circle cx="1049.7" cy="803.7" r="8.8"/><circle cx="1028.0" cy="773.6" r="8.1"/><circle cx="1020.4" cy="741.8" r="8.6"/><circle cx="1247.3" cy="916.7" r="8.3"/><circle cx="1111.4" cy="839.0" r="8.2"/><circle cx="1218.0" cy="952.1" r="7.6"/><circle cx="1264.5" cy="781.6" r="8.0"/><circle cx="1092.7" cy="859.5" r="7.1"/><circle cx="1138.3" cy="996.0" r="8.7"/><circle cx="1181.1" cy="934.9" r="6.9"/><circle cx="1242.5" cy="729.5" r="8.5"/><circle cx="1129.8" cy="959.9" r="7.9"/><circle cx="1027.3" cy="903.8" r="8.1"/><circle cx="1166.8" cy="982.3" r="7.0"/><circle cx="1047.2" cy="958.0" r="8.7"/><circle cx="1013.4" cy="799.3" r="8.5"/><circle cx="1269.2" cy="908.9" r="7.3"/><circle cx="1071.7" cy="707.9" r="8.3"/><circle cx="1223.1" cy="705.3" r="7.0"/><circle cx="1247.4" cy="1020.6" r="7.6"/><circle cx="1116.3" cy="713.3" r="8.2"/><circle cx="1119.0" cy="968.7" r="8.2"/><circle cx="1144.2" cy="842.4" r="7.3"/><circle cx="1112.2" cy="812.1" r="8.1"/><circle cx="1152.3" cy="873.2" r="7.3"/><circle cx="1035.6" cy="735.1" r="7.0"/><circle cx="1123.0" cy="782.0" r="7.4"/><circle cx="1190.4" cy="916.4" r="8.6"/><circle cx="1284.3" cy="937.4" r="8.5"/><circle cx="1190.9" cy="729.9" r="8.0"/><circle cx="1077.5" cy="969.3" r="6.9"/><circle cx="1190.4" cy="953.3" r="8.0"/><circle cx="1168.1" cy="779.4" r="6.8"/><circle cx="1220.3" cy="965.9" r="7.3"/><circle cx="1096.1" cy="890.3" r="6.9"/><circle cx="1109.0" cy="703.0" r="8.1"/></g><g fill="#324aac" stroke="#8a8ad0" stroke-width="1.2" stroke-opacity=".5"><circle cx="1175.8" cy="732.0" r="7.0"/><circle cx="1258.8" cy="737.1" r="7.7"/><circle cx="1055.9" cy="757.6" r="7.6"/><circle cx="1117.5" cy="1021.6" r="7.4"/><circle cx="1160.0" cy="900.0" r="6.9"/><circle cx="1065.0" cy="724.5" r="8.7"/><circle cx="1101.0" cy="988.9" r="7.2"/><circle cx="1025.0" cy="968.7" r="6.9"/><circle cx="1055.6" cy="833.4" r="8.7"/><circle cx="1091.8" cy="1000.3" r="7.2"/><circle cx="1192.2" cy="759.7" r="7.9"/><circle cx="1118.4" cy="858.0" r="8.5"/><circle cx="1083.6" cy="715.4" r="8.0"/><circle cx="1163.5" cy="936.1" r="7.2"/><circle cx="1212.8" cy="989.5" r="7.4"/><circle cx="1037.2" cy="948.4" r="7.5"/><circle cx="1077.7" cy="832.3" r="7.5"/><circle cx="1266.6" cy="971.0" r="8.5"/><circle cx="1213.4" cy="771.1" r="7.2"/><circle cx="1021.1" cy="785.2" r="8.7"/><circle cx="1032.3" cy="718.4" r="7.7"/><circle cx="1130.5" cy="704.6" r="8.5"/><circle cx="1156.6" cy="842.2" r="7.9"/><circle cx="1103.6" cy="901.8" r="8.4"/><circle cx="1105.7" cy="768.0" r="7.4"/><circle cx="1046.7" cy="914.2" r="7.4"/><circle cx="1137.7" cy="714.7" r="7.1"/><circle cx="1238.4" cy="862.9" r="8.2"/><circle cx="1038.9" cy="840.2" r="8.1"/><circle cx="1076.6" cy="810.0" r="7.3"/><circle cx="1222.4" cy="904.1" r="8.0"/><circle cx="1101.8" cy="968.5" r="8.0"/><circle cx="1105.8" cy="857.8" r="7.1"/><circle cx="1094.6" cy="705.1" r="8.2"/><circle cx="1111.7" cy="953.4" r="7.2"/><circle cx="1131.4" cy="738.3" r="8.0"/><circle cx="1285.8" cy="962.7" r="7.5"/><circle cx="1271.8" cy="742.3" r="8.8"/><circle cx="1237.4" cy="801.7" r="7.5"/><circle cx="1081.3" cy="765.3" r="7.4"/><circle cx="1176.3" cy="799.2" r="8.4"/><circle cx="1114.2" cy="940.1" r="8.8"/><circle cx="1284.1" cy="845.1" r="7.3"/><circle cx="1225.7" cy="765.9" r="8.3"/><circle cx="1079.8" cy="950.2" r="8.7"/><circle cx="1147.2" cy="786.7" r="7.2"/><circle cx="1211.8" cy="861.4" r="8.4"/><circle cx="1236.5" cy="909.9" r="7.6"/><circle cx="1207.3" cy="784.3" r="8.1"/><circle cx="1075.7" cy="776.2" r="7.9"/><circle cx="1098.0" cy="732.8" r="7.3"/><circle cx="1129.4" cy="983.5" r="7.8"/><circle cx="1284.1" cy="975.4" r="8.8"/><circle cx="1204.2" cy="810.7" r="7.0"/><circle cx="999.9" cy="862.6" r="7.1"/><circle cx="1098.3" cy="1018.7" r="7.0"/><circle cx="1238.5" cy="704.4" r="8.0"/><circle cx="1088.5" cy="804.4" r="8.1"/><circle cx="1162.7" cy="1022.2" r="8.3"/><circle cx="1282.8" cy="708.2" r="7.7"/><circle cx="1029.5" cy="992.7" r="7.4"/><circle cx="1110.3" cy="888.3" r="8.1"/></g><g fill="#455cbc" stroke="#8a8ad0" stroke-width="1.2" stroke-opacity=".5"><circle cx="1088.3" cy="963.3" r="7.8"/><circle cx="1249.6" cy="1004.2" r="8.7"/><circle cx="1084.7" cy="733.5" r="7.4"/><circle cx="1200.5" cy="741.2" r="8.4"/><circle cx="1276.5" cy="927.9" r="6.9"/><circle cx="1269.8" cy="768.1" r="8.2"/><circle cx="1124.5" cy="748.8" r="7.0"/><circle cx="1110.5" cy="730.4" r="7.2"/><circle cx="1031.6" cy="980.7" r="6.9"/><circle cx="1061.0" cy="736.6" r="8.7"/><circle cx="1258.6" cy="753.0" r="8.0"/><circle cx="1015.9" cy="1003.8" r="7.9"/><circle cx="1142.3" cy="1014.3" r="6.9"/><circle cx="1258.0" cy="722.9" r="6.8"/><circle cx="1257.1" cy="809.5" r="7.5"/><circle cx="1001.0" cy="908.7" r="8.7"/><circle cx="1058.2" cy="712.0" r="6.9"/><circle cx="1045.0" cy="723.0" r="7.3"/><circle cx="1280.1" cy="951.2" r="7.6"/><circle cx="1274.0" cy="854.5" r="6.8"/><circle cx="1074.0" cy="1021.8" r="8.5"/><circle cx="1190.4" cy="709.5" r="7.0"/><circle cx="1199.0" cy="843.8" r="7.0"/><circle cx="1024.3" cy="954.2" r="6.9"/><circle cx="1193.9" cy="973.1" r="7.1"/><circle cx="1281.5" cy="1014.6" r="7.4"/><circle cx="1251.8" cy="705.1" r="7.8"/><circle cx="1084.5" cy="821.0" r="6.9"/><circle cx="1109.5" cy="798.3" r="7.1"/><circle cx="1138.3" cy="930.2" r="6.9"/><circle cx="1214.1" cy="912.9" r="8.1"/><circle cx="1019.5" cy="1020.3" r="6.9"/><circle cx="1188.3" cy="741.8" r="8.4"/><circle cx="1050.9" cy="998.9" r="8.0"/><circle cx="1146.8" cy="982.9" r="8.4"/><circle cx="1284.9" cy="832.1" r="8.6"/><circle cx="1153.4" cy="886.9" r="8.4"/></g><g fill="#4a62c2" stroke="#8a8ad0" stroke-width="1.2" stroke-opacity=".5"><circle cx="1179.2" cy="784.8" r="8.6"/><circle cx="1230.6" cy="931.5" r="8.2"/><circle cx="1002.9" cy="843.5" r="7.5"/><circle cx="1155.5" cy="991.7" r="7.1"/><circle cx="1213.2" cy="878.8" r="8.8"/><circle cx="1158.7" cy="1010.8" r="8.2"/><circle cx="1149.8" cy="926.7" r="8.8"/><circle cx="1064.0" cy="974.8" r="7.6"/><circle cx="1252.6" cy="878.9" r="8.3"/><circle cx="1107.0" cy="915.4" r="7.4"/><circle cx="1167.6" cy="828.8" r="7.7"/><circle cx="1235.0" cy="758.2" r="7.7"/><circle cx="1232.2" cy="845.4" r="7.8"/><circle cx="1206.7" cy="957.4" r="7.5"/><circle cx="1149.8" cy="815.7" r="7.6"/><circle cx="1083.4" cy="914.6" r="7.9"/><circle cx="1181.3" cy="907.6" r="8.2"/><circle cx="1038.1" cy="1002.0" r="7.3"/><circle cx="1098.8" cy="811.0" r="8.4"/><circle cx="1192.8" cy="938.9" r="7.7"/><circle cx="1264.3" cy="839.5" r="8.1"/><circle cx="1202.3" cy="922.5" r="7.0"/><circle cx="1037.6" cy="803.8" r="8.2"/><circle cx="1015.6" cy="727.1" r="8.5"/><circle cx="1139.1" cy="829.5" r="8.3"/><circle cx="1198.0" cy="858.4" r="8.2"/><circle cx="1252.1" cy="834.2" r="8.7"/><circle cx="1220.2" cy="830.1" r="6.9"/><circle cx="1002.2" cy="779.1" r="8.0"/><circle cx="1056.7" cy="941.0" r="8.0"/><circle cx="1040.4" cy="862.9" r="7.4"/><circle cx="1073.7" cy="904.7" r="8.7"/><circle cx="1125.7" cy="722.8" r="7.6"/><circle cx="1141.5" cy="730.0" r="7.3"/><circle cx="1000.9" cy="803.5" r="8.2"/><circle cx="1015.4" cy="868.2" r="8.1"/><circle cx="1284.3" cy="807.3" r="7.8"/><circle cx="1269.6" cy="713.5" r="6.9"/><circle cx="1000.1" cy="969.1" r="8.5"/><circle cx="1048.8" cy="973.4" r="8.0"/><circle cx="1047.6" cy="821.2" r="7.9"/><circle cx="1208.7" cy="976.0" r="7.9"/><circle cx="1123.0" cy="922.4" r="7.5"/><circle cx="1168.2" cy="864.3" r="6.8"/><circle cx="1237.2" cy="746.4" r="8.1"/><circle cx="1009.7" cy="855.5" r="7.6"/><circle cx="1048.3" cy="703.5" r="7.7"/><circle cx="1184.3" cy="1010.3" r="6.9"/><circle cx="1154.5" cy="827.0" r="8.3"/><circle cx="1210.7" cy="703.2" r="8.8"/><circle cx="1263.8" cy="793.7" r="6.9"/><circle cx="1014.7" cy="905.8" r="7.4"/><circle cx="1158.9" cy="948.6" r="8.4"/><circle cx="1002.0" cy="755.2" r="7.0"/><circle cx="1122.8" cy="886.2" r="7.8"/><circle cx="1055.0" cy="882.3" r="8.2"/><circle cx="1284.1" cy="720.4" r="8.7"/><circle cx="1216.2" cy="926.3" r="7.2"/><circle cx="1162.4" cy="798.4" r="7.7"/><circle cx="1057.2" cy="845.9" r="8.0"/><circle cx="1234.2" cy="1000.1" r="6.9"/></g><g fill="#3f56b8" stroke="#8a8ad0" stroke-width="1.2" stroke-opacity=".5"><circle cx="1171.2" cy="711.7" r="7.2"/><circle cx="1028.2" cy="753.1" r="8.3"/><circle cx="1259.1" cy="900.6" r="7.2"/><circle cx="1180.0" cy="853.0" r="7.9"/><circle cx="1047.7" cy="786.7" r="8.1"/><circle cx="1112.3" cy="979.5" r="8.3"/><circle cx="1273.0" cy="729.1" r="7.0"/><circle cx="1266.2" cy="945.8" r="7.5"/><circle cx="1245.0" cy="991.4" r="7.5"/><circle cx="1237.7" cy="944.4" r="8.6"/><circle cx="1258.1" cy="935.1" r="7.0"/><circle cx="1008.2" cy="820.6" r="7.4"/><circle cx="1266.1" cy="1003.5" r="8.2"/><circle cx="1049.4" cy="930.8" r="8.2"/><circle cx="1161.9" cy="916.3" r="8.3"/><circle cx="1000.7" cy="877.2" r="8.4"/><circle cx="1040.4" cy="750.2" r="8.1"/><circle cx="1156.4" cy="770.6" r="7.6"/><circle cx="1081.3" cy="790.2" r="8.0"/><circle cx="1041.5" cy="898.9" r="8.7"/><circle cx="1031.0" cy="929.0" r="8.1"/><circle cx="1145.9" cy="802.5" r="8.0"/><circle cx="1174.7" cy="919.7" r="7.3"/><circle cx="1104.8" cy="876.6" r="7.1"/><circle cx="1069.6" cy="996.0" r="7.5"/><circle cx="1192.2" cy="814.2" r="7.2"/><circle cx="1277.2" cy="817.9" r="7.6"/><circle cx="1033.2" cy="914.8" r="7.6"/><circle cx="1069.4" cy="819.6" r="8.3"/><circle cx="1270.5" cy="893.7" r="7.5"/><circle cx="1220.4" cy="728.1" r="7.4"/><circle cx="1162.2" cy="968.3" r="8.3"/><circle cx="1179.1" cy="987.9" r="7.4"/><circle cx="1154.3" cy="706.7" r="7.4"/><circle cx="1211.2" cy="821.2" r="8.5"/><circle cx="1275.8" cy="870.7" r="7.8"/><circle cx="1080.4" cy="987.6" r="8.8"/><circle cx="1053.8" cy="898.0" r="8.4"/><circle cx="1192.8" cy="898.0" r="7.6"/><circle cx="1022.3" cy="937.5" r="7.9"/><circle cx="1284.8" cy="992.0" r="8.1"/><circle cx="1257.5" cy="769.6" r="8.1"/><circle cx="1188.0" cy="772.7" r="8.5"/><circle cx="1004.0" cy="738.6" r="7.8"/><circle cx="1164.2" cy="736.9" r="7.1"/><circle cx="1137.5" cy="916.2" r="8.1"/><circle cx="1099.6" cy="952.6" r="8.6"/><circle cx="1055.1" cy="772.5" r="8.3"/><circle cx="1154.7" cy="755.3" r="7.2"/><circle cx="1005.0" cy="716.0" r="8.3"/><circle cx="1196.1" cy="1022.1" r="7.8"/><circle cx="1026.9" cy="797.2" r="8.4"/><circle cx="1018.1" cy="811.7" r="7.8"/><circle cx="1253.7" cy="965.8" r="8.7"/><circle cx="1030.2" cy="873.3" r="7.5"/><circle cx="1283.3" cy="897.3" r="7.6"/><circle cx="1219.0" cy="890.5" r="8.2"/><circle cx="1279.6" cy="885.5" r="7.6"/></g><g fill="#2c44a4" stroke="#8a8ad0" stroke-width="1.2" stroke-opacity=".5"><circle cx="1223.7" cy="813.7" r="7.8"/><circle cx="1129.6" cy="811.5" r="7.1"/><circle cx="1050.9" cy="870.2" r="8.1"/><circle cx="1216.5" cy="715.9" r="7.1"/><circle cx="1076.0" cy="930.2" r="7.0"/><circle cx="1196.0" cy="788.9" r="7.5"/><circle cx="1177.8" cy="748.0" r="7.1"/><circle cx="1061.5" cy="914.9" r="7.3"/><circle cx="1259.5" cy="916.3" r="8.2"/><circle cx="1238.1" cy="1012.5" r="7.1"/><circle cx="1219.3" cy="844.5" r="8.2"/><circle cx="1164.1" cy="881.5" r="7.9"/><circle cx="1009.7" cy="921.4" r="8.4"/><circle cx="1197.9" cy="989.2" r="7.4"/><circle cx="1242.0" cy="771.8" r="8.7"/><circle cx="1208.6" cy="759.4" r="7.2"/><circle cx="1004.1" cy="1011.6" r="7.9"/><circle cx="1016.0" cy="758.8" r="7.5"/><circle cx="1224.7" cy="778.6" r="7.1"/><circle cx="1231.6" cy="971.8" r="8.1"/><circle cx="1078.7" cy="872.6" r="7.0"/><circle cx="1215.4" cy="802.7" r="8.7"/><circle cx="1143.0" cy="746.8" r="8.6"/><circle cx="1233.6" cy="956.6" r="7.1"/><circle cx="1255.4" cy="951.2" r="7.3"/><circle cx="1204.3" cy="889.0" r="8.6"/><circle cx="1095.8" cy="843.1" r="7.7"/><circle cx="1012.6" cy="949.8" r="8.1"/><circle cx="1129.5" cy="870.2" r="8.0"/><circle cx="1112.4" cy="757.0" r="6.8"/><circle cx="1033.8" cy="1019.2" r="7.4"/><circle cx="1232.9" cy="715.1" r="8.1"/><circle cx="1219.4" cy="1020.9" r="7.3"/><circle cx="1172.4" cy="956.9" r="7.6"/><circle cx="1002.5" cy="989.1" r="8.8"/><circle cx="1102.9" cy="714.4" r="8.7"/><circle cx="1021.5" cy="888.1" r="7.8"/><circle cx="1226.9" cy="987.8" r="7.9"/><circle cx="1028.8" cy="704.8" r="7.4"/><circle cx="1094.5" cy="774.0" r="8.2"/><circle cx="1200.5" cy="769.9" r="7.1"/><circle cx="1269.1" cy="1017.5" r="8.6"/><circle cx="1059.4" cy="859.5" r="8.0"/><circle cx="1079.8" cy="749.4" r="8.6"/><circle cx="1011.3" cy="832.9" r="8.0"/><circle cx="1066.5" cy="877.2" r="7.5"/><circle cx="1284.0" cy="912.6" r="8.8"/><circle cx="1089.8" cy="926.2" r="8.6"/><circle cx="1231.0" cy="894.2" r="8.2"/><circle cx="1128.6" cy="762.5" r="7.1"/><circle cx="1284.4" cy="754.5" r="8.4"/><circle cx="1285.5" cy="785.2" r="8.6"/><circle cx="1075.4" cy="1007.8" r="7.6"/><circle cx="1001.2" cy="937.5" r="7.8"/><circle cx="1091.3" cy="875.8" r="7.8"/><circle cx="1061.0" cy="1020.4" r="7.3"/><circle cx="1284.5" cy="734.8" r="7.7"/><circle cx="1181.7" cy="719.9" r="7.3"/><circle cx="1192.5" cy="827.3" r="7.9"/><circle cx="1069.2" cy="943.0" r="7.1"/></g>
<g fill="#6a2810"><circle cx="1010.6" cy="706.3" r="7.5"/><circle cx="1271.5" cy="805.7" r="9.4"/><circle cx="1006.9" cy="888.3" r="7.5"/><circle cx="1014.4" cy="984.0" r="9.4"/><circle cx="1205.8" cy="1014.0" r="8.3"/></g><g fill="#6e2a12"><circle cx="1202.0" cy="717.5" r="10.3"/><circle cx="1142.0" cy="758.8" r="7.5"/><circle cx="1125.1" cy="796.3" r="10.9"/><circle cx="1027.5" cy="826.4" r="9.4"/><circle cx="1119.5" cy="826.4" r="10.5"/><circle cx="1136.4" cy="880.8" r="8.6"/><circle cx="1078.2" cy="890.2" r="11.6"/><circle cx="1202.0" cy="908.9" r="8.3"/><circle cx="1213.3" cy="938.9" r="9.4"/><circle cx="1010.6" cy="961.5" r="8.3"/><circle cx="1117.6" cy="995.2" r="12.4"/></g><g fill="#5e2410"><circle cx="1213.3" cy="745.7" r="8.3"/><circle cx="1260.2" cy="822.6" r="9.0"/><circle cx="1072.6" cy="850.8" r="10.1"/><circle cx="1145.8" cy="967.1" r="10.5"/></g><g fill="#7a3014"><circle cx="1136.4" cy="775.7" r="11.3"/><circle cx="1230.2" cy="790.7" r="9.4"/><circle cx="1023.8" cy="850.8" r="11.3"/><circle cx="1188.9" cy="871.4" r="10.5"/></g><g fill="#7a3418"><circle cx="1098.8" cy="785.1" r="8.3"/><circle cx="1061.3" cy="807.6" r="8.3"/><circle cx="1095.1" cy="830.1" r="7.5"/><circle cx="1132.6" cy="841.4" r="8.3"/><circle cx="1155.1" cy="860.1" r="8.6"/><circle cx="1063.2" cy="927.7" r="9.0"/><circle cx="1102.6" cy="927.7" r="9.0"/><circle cx="1140.1" cy="946.5" r="8.3"/><circle cx="1179.5" cy="972.7" r="9.4"/><circle cx="1038.8" cy="965.2" r="6.8"/><circle cx="1053.8" cy="987.7" r="7.5"/><circle cx="1087.6" cy="976.5" r="7.5"/><circle cx="1051.9" cy="1014.0" r="7.5"/></g><g fill="#80381a"><circle cx="1158.9" cy="786.9" r="8.3"/><circle cx="1035.0" cy="788.8" r="7.5"/><circle cx="1249.0" cy="796.3" r="8.3"/><circle cx="1205.8" cy="832.0" r="8.6"/><circle cx="1087.6" cy="940.8" r="8.3"/></g><g fill="#8a4020"><circle cx="1241.5" cy="815.1" r="8.3"/></g><g fill="#7a3a2a"><circle cx="1117.6" cy="897.7" r="8.3"/></g><g fill="#6a3030"><circle cx="1232.1" cy="920.2" r="7.5"/></g><g fill="#7a4030"><circle cx="1252.7" cy="980.2" r="7.5"/><circle cx="1046.3" cy="766.3" r="6.8"/><circle cx="1068.8" cy="961.5" r="6.8"/></g><g fill="#6a3a50"><circle cx="1226.4" cy="856.4" r="8.3"/></g><g fill="#7a4038"><circle cx="1177.7" cy="815.1" r="6.8"/></g>
</g>
<rect x="1133.0" y="997.1" width="143.5" height="10.9" fill="#fff"/>
</g>
<clipPath id="cl5"><rect x="1294.9" y="706.3" width="282.3" height="317.1"/></clipPath>
<g clip-path="url(#cl5)"><g filter="url(#bl5)">
<rect x="1289.9" y="701.3" width="292.3" height="327.1" fill="#c4bcb6"/>
<g filter="url(#blx)" opacity=".8"><g fill="#e8c490"><circle cx="1367.4" cy="801.2" r="8.7"/><circle cx="1451.1" cy="825.7" r="13.2"/><circle cx="1389.5" cy="963.4" r="6.2"/><circle cx="1447.6" cy="854.3" r="6.2"/><circle cx="1303.6" cy="782.9" r="6.7"/><circle cx="1364.3" cy="808.2" r="13.1"/><circle cx="1535.2" cy="863.5" r="9.5"/><circle cx="1473.1" cy="857.1" r="8.6"/><circle cx="1333.9" cy="1015.3" r="8.1"/><circle cx="1351.2" cy="793.2" r="13.8"/></g><g fill="#dcb480"><circle cx="1377.9" cy="958.4" r="11.2"/><circle cx="1512.6" cy="1016.1" r="12.9"/><circle cx="1390.6" cy="1017.3" r="13.5"/><circle cx="1448.3" cy="732.1" r="13.1"/><circle cx="1313.0" cy="883.3" r="7.5"/><circle cx="1518.2" cy="1007.2" r="12.3"/><circle cx="1511.9" cy="811.3" r="8.4"/><circle cx="1433.2" cy="752.3" r="12.6"/><circle cx="1360.0" cy="890.4" r="7.5"/><circle cx="1444.1" cy="991.6" r="7.9"/><circle cx="1537.9" cy="874.7" r="9.2"/></g><g fill="#ecd8b0"><circle cx="1409.8" cy="966.1" r="10.9"/><circle cx="1378.5" cy="751.9" r="7.0"/><circle cx="1440.8" cy="1021.3" r="11.1"/><circle cx="1499.0" cy="728.9" r="9.9"/><circle cx="1566.1" cy="830.7" r="11.6"/><circle cx="1553.0" cy="935.8" r="10.1"/><circle cx="1513.6" cy="811.2" r="13.5"/><circle cx="1555.7" cy="866.2" r="11.1"/><circle cx="1472.1" cy="747.9" r="9.1"/><circle cx="1381.0" cy="714.0" r="11.4"/><circle cx="1537.6" cy="760.6" r="9.1"/><circle cx="1553.6" cy="920.6" r="12.6"/><circle cx="1469.1" cy="733.8" r="9.7"/><circle cx="1312.3" cy="853.1" r="11.8"/><circle cx="1366.6" cy="816.6" r="9.7"/><circle cx="1321.1" cy="847.2" r="11.0"/></g><g fill="#e6d0b0"><circle cx="1446.1" cy="935.2" r="12.0"/><circle cx="1390.2" cy="796.0" r="14.0"/><circle cx="1445.4" cy="912.1" r="10.1"/><circle cx="1405.8" cy="985.3" r="8.9"/><circle cx="1556.1" cy="1019.1" r="6.8"/><circle cx="1558.3" cy="915.8" r="9.6"/><circle cx="1445.8" cy="900.7" r="11.1"/><circle cx="1521.6" cy="888.8" r="11.9"/><circle cx="1524.0" cy="761.2" r="8.4"/><circle cx="1436.0" cy="761.4" r="8.8"/><circle cx="1477.4" cy="918.4" r="12.0"/></g><g fill="#f0e4c8"><circle cx="1568.2" cy="1002.1" r="8.0"/><circle cx="1574.7" cy="941.6" r="9.1"/><circle cx="1527.0" cy="805.2" r="8.0"/><circle cx="1373.7" cy="756.1" r="10.9"/><circle cx="1413.2" cy="1013.4" r="6.1"/><circle cx="1405.8" cy="1011.2" r="10.0"/><circle cx="1336.4" cy="894.9" r="11.3"/><circle cx="1439.8" cy="787.5" r="10.8"/><circle cx="1488.7" cy="725.9" r="12.8"/><circle cx="1364.4" cy="796.1" r="6.7"/><circle cx="1394.9" cy="1007.9" r="8.1"/><circle cx="1401.8" cy="893.5" r="9.4"/><circle cx="1448.3" cy="707.4" r="14.0"/><circle cx="1388.6" cy="837.4" r="10.7"/></g><g fill="#d8c8c8"><circle cx="1458.9" cy="994.5" r="9.2"/><circle cx="1328.4" cy="789.3" r="9.1"/><circle cx="1391.4" cy="979.1" r="7.9"/><circle cx="1373.9" cy="994.0" r="6.8"/><circle cx="1399.4" cy="930.7" r="7.9"/><circle cx="1393.1" cy="707.8" r="11.8"/><circle cx="1408.3" cy="794.2" r="13.0"/><circle cx="1424.9" cy="1006.2" r="7.6"/></g></g>
<g filter="url(#blx)" opacity=".85"><g fill="#f0e0b8"><circle cx="1303.8" cy="910.8" r="16.9"/><circle cx="1311.3" cy="811.3" r="11.3"/><circle cx="1491.4" cy="882.7" r="11.3"/><circle cx="1341.3" cy="743.8" r="11.3"/><circle cx="1435.1" cy="725.0" r="9.9"/><circle cx="1497.0" cy="766.3" r="9.9"/><circle cx="1390.1" cy="944.6" r="11.3"/><circle cx="1566.5" cy="892.0" r="9.9"/><circle cx="1465.1" cy="796.3" r="8.4"/><circle cx="1363.8" cy="817.0" r="9.9"/><circle cx="1544.0" cy="815.1" r="11.3"/><circle cx="1416.4" cy="961.5" r="9.9"/><circle cx="1519.6" cy="987.7" r="9.9"/><circle cx="1331.9" cy="935.2" r="9.9"/></g></g>
<g fill="#3156b2" stroke="#a8bce6" stroke-width="1.2" stroke-opacity=".5"><circle cx="1399.3" cy="984.6" r="7.2"/><circle cx="1292.1" cy="953.6" r="8.3"/><circle cx="1439.8" cy="865.1" r="7.9"/><circle cx="1326.9" cy="929.4" r="7.4"/><circle cx="1446.2" cy="977.8" r="8.7"/><circle cx="1485.5" cy="858.8" r="7.6"/><circle cx="1372.1" cy="710.8" r="7.5"/><circle cx="1542.5" cy="944.3" r="6.8"/><circle cx="1572.6" cy="962.3" r="8.0"/><circle cx="1330.9" cy="875.8" r="7.2"/><circle cx="1574.4" cy="732.4" r="6.9"/><circle cx="1385.9" cy="909.8" r="7.8"/><circle cx="1366.6" cy="818.2" r="7.4"/><circle cx="1352.6" cy="931.6" r="8.5"/><circle cx="1444.8" cy="703.3" r="7.6"/><circle cx="1412.3" cy="821.6" r="8.3"/><circle cx="1540.5" cy="790.5" r="7.1"/><circle cx="1469.1" cy="902.6" r="8.8"/><circle cx="1394.7" cy="882.0" r="8.7"/><circle cx="1439.3" cy="910.4" r="7.3"/><circle cx="1432.2" cy="923.5" r="7.5"/><circle cx="1405.0" cy="921.4" r="8.1"/><circle cx="1408.7" cy="908.3" r="8.5"/><circle cx="1334.2" cy="890.6" r="8.0"/><circle cx="1433.8" cy="876.2" r="6.9"/><circle cx="1508.0" cy="892.6" r="8.6"/><circle cx="1298.8" cy="841.2" r="8.6"/><circle cx="1492.6" cy="952.3" r="7.8"/><circle cx="1337.3" cy="860.9" r="8.6"/><circle cx="1503.9" cy="722.2" r="6.9"/><circle cx="1571.8" cy="822.2" r="8.3"/><circle cx="1423.1" cy="829.0" r="7.6"/><circle cx="1333.0" cy="1012.8" r="8.6"/><circle cx="1450.9" cy="738.3" r="7.3"/><circle cx="1454.9" cy="795.5" r="7.8"/><circle cx="1401.8" cy="1025.1" r="8.5"/><circle cx="1374.7" cy="1023.3" r="7.3"/><circle cx="1475.2" cy="774.3" r="8.4"/><circle cx="1571.4" cy="1023.6" r="7.3"/><circle cx="1340.6" cy="943.3" r="7.3"/><circle cx="1490.5" cy="740.7" r="7.7"/><circle cx="1540.5" cy="832.4" r="6.9"/><circle cx="1574.4" cy="885.1" r="8.8"/><circle cx="1370.2" cy="870.6" r="8.6"/><circle cx="1321.3" cy="914.0" r="8.3"/><circle cx="1455.4" cy="872.4" r="7.7"/><circle cx="1360.9" cy="908.0" r="7.2"/><circle cx="1388.9" cy="898.1" r="7.1"/><circle cx="1414.0" cy="772.2" r="7.1"/><circle cx="1526.4" cy="893.7" r="8.5"/><circle cx="1559.1" cy="818.6" r="7.1"/><circle cx="1403.5" cy="743.2" r="8.6"/><circle cx="1546.8" cy="740.5" r="8.4"/><circle cx="1557.1" cy="791.3" r="8.1"/><circle cx="1578.1" cy="987.1" r="7.2"/><circle cx="1309.8" cy="927.8" r="7.4"/><circle cx="1458.3" cy="750.9" r="7.9"/></g><g fill="#375cb8" stroke="#a8bce6" stroke-width="1.2" stroke-opacity=".5"><circle cx="1480.9" cy="1000.8" r="8.0"/><circle cx="1342.3" cy="919.1" r="7.3"/><circle cx="1461.1" cy="765.0" r="7.4"/><circle cx="1531.2" cy="808.7" r="7.9"/><circle cx="1544.5" cy="892.2" r="8.1"/><circle cx="1322.3" cy="770.5" r="7.0"/><circle cx="1580.1" cy="766.7" r="7.8"/><circle cx="1357.4" cy="866.1" r="6.8"/><circle cx="1378.6" cy="993.2" r="7.5"/><circle cx="1375.4" cy="946.1" r="8.1"/><circle cx="1520.3" cy="949.7" r="7.8"/><circle cx="1436.2" cy="947.5" r="8.0"/><circle cx="1513.2" cy="709.8" r="7.4"/><circle cx="1295.2" cy="939.5" r="8.1"/><circle cx="1362.2" cy="806.5" r="8.8"/><circle cx="1474.4" cy="825.3" r="7.8"/><circle cx="1434.4" cy="742.9" r="8.6"/><circle cx="1296.8" cy="1026.1" r="8.1"/><circle cx="1455.1" cy="914.0" r="7.5"/><circle cx="1351.3" cy="764.2" r="7.6"/><circle cx="1374.8" cy="969.2" r="7.0"/><circle cx="1324.1" cy="960.4" r="8.6"/><circle cx="1494.3" cy="825.9" r="8.7"/><circle cx="1514.5" cy="998.9" r="8.6"/><circle cx="1306.7" cy="798.7" r="7.1"/><circle cx="1518.2" cy="832.0" r="7.5"/><circle cx="1352.6" cy="793.3" r="8.1"/><circle cx="1378.0" cy="924.6" r="8.5"/><circle cx="1519.3" cy="787.9" r="8.1"/><circle cx="1352.3" cy="997.8" r="8.5"/><circle cx="1413.5" cy="979.6" r="7.0"/><circle cx="1439.0" cy="759.8" r="8.1"/><circle cx="1548.8" cy="706.0" r="8.7"/><circle cx="1527.2" cy="969.0" r="8.5"/><circle cx="1299.7" cy="786.5" r="8.5"/><circle cx="1477.8" cy="876.9" r="7.8"/><circle cx="1395.0" cy="719.2" r="7.1"/><circle cx="1515.3" cy="762.2" r="7.3"/><circle cx="1553.6" cy="904.1" r="7.3"/><circle cx="1410.2" cy="1009.3" r="8.4"/><circle cx="1394.2" cy="937.3" r="8.6"/><circle cx="1293.5" cy="799.3" r="7.7"/><circle cx="1490.3" cy="910.2" r="7.3"/><circle cx="1436.8" cy="1004.1" r="7.1"/><circle cx="1502.3" cy="703.5" r="8.7"/><circle cx="1405.2" cy="995.9" r="7.4"/><circle cx="1533.6" cy="926.9" r="7.9"/><circle cx="1390.6" cy="925.4" r="8.2"/><circle cx="1310.6" cy="1025.7" r="7.9"/><circle cx="1372.8" cy="831.9" r="8.2"/><circle cx="1433.2" cy="821.7" r="8.0"/><circle cx="1459.5" cy="980.8" r="8.0"/><circle cx="1450.4" cy="897.1" r="7.8"/><circle cx="1318.2" cy="707.5" r="8.0"/><circle cx="1508.5" cy="818.8" r="8.0"/><circle cx="1337.5" cy="767.9" r="7.3"/><circle cx="1447.0" cy="769.3" r="8.1"/><circle cx="1326.3" cy="943.5" r="7.9"/><circle cx="1329.6" cy="1025.5" r="8.8"/><circle cx="1466.8" cy="943.4" r="7.2"/><circle cx="1481.2" cy="987.7" r="7.9"/><circle cx="1357.4" cy="985.4" r="7.4"/><circle cx="1575.6" cy="704.5" r="7.2"/><circle cx="1450.3" cy="726.6" r="7.8"/><circle cx="1486.3" cy="778.6" r="7.6"/><circle cx="1415.2" cy="739.2" r="7.6"/><circle cx="1318.2" cy="783.1" r="8.4"/><circle cx="1539.8" cy="1013.3" r="7.1"/><circle cx="1457.9" cy="969.3" r="7.4"/><circle cx="1380.9" cy="980.8" r="7.8"/><circle cx="1561.8" cy="771.6" r="8.1"/><circle cx="1485.8" cy="846.2" r="8.1"/><circle cx="1566.0" cy="946.8" r="7.4"/></g><g fill="#28489e" stroke="#a8bce6" stroke-width="1.2" stroke-opacity=".5"><circle cx="1506.2" cy="873.7" r="8.0"/><circle cx="1392.4" cy="1015.8" r="7.7"/><circle cx="1437.7" cy="1023.4" r="8.3"/><circle cx="1299.6" cy="755.9" r="8.7"/><circle cx="1353.0" cy="747.4" r="6.9"/><circle cx="1300.5" cy="967.7" r="7.0"/><circle cx="1537.9" cy="1001.5" r="7.2"/><circle cx="1490.0" cy="706.4" r="7.8"/><circle cx="1331.8" cy="756.0" r="7.0"/><circle cx="1472.8" cy="704.8" r="7.2"/><circle cx="1393.5" cy="861.7" r="8.8"/><circle cx="1415.1" cy="948.4" r="8.7"/><circle cx="1423.6" cy="750.1" r="8.5"/><circle cx="1336.5" cy="712.5" r="8.0"/><circle cx="1566.7" cy="905.5" r="8.7"/><circle cx="1302.2" cy="861.7" r="7.2"/><circle cx="1446.9" cy="992.1" r="8.1"/><circle cx="1503.3" cy="972.0" r="7.2"/><circle cx="1431.8" cy="709.4" r="7.7"/><circle cx="1362.1" cy="1006.3" r="8.7"/><circle cx="1345.0" cy="982.3" r="7.4"/><circle cx="1542.9" cy="820.4" r="7.7"/><circle cx="1363.5" cy="785.0" r="7.2"/><circle cx="1323.4" cy="739.7" r="7.1"/><circle cx="1391.3" cy="788.5" r="7.7"/><circle cx="1470.0" cy="955.8" r="7.3"/><circle cx="1446.5" cy="809.8" r="8.7"/><circle cx="1306.4" cy="850.8" r="7.3"/><circle cx="1351.6" cy="894.3" r="7.3"/><circle cx="1427.7" cy="787.2" r="8.7"/><circle cx="1561.8" cy="883.2" r="8.5"/><circle cx="1455.0" cy="954.3" r="7.4"/><circle cx="1412.2" cy="798.8" r="7.9"/><circle cx="1419.5" cy="872.7" r="8.5"/><circle cx="1347.8" cy="883.4" r="7.0"/><circle cx="1403.4" cy="949.7" r="8.7"/><circle cx="1495.6" cy="805.9" r="8.0"/><circle cx="1363.2" cy="924.2" r="7.1"/><circle cx="1444.2" cy="926.5" r="7.9"/><circle cx="1486.9" cy="1012.8" r="8.5"/><circle cx="1388.9" cy="758.2" r="8.4"/><circle cx="1517.4" cy="775.6" r="8.0"/><circle cx="1297.8" cy="810.2" r="7.1"/><circle cx="1364.2" cy="734.1" r="7.7"/><circle cx="1387.3" cy="1002.3" r="8.0"/><circle cx="1578.5" cy="947.3" r="7.1"/><circle cx="1546.9" cy="878.9" r="8.2"/><circle cx="1366.0" cy="767.4" r="8.3"/><circle cx="1406.3" cy="879.1" r="7.2"/><circle cx="1574.2" cy="834.6" r="7.6"/><circle cx="1360.7" cy="835.6" r="8.1"/><circle cx="1474.8" cy="917.0" r="8.6"/><circle cx="1361.5" cy="1024.9" r="8.3"/><circle cx="1531.1" cy="822.1" r="7.8"/><circle cx="1548.1" cy="990.7" r="7.3"/><circle cx="1484.8" cy="834.6" r="7.6"/><circle cx="1510.7" cy="844.0" r="8.5"/><circle cx="1328.5" cy="825.4" r="7.1"/><circle cx="1471.6" cy="845.3" r="7.0"/><circle cx="1336.7" cy="903.8" r="7.6"/><circle cx="1578.3" cy="1010.1" r="7.0"/><circle cx="1295.3" cy="921.9" r="8.3"/><circle cx="1517.9" cy="807.0" r="8.6"/><circle cx="1496.0" cy="899.5" r="8.3"/><circle cx="1569.2" cy="860.6" r="8.4"/><circle cx="1460.6" cy="703.4" r="7.2"/><circle cx="1369.6" cy="858.4" r="7.0"/><circle cx="1455.4" cy="842.1" r="8.4"/><circle cx="1335.6" cy="955.9" r="6.9"/><circle cx="1334.5" cy="989.0" r="7.1"/><circle cx="1579.6" cy="903.2" r="7.0"/></g><g fill="#416ac2" stroke="#a8bce6" stroke-width="1.2" stroke-opacity=".5"><circle cx="1463.5" cy="732.1" r="7.9"/><circle cx="1383.4" cy="716.8" r="7.0"/><circle cx="1381.9" cy="871.5" r="8.6"/><circle cx="1558.5" cy="1018.6" r="7.2"/><circle cx="1468.5" cy="745.6" r="7.7"/><circle cx="1393.0" cy="801.2" r="8.4"/><circle cx="1420.6" cy="898.4" r="8.5"/><circle cx="1340.6" cy="741.0" r="8.3"/><circle cx="1352.9" cy="948.3" r="7.9"/><circle cx="1548.0" cy="771.3" r="8.0"/><circle cx="1459.0" cy="929.3" r="7.7"/><circle cx="1348.3" cy="844.7" r="7.0"/><circle cx="1579.0" cy="870.8" r="8.2"/><circle cx="1487.2" cy="963.2" r="8.5"/><circle cx="1482.5" cy="897.0" r="8.2"/><circle cx="1422.9" cy="856.6" r="8.7"/><circle cx="1567.9" cy="1002.2" r="8.0"/><circle cx="1453.4" cy="1024.0" r="7.1"/><circle cx="1529.1" cy="856.6" r="7.8"/><circle cx="1533.6" cy="984.9" r="7.9"/><circle cx="1521.2" cy="1016.2" r="7.5"/><circle cx="1404.9" cy="780.1" r="8.1"/><circle cx="1499.6" cy="839.0" r="8.4"/><circle cx="1439.0" cy="887.2" r="8.8"/><circle cx="1463.2" cy="1014.8" r="7.5"/><circle cx="1487.6" cy="755.4" r="8.6"/><circle cx="1408.6" cy="706.7" r="8.7"/><circle cx="1456.1" cy="827.6" r="7.0"/><circle cx="1530.9" cy="710.4" r="7.2"/><circle cx="1496.0" cy="789.0" r="7.1"/><circle cx="1465.0" cy="883.9" r="7.0"/><circle cx="1429.2" cy="844.8" r="8.4"/><circle cx="1413.3" cy="840.0" r="7.2"/><circle cx="1319.0" cy="797.4" r="8.8"/><circle cx="1575.0" cy="929.4" r="8.6"/><circle cx="1298.8" cy="999.4" r="7.7"/><circle cx="1518.6" cy="744.9" r="8.3"/><circle cx="1444.6" cy="853.6" r="7.7"/><circle cx="1451.7" cy="714.7" r="7.4"/><circle cx="1462.8" cy="996.0" r="6.9"/><circle cx="1408.4" cy="762.1" r="8.1"/><circle cx="1478.2" cy="789.9" r="7.5"/><circle cx="1578.4" cy="779.2" r="7.1"/><circle cx="1560.9" cy="746.1" r="7.3"/><circle cx="1511.2" cy="922.8" r="7.4"/><circle cx="1514.0" cy="729.7" r="8.0"/><circle cx="1526.4" cy="725.9" r="7.1"/><circle cx="1515.5" cy="966.6" r="7.2"/><circle cx="1401.8" cy="893.1" r="7.4"/><circle cx="1381.5" cy="769.2" r="8.7"/><circle cx="1455.2" cy="942.4" r="7.2"/><circle cx="1559.9" cy="712.8" r="7.3"/><circle cx="1509.1" cy="797.3" r="8.0"/><circle cx="1318.1" cy="971.5" r="8.7"/><circle cx="1484.9" cy="818.0" r="8.5"/><circle cx="1546.2" cy="962.9" r="7.7"/><circle cx="1373.9" cy="791.5" r="8.2"/><circle cx="1480.4" cy="1023.8" r="7.5"/><circle cx="1403.8" cy="855.8" r="7.4"/><circle cx="1397.5" cy="816.5" r="8.0"/><circle cx="1312.9" cy="835.4" r="7.1"/><circle cx="1433.5" cy="898.3" r="6.9"/><circle cx="1304.4" cy="980.0" r="7.2"/><circle cx="1499.2" cy="990.7" r="8.4"/><circle cx="1545.5" cy="801.1" r="8.4"/><circle cx="1416.2" cy="785.9" r="8.8"/><circle cx="1292.9" cy="875.6" r="7.1"/><circle cx="1500.5" cy="916.9" r="8.0"/><circle cx="1380.7" cy="781.4" r="7.6"/><circle cx="1475.7" cy="760.6" r="8.5"/></g><g fill="#2c50aa" stroke="#a8bce6" stroke-width="1.2" stroke-opacity=".5"><circle cx="1532.0" cy="764.4" r="7.7"/><circle cx="1417.4" cy="936.8" r="7.0"/><circle cx="1494.2" cy="1001.4" r="8.4"/><circle cx="1377.5" cy="846.6" r="7.2"/><circle cx="1391.2" cy="706.7" r="8.5"/><circle cx="1332.9" cy="790.0" r="8.4"/><circle cx="1503.7" cy="776.7" r="8.2"/><circle cx="1345.6" cy="703.9" r="8.6"/><circle cx="1566.5" cy="783.0" r="8.6"/><circle cx="1299.4" cy="908.4" r="8.2"/><circle cx="1549.1" cy="974.6" r="7.7"/><circle cx="1564.8" cy="759.9" r="7.9"/><circle cx="1419.3" cy="711.0" r="7.4"/><circle cx="1314.4" cy="819.8" r="8.5"/><circle cx="1295.9" cy="741.8" r="8.7"/><circle cx="1425.0" cy="1015.6" r="8.0"/><circle cx="1496.5" cy="935.0" r="8.3"/><circle cx="1404.2" cy="831.1" r="7.4"/><circle cx="1534.1" cy="750.0" r="8.5"/><circle cx="1332.5" cy="972.7" r="8.7"/><circle cx="1307.7" cy="712.5" r="7.9"/><circle cx="1480.6" cy="732.8" r="8.2"/><circle cx="1311.7" cy="958.6" r="8.1"/><circle cx="1557.5" cy="857.8" r="7.8"/><circle cx="1515.6" cy="856.9" r="8.1"/><circle cx="1346.2" cy="832.5" r="8.6"/><circle cx="1534.2" cy="884.6" r="7.0"/><circle cx="1425.1" cy="765.6" r="8.1"/><circle cx="1540.0" cy="907.1" r="8.3"/><circle cx="1539.9" cy="729.6" r="7.0"/><circle cx="1316.3" cy="871.1" r="7.9"/><circle cx="1578.7" cy="974.6" r="7.2"/><circle cx="1312.2" cy="733.9" r="8.7"/><circle cx="1378.9" cy="1011.5" r="7.4"/><circle cx="1372.4" cy="904.7" r="8.5"/><circle cx="1519.4" cy="987.6" r="6.9"/><circle cx="1385.8" cy="959.6" r="7.6"/><circle cx="1354.4" cy="821.7" r="8.3"/><circle cx="1321.7" cy="1007.1" r="7.3"/><circle cx="1308.6" cy="769.3" r="7.1"/><circle cx="1380.8" cy="883.1" r="8.6"/><circle cx="1382.3" cy="819.0" r="7.4"/><circle cx="1361.5" cy="888.3" r="7.7"/><circle cx="1564.9" cy="846.2" r="6.9"/><circle cx="1463.9" cy="806.5" r="7.9"/><circle cx="1292.8" cy="715.5" r="8.3"/><circle cx="1438.5" cy="800.7" r="8.0"/><circle cx="1292.1" cy="984.7" r="8.3"/><circle cx="1363.5" cy="753.5" r="8.3"/><circle cx="1509.7" cy="940.4" r="7.9"/><circle cx="1556.3" cy="1003.6" r="8.1"/><circle cx="1296.7" cy="703.8" r="8.4"/><circle cx="1563.0" cy="918.9" r="7.8"/><circle cx="1359.0" cy="970.4" r="8.6"/><circle cx="1578.3" cy="793.5" r="8.7"/><circle cx="1503.6" cy="734.8" r="8.4"/><circle cx="1382.1" cy="729.4" r="8.5"/><circle cx="1494.1" cy="868.5" r="7.2"/><circle cx="1342.0" cy="871.6" r="8.4"/><circle cx="1418.5" cy="921.7" r="8.7"/><circle cx="1560.1" cy="971.1" r="8.2"/><circle cx="1434.8" cy="979.7" r="7.1"/><circle cx="1381.9" cy="859.3" r="8.6"/><circle cx="1293.2" cy="1013.8" r="7.6"/><circle cx="1462.3" cy="784.4" r="7.7"/></g><g fill="#3c62bc" stroke="#a8bce6" stroke-width="1.2" stroke-opacity=".5"><circle cx="1390.1" cy="830.0" r="7.4"/><circle cx="1442.6" cy="838.1" r="8.0"/><circle cx="1475.2" cy="934.4" r="6.8"/><circle cx="1429.5" cy="991.8" r="7.1"/><circle cx="1488.3" cy="922.7" r="8.5"/><circle cx="1545.9" cy="718.2" r="8.5"/><circle cx="1324.3" cy="901.4" r="8.1"/><circle cx="1333.4" cy="815.0" r="7.1"/><circle cx="1498.2" cy="1015.7" r="6.8"/><circle cx="1458.1" cy="860.8" r="7.4"/><circle cx="1491.4" cy="979.5" r="7.1"/><circle cx="1427.3" cy="962.6" r="6.9"/><circle cx="1549.9" cy="752.3" r="6.9"/><circle cx="1313.6" cy="891.8" r="7.1"/><circle cx="1551.0" cy="916.3" r="7.8"/><circle cx="1419.8" cy="726.1" r="7.5"/><circle cx="1558.8" cy="805.5" r="7.6"/><circle cx="1572.6" cy="745.7" r="7.7"/><circle cx="1507.8" cy="906.9" r="8.3"/><circle cx="1313.9" cy="939.6" r="7.8"/><circle cx="1323.0" cy="857.7" r="7.7"/><circle cx="1392.0" cy="774.9" r="8.4"/><circle cx="1347.8" cy="1026.0" r="7.2"/><circle cx="1318.9" cy="721.4" r="7.7"/><circle cx="1292.7" cy="896.4" r="8.5"/><circle cx="1367.4" cy="959.3" r="7.7"/><circle cx="1342.1" cy="807.0" r="7.3"/><circle cx="1579.7" cy="755.2" r="8.1"/><circle cx="1480.8" cy="718.7" r="8.8"/><circle cx="1482.1" cy="806.0" r="8.3"/><circle cx="1578.8" cy="721.6" r="7.2"/><circle cx="1443.2" cy="959.4" r="7.4"/><circle cx="1546.5" cy="928.8" r="6.8"/><circle cx="1360.1" cy="704.8" r="8.3"/><circle cx="1292.8" cy="774.6" r="7.8"/><circle cx="1504.2" cy="754.7" r="8.2"/><circle cx="1417.1" cy="996.2" r="8.0"/><circle cx="1529.6" cy="957.0" r="8.2"/><circle cx="1303.0" cy="823.4" r="7.7"/><circle cx="1572.8" cy="806.6" r="7.1"/><circle cx="1510.0" cy="1024.2" r="7.2"/><circle cx="1422.2" cy="886.4" r="7.4"/><circle cx="1368.1" cy="979.0" r="7.4"/><circle cx="1541.6" cy="1025.1" r="7.4"/><circle cx="1578.6" cy="847.3" r="8.5"/><circle cx="1562.2" cy="829.9" r="7.8"/><circle cx="1469.7" cy="863.1" r="8.4"/><circle cx="1418.4" cy="1025.9" r="8.7"/><circle cx="1364.9" cy="936.5" r="7.1"/><circle cx="1530.7" cy="796.7" r="8.5"/><circle cx="1375.2" cy="747.4" r="8.7"/><circle cx="1492.8" cy="727.7" r="7.0"/><circle cx="1349.5" cy="1014.3" r="7.6"/><circle cx="1308.6" cy="745.9" r="8.0"/></g>
<g fill="#4a180a"><circle cx="1301.9" cy="723.1" r="8.3"/><circle cx="1536.5" cy="775.7" r="7.9"/><circle cx="1547.7" cy="867.6" r="6.8"/><circle cx="1555.2" cy="954.0" r="8.6"/><circle cx="1472.7" cy="976.5" r="7.9"/><circle cx="1339.4" cy="1002.8" r="7.9"/></g><g fill="#4e1a0c"><circle cx="1333.8" cy="723.1" r="7.5"/><circle cx="1326.3" cy="843.2" r="8.3"/><circle cx="1361.9" cy="848.9" r="8.3"/><circle cx="1301.9" cy="888.3" r="8.3"/><circle cx="1559.0" cy="937.1" r="7.9"/><circle cx="1566.5" cy="982.1" r="8.3"/><circle cx="1365.7" cy="993.4" r="7.9"/></g><g fill="#6a2810"><circle cx="1350.7" cy="717.5" r="8.3"/></g><g fill="#5a200e"><circle cx="1348.8" cy="732.5" r="8.3"/><circle cx="1502.7" cy="860.1" r="7.5"/><circle cx="1521.4" cy="880.8" r="6.4"/><circle cx="1318.8" cy="987.7" r="10.5"/></g><g fill="#6a3018"><circle cx="1407.0" cy="725.0" r="8.3"/><circle cx="1388.2" cy="738.2" r="6.8"/></g><g fill="#5a2410"><circle cx="1313.1" cy="756.9" r="7.9"/><circle cx="1350.7" cy="961.5" r="7.5"/><circle cx="1305.6" cy="1012.1" r="7.5"/></g><g fill="#3e1206"><circle cx="1448.3" cy="781.3" r="8.6"/><circle cx="1427.6" cy="912.7" r="7.9"/><circle cx="1506.4" cy="954.0" r="7.9"/></g><g fill="#461608"><circle cx="1375.1" cy="803.8" r="8.6"/><circle cx="1528.9" cy="841.4" r="7.9"/><circle cx="1397.6" cy="910.8" r="7.5"/><circle cx="1523.3" cy="931.4" r="7.5"/></g><g fill="#42140a"><circle cx="1393.8" cy="843.2" r="9.0"/><circle cx="1397.6" cy="970.8" r="8.3"/></g><g fill="#8a4a28"><circle cx="1547.7" cy="845.1" r="7.9"/></g><g fill="#5e2814"><circle cx="1403.2" cy="867.6" r="6.8"/></g><g fill="#6a3420"><circle cx="1527.1" cy="867.6" r="6.8"/><circle cx="1478.3" cy="946.5" r="7.1"/></g><g fill="#55200e"><circle cx="1348.8" cy="908.9" r="7.5"/><circle cx="1525.2" cy="914.6" r="6.8"/><circle cx="1446.4" cy="1012.1" r="7.5"/></g><g fill="#8a4a30"><circle cx="1427.6" cy="807.6" r="9.4"/></g><g fill="#9a5028"><circle cx="1557.1" cy="728.8" r="9.4"/></g><g fill="#7a4030"><circle cx="1346.9" cy="775.7" r="6.8"/><circle cx="1431.4" cy="935.2" r="6.4"/></g><g fill="#9a5a38"><circle cx="1465.1" cy="721.3" r="6.8"/></g>
</g>
<rect x="1423.9" y="996.2" width="143.5" height="10.8" fill="#fff"/>
</g>
<text x="129.50" y="1066.40" font-size="29.5" font-weight="bold" textLength="263.50" lengthAdjust="spacingAndGlyphs" stroke="#000" stroke-width="0.2">Normal cerebellum</text>
<text x="437.00" y="1066.40" font-size="29.5" font-weight="bold" textLength="203.50" lengthAdjust="spacingAndGlyphs" stroke="#000" stroke-width="0.2">WNT subgroup</text>
<text x="749.00" y="1070.00" font-size="29.5" font-weight="bold" textLength="194.00" lengthAdjust="spacingAndGlyphs" stroke="#000" stroke-width="0.2">SHH subgroup</text>
<text x="1084.00" y="1070.00" font-size="29.5" font-weight="bold" textLength="109.50" lengthAdjust="spacingAndGlyphs" stroke="#000" stroke-width="0.2">Group 3</text>
<text x="1390.30" y="1067.20" font-size="29.5" font-weight="bold" textLength="110.00" lengthAdjust="spacingAndGlyphs" stroke="#000" stroke-width="0.2">Group 4</text>
</g>
<g id="pD">
<text x="3.80" y="1162.40" font-size="61.5" textLength="42.00" lengthAdjust="spacingAndGlyphs">D</text>
<text x="126.00" y="1162.60" font-size="35.6" font-weight="bold" textLength="607.00" lengthAdjust="spacingAndGlyphs" stroke="#000" stroke-width="0.35">Immunhistochemistry of MB tissues,</text>
<text x="164.00" y="1204.40" font-size="35.6" font-weight="bold" textLength="531.50" lengthAdjust="spacingAndGlyphs" stroke="#000" stroke-width="0.35">normalized to healty cerebellum</text>
<text transform="translate(22.30 1441.30) rotate(-90)" font-size="29.6" font-weight="bold" text-anchor="middle" textLength="440.00" lengthAdjust="spacingAndGlyphs" stroke="#000" stroke-width="0.35">% of positive nuclear staining</text>
<path d="M83.50 1250.10L83.50 1634.10" stroke="#000" stroke-width="3.6" />
<text x="70.50" y="1641.80" font-size="28" font-weight="bold" text-anchor="end" textLength="14.00" lengthAdjust="spacingAndGlyphs" stroke="#000" stroke-width="0.35">0</text>
<path d="M73.80 1556.12L83.50 1556.12" stroke="#000" stroke-width="3.4" />
<text x="70.50" y="1565.72" font-size="28" font-weight="bold" text-anchor="end" textLength="14.00" lengthAdjust="spacingAndGlyphs" stroke="#000" stroke-width="0.35">5</text>
<path d="M73.80 1480.04L83.50 1480.04" stroke="#000" stroke-width="3.4" />
<text x="70.50" y="1489.64" font-size="28" font-weight="bold" text-anchor="end" textLength="28.00" lengthAdjust="spacingAndGlyphs" stroke="#000" stroke-width="0.35">10</text>
<path d="M73.80 1403.96L83.50 1403.96" stroke="#000" stroke-width="3.4" />
<text x="70.50" y="1413.56" font-size="28" font-weight="bold" text-anchor="end" textLength="28.00" lengthAdjust="spacingAndGlyphs" stroke="#000" stroke-width="0.35">15</text>
<path d="M73.80 1327.88L83.50 1327.88" stroke="#000" stroke-width="3.4" />
<text x="70.50" y="1337.48" font-size="28" font-weight="bold" text-anchor="end" textLength="28.00" lengthAdjust="spacingAndGlyphs" stroke="#000" stroke-width="0.35">20</text>
<path d="M73.80 1251.80L83.50 1251.80" stroke="#000" stroke-width="3.4" />
<text x="70.50" y="1261.40" font-size="28" font-weight="bold" text-anchor="end" textLength="28.00" lengthAdjust="spacingAndGlyphs" stroke="#000" stroke-width="0.35">25</text>
<path d="M148.25 1584.40L148.25 1597.50" stroke="#000" stroke-width="3.8" />
<path d="M127.75 1584.40L168.75 1584.40" stroke="#000" stroke-width="4" stroke-linecap="round"/>
<rect x="104.95" y="1597.45" width="86.60" height="34.75" fill="#fff" stroke="#000" stroke-width="3.9" />
<path d="M278.15 1419.70L278.15 1425.90" stroke="#000" stroke-width="3.8" />
<path d="M257.65 1419.70L298.65 1419.70" stroke="#000" stroke-width="4" stroke-linecap="round"/>
<rect x="235.25" y="1425.85" width="85.80" height="206.35" fill="#fff" stroke="#000" stroke-width="3.9" />
<path d="M407.55 1322.00L407.55 1330.40" stroke="#000" stroke-width="3.8" />
<path d="M387.05 1322.00L428.05 1322.00" stroke="#000" stroke-width="4" stroke-linecap="round"/>
<rect x="364.55" y="1330.35" width="86.00" height="301.85" fill="#a0a0a0" stroke="#000" stroke-width="3.9" />
<path d="M537.55 1272.10L537.55 1291.30" stroke="#000" stroke-width="3.8" />
<path d="M517.05 1272.10L558.05 1272.10" stroke="#000" stroke-width="4" stroke-linecap="round"/>
<rect x="494.25" y="1291.25" width="86.60" height="340.95" fill="#606060" stroke="#000" stroke-width="3.9" />
<path d="M667.35 1452.80L667.35 1474.60" stroke="#000" stroke-width="3.8" />
<path d="M646.85 1452.80L687.85 1452.80" stroke="#000" stroke-width="4" stroke-linecap="round"/>
<rect x="624.35" y="1474.55" width="86.00" height="157.65" fill="#000" stroke="#000" stroke-width="3.9" />
<path d="M73.80 1632.20L732.40 1632.20" stroke="#000" stroke-width="3.9" />
<path d="M148.10 1632.20L148.10 1642.70" stroke="#000" stroke-width="3.6" />
<path d="M277.90 1632.20L277.90 1642.70" stroke="#000" stroke-width="3.6" />
<path d="M407.90 1632.20L407.90 1642.70" stroke="#000" stroke-width="3.6" />
<path d="M537.50 1632.20L537.50 1642.70" stroke="#000" stroke-width="3.6" />
<path d="M667.30 1632.20L667.30 1642.70" stroke="#000" stroke-width="3.6" />
<text x="279.30" y="1403.00" font-size="30" text-anchor="middle" textLength="34.00" lengthAdjust="spacingAndGlyphs">***</text>
<text x="406.00" y="1307.80" font-size="30" text-anchor="middle" textLength="34.00" lengthAdjust="spacingAndGlyphs">***</text>
<text x="538.30" y="1257.60" font-size="30" text-anchor="middle" textLength="34.00" lengthAdjust="spacingAndGlyphs">***</text>
<text x="668.30" y="1441.50" font-size="30" text-anchor="middle">*</text>
<text transform="translate(157.60 1667.50) rotate(-45)" font-size="21.5" font-weight="bold" text-anchor="end" textLength="203.00" lengthAdjust="spacingAndGlyphs" stroke="#000" stroke-width="0.35">Cerebellum (n = 2)</text>
<text transform="translate(287.40 1667.50) rotate(-45)" font-size="21.5" font-weight="bold" text-anchor="end" textLength="130.50" lengthAdjust="spacingAndGlyphs" stroke="#000" stroke-width="0.35">WNT (n = 2)</text>
<text transform="translate(417.40 1667.50) rotate(-45)" font-size="21.5" font-weight="bold" text-anchor="end" textLength="125.00" lengthAdjust="spacingAndGlyphs" stroke="#000" stroke-width="0.35">SHH (n = 4)</text>
<text transform="translate(547.00 1667.50) rotate(-45)" font-size="21.5" font-weight="bold" text-anchor="end" textLength="165.00" lengthAdjust="spacingAndGlyphs" stroke="#000" stroke-width="0.35">Group 3 (n = 5)</text>
<text transform="translate(676.80 1667.50) rotate(-45)" font-size="21.5" font-weight="bold" text-anchor="end" textLength="165.00" lengthAdjust="spacingAndGlyphs" stroke="#000" stroke-width="0.35">Group 4 (n = 5)</text>
</g>
<g id="pE">
<text x="3.80" y="1915.90" font-size="61.5" textLength="38.80" lengthAdjust="spacingAndGlyphs">E</text>
<text x="130.00" y="1922.30" font-size="33" font-weight="bold" textLength="569.50" lengthAdjust="spacingAndGlyphs" stroke="#000" stroke-width="0.35">FOXM1 expression in MB cell lines</text>
<text transform="translate(32.50 2146.00) rotate(-90)" font-size="25.8" font-weight="bold" text-anchor="middle" textLength="360.00" lengthAdjust="spacingAndGlyphs" stroke="#000" stroke-width="0.1">relative FOXM1 expression</text>
<path d="M117.50 1942.20L117.50 2354.40" stroke="#000" stroke-width="3.8" />
<text x="102.00" y="2362.30" font-size="28.5" font-weight="bold" text-anchor="end" textLength="16.00" lengthAdjust="spacingAndGlyphs" stroke="#000" stroke-width="0.35">0</text>
<path d="M108.00 2270.80L117.50 2270.80" stroke="#000" stroke-width="3.6" />
<text x="102.00" y="2280.60" font-size="28.5" font-weight="bold" text-anchor="end" textLength="16.00" lengthAdjust="spacingAndGlyphs" stroke="#000" stroke-width="0.35">5</text>
<path d="M108.00 2189.10L117.50 2189.10" stroke="#000" stroke-width="3.6" />
<text x="102.00" y="2198.90" font-size="28.5" font-weight="bold" text-anchor="end" textLength="32.00" lengthAdjust="spacingAndGlyphs" stroke="#000" stroke-width="0.35">10</text>
<path d="M108.00 2107.40L117.50 2107.40" stroke="#000" stroke-width="3.6" />
<text x="102.00" y="2117.20" font-size="28.5" font-weight="bold" text-anchor="end" textLength="32.00" lengthAdjust="spacingAndGlyphs" stroke="#000" stroke-width="0.35">15</text>
<path d="M108.00 2025.70L117.50 2025.70" stroke="#000" stroke-width="3.6" />
<text x="102.00" y="2035.50" font-size="28.5" font-weight="bold" text-anchor="end" textLength="32.00" lengthAdjust="spacingAndGlyphs" stroke="#000" stroke-width="0.35">20</text>
<path d="M108.00 1944.00L117.50 1944.00" stroke="#000" stroke-width="3.6" />
<text x="102.00" y="1953.80" font-size="28.5" font-weight="bold" text-anchor="end" textLength="32.00" lengthAdjust="spacingAndGlyphs" stroke="#000" stroke-width="0.35">25</text>
<path d="M151.80 2332.60L151.80 2336.70" stroke="#000" stroke-width="4" />
<path d="M140.30 2332.60L163.30 2332.60" stroke="#000" stroke-width="4.2" stroke-linecap="round"/>
<rect x="128.50" y="2336.70" width="46.60" height="15.80" fill="#fff" stroke="#000" stroke-width="4" />
<path d="M223.30 2349.00L223.30 2349.80" stroke="#000" stroke-width="4" />
<path d="M211.80 2349.00L234.80 2349.00" stroke="#000" stroke-width="4.2" stroke-linecap="round"/>
<rect x="200.00" y="2349.80" width="46.60" height="2.70" fill="#fff" stroke="#000" stroke-width="4" />
<path d="M294.80 2186.90L294.80 2196.60" stroke="#000" stroke-width="4" />
<path d="M283.30 2186.90L306.30 2186.90" stroke="#000" stroke-width="4.2" stroke-linecap="round"/>
<rect x="271.50" y="2196.60" width="46.60" height="155.90" fill="#a0a0a0" stroke="#000" stroke-width="4" />
<path d="M366.30 2034.50L366.30 2061.60" stroke="#000" stroke-width="4" />
<path d="M354.80 2034.50L377.80 2034.50" stroke="#000" stroke-width="4.2" stroke-linecap="round"/>
<rect x="343.00" y="2061.60" width="46.60" height="290.90" fill="#000" stroke="#000" stroke-width="4" />
<path d="M437.80 2132.60L437.80 2163.20" stroke="#000" stroke-width="4" />
<path d="M426.30 2132.60L449.30 2132.60" stroke="#000" stroke-width="4.2" stroke-linecap="round"/>
<rect x="414.50" y="2163.20" width="46.60" height="189.30" fill="#606060" stroke="#000" stroke-width="4" />
<path d="M509.30 2169.80L509.30 2173.80" stroke="#000" stroke-width="4" />
<path d="M497.80 2169.80L520.80 2169.80" stroke="#000" stroke-width="4.2" stroke-linecap="round"/>
<rect x="486.00" y="2173.80" width="46.60" height="178.70" fill="#fff" stroke="#000" stroke-width="4" />
<path d="M580.80 2211.40L580.80 2228.10" stroke="#000" stroke-width="4" />
<path d="M569.30 2211.40L592.30 2211.40" stroke="#000" stroke-width="4.2" stroke-linecap="round"/>
<rect x="557.50" y="2228.10" width="46.60" height="124.40" fill="#606060" stroke="#000" stroke-width="4" />
<path d="M652.30 2076.30L652.30 2115.30" stroke="#000" stroke-width="4" />
<path d="M640.80 2076.30L663.80 2076.30" stroke="#000" stroke-width="4.2" stroke-linecap="round"/>
<rect x="629.00" y="2115.30" width="46.60" height="237.20" fill="#a0a0a0" stroke="#000" stroke-width="4" />
<path d="M108.00 2352.50L686.80 2352.50" stroke="#000" stroke-width="4" />
<path d="M151.80 2352.50L151.80 2362.00" stroke="#000" stroke-width="3.8" />
<path d="M223.30 2352.50L223.30 2362.00" stroke="#000" stroke-width="3.8" />
<path d="M294.80 2352.50L294.80 2362.00" stroke="#000" stroke-width="3.8" />
<path d="M366.30 2352.50L366.30 2362.00" stroke="#000" stroke-width="3.8" />
<path d="M437.80 2352.50L437.80 2362.00" stroke="#000" stroke-width="3.8" />
<path d="M509.30 2352.50L509.30 2362.00" stroke="#000" stroke-width="3.8" />
<path d="M580.80 2352.50L580.80 2362.00" stroke="#000" stroke-width="3.8" />
<path d="M652.30 2352.50L652.30 2362.00" stroke="#000" stroke-width="3.8" />
<path d="M143.4 1985.8V1950H686" fill="none" stroke="#000" stroke-width="4.4"/>
<text x="293.80" y="2168.00" font-size="20" text-anchor="middle" textLength="23.50" lengthAdjust="spacingAndGlyphs">***</text>
<text x="367.60" y="2025.60" font-size="20" text-anchor="middle" textLength="23.50" lengthAdjust="spacingAndGlyphs">***</text>
<text x="439.30" y="2124.00" font-size="20" text-anchor="middle" textLength="15.50" lengthAdjust="spacingAndGlyphs">**</text>
<text x="508.60" y="2156.00" font-size="20" text-anchor="middle" textLength="23.50" lengthAdjust="spacingAndGlyphs">***</text>
<text x="580.20" y="2203.40" font-size="20" text-anchor="middle" textLength="15.50" lengthAdjust="spacingAndGlyphs">**</text>
<text x="652.80" y="2065.00" font-size="20" text-anchor="middle" textLength="23.50" lengthAdjust="spacingAndGlyphs">***</text>
<text transform="translate(158.30 2385.50) rotate(-45)" font-size="26.8" font-weight="bold" text-anchor="end" textLength="140.00" lengthAdjust="spacingAndGlyphs" stroke="#000" stroke-width="0.35">Astrocytes</text>
<text transform="translate(232.30 2385.50) rotate(-45)" font-size="26.8" font-weight="bold" text-anchor="end" textLength="149.00" lengthAdjust="spacingAndGlyphs" stroke="#000" stroke-width="0.35">Cerebellum</text>
<text transform="translate(303.80 2385.50) rotate(-45)" font-size="26.8" font-weight="bold" text-anchor="end" textLength="80.00" lengthAdjust="spacingAndGlyphs" stroke="#000" stroke-width="0.35">DAOY</text>
<text transform="translate(375.30 2385.50) rotate(-45)" font-size="26.8" font-weight="bold" text-anchor="end" textLength="66.00" lengthAdjust="spacingAndGlyphs" stroke="#000" stroke-width="0.35">D283</text>
<text transform="translate(446.80 2385.50) rotate(-45)" font-size="26.8" font-weight="bold" text-anchor="end" textLength="66.00" lengthAdjust="spacingAndGlyphs" stroke="#000" stroke-width="0.35">D341</text>
<text transform="translate(518.30 2385.50) rotate(-45)" font-size="26.8" font-weight="bold" text-anchor="end" textLength="66.00" lengthAdjust="spacingAndGlyphs" stroke="#000" stroke-width="0.35">D425</text>
<text transform="translate(589.80 2385.50) rotate(-45)" font-size="26.8" font-weight="bold" text-anchor="end" textLength="66.00" lengthAdjust="spacingAndGlyphs" stroke="#000" stroke-width="0.35">D458</text>
<text transform="translate(661.30 2385.50) rotate(-45)" font-size="26.8" font-weight="bold" text-anchor="end" textLength="120.00" lengthAdjust="spacingAndGlyphs" stroke="#000" stroke-width="0.35">UW228.2</text>
</g>
<g id="pF">
<text x="938.50" y="1162.70" font-size="61.5" textLength="35.50" lengthAdjust="spacingAndGlyphs">F</text>
<text x="1031.00" y="1197.30" font-size="40" font-weight="bold" textLength="711.00" lengthAdjust="spacingAndGlyphs" stroke="#000" stroke-width="0.35">Kaplan Meier Curve of 612 MB patients</text>
<path d="M1039.70 1226.80L1039.70 1850.20" stroke="#2b2b2b" stroke-width="1.7" />
<path d="M1029.40 1849.80L1039.70 1849.80" stroke="#2b2b2b" stroke-width="1.6" />
<text x="1023.50" y="1856.10" font-size="19" text-anchor="end" textLength="44.50" lengthAdjust="spacingAndGlyphs" fill="#2b2b2b">0.00</text>
<path d="M1029.40 1787.57L1039.70 1787.57" stroke="#2b2b2b" stroke-width="1.6" />
<text x="1023.50" y="1793.87" font-size="19" text-anchor="end" textLength="44.50" lengthAdjust="spacingAndGlyphs" fill="#2b2b2b">0.10</text>
<path d="M1029.40 1725.34L1039.70 1725.34" stroke="#2b2b2b" stroke-width="1.6" />
<text x="1023.50" y="1731.64" font-size="19" text-anchor="end" textLength="44.50" lengthAdjust="spacingAndGlyphs" fill="#2b2b2b">0.20</text>
<path d="M1029.40 1663.11L1039.70 1663.11" stroke="#2b2b2b" stroke-width="1.6" />
<text x="1023.50" y="1669.41" font-size="19" text-anchor="end" textLength="44.50" lengthAdjust="spacingAndGlyphs" fill="#2b2b2b">0.30</text>
<path d="M1029.40 1600.88L1039.70 1600.88" stroke="#2b2b2b" stroke-width="1.6" />
<text x="1023.50" y="1607.18" font-size="19" text-anchor="end" textLength="44.50" lengthAdjust="spacingAndGlyphs" fill="#2b2b2b">0.40</text>
<path d="M1029.40 1538.65L1039.70 1538.65" stroke="#2b2b2b" stroke-width="1.6" />
<text x="1023.50" y="1544.95" font-size="19" text-anchor="end" textLength="44.50" lengthAdjust="spacingAndGlyphs" fill="#2b2b2b">0.50</text>
<path d="M1029.40 1476.42L1039.70 1476.42" stroke="#2b2b2b" stroke-width="1.6" />
<text x="1023.50" y="1482.72" font-size="19" text-anchor="end" textLength="44.50" lengthAdjust="spacingAndGlyphs" fill="#2b2b2b">0.60</text>
<path d="M1029.40 1414.19L1039.70 1414.19" stroke="#2b2b2b" stroke-width="1.6" />
<text x="1023.50" y="1420.49" font-size="19" text-anchor="end" textLength="44.50" lengthAdjust="spacingAndGlyphs" fill="#2b2b2b">0.70</text>
<path d="M1029.40 1351.96L1039.70 1351.96" stroke="#2b2b2b" stroke-width="1.6" />
<text x="1023.50" y="1358.26" font-size="19" text-anchor="end" textLength="44.50" lengthAdjust="spacingAndGlyphs" fill="#2b2b2b">0.80</text>
<path d="M1029.40 1289.73L1039.70 1289.73" stroke="#2b2b2b" stroke-width="1.6" />
<text x="1023.50" y="1296.03" font-size="19" text-anchor="end" textLength="44.50" lengthAdjust="spacingAndGlyphs" fill="#2b2b2b">0.90</text>
<path d="M1029.40 1227.50L1039.70 1227.50" stroke="#2b2b2b" stroke-width="1.6" />
<text x="1023.50" y="1233.80" font-size="19" text-anchor="end" textLength="44.50" lengthAdjust="spacingAndGlyphs" fill="#2b2b2b">1.00</text>
<text transform="translate(961.50 1538.50) rotate(-90)" font-size="25.5" text-anchor="middle" textLength="287.00" lengthAdjust="spacingAndGlyphs" fill="#2b2b2b">overall survival probability</text>
<path d="M1044.50 1855.80L1687.80 1855.80" stroke="#2b2b2b" stroke-width="1.6" />
<path d="M1044.50 1855.80L1044.50 1865.30" stroke="#2b2b2b" stroke-width="1.6" />
<text transform="translate(1031.90 1870.3) rotate(90) scale(1 1.3)" font-size="18" fill="#2b2b2b" textLength="10.3" lengthAdjust="spacingAndGlyphs">0</text>
<path d="M1173.40 1855.80L1173.40 1865.30" stroke="#2b2b2b" stroke-width="1.6" />
<text transform="translate(1160.80 1870.3) rotate(90) scale(1 1.3)" font-size="18" fill="#2b2b2b" textLength="20.6" lengthAdjust="spacingAndGlyphs">24</text>
<path d="M1301.60 1855.80L1301.60 1865.30" stroke="#2b2b2b" stroke-width="1.6" />
<text transform="translate(1289.00 1870.3) rotate(90) scale(1 1.3)" font-size="18" fill="#2b2b2b" textLength="20.6" lengthAdjust="spacingAndGlyphs">48</text>
<path d="M1430.20 1855.80L1430.20 1865.30" stroke="#2b2b2b" stroke-width="1.6" />
<text transform="translate(1417.60 1870.3) rotate(90) scale(1 1.3)" font-size="18" fill="#2b2b2b" textLength="20.6" lengthAdjust="spacingAndGlyphs">72</text>
<path d="M1558.90 1855.80L1558.90 1865.30" stroke="#2b2b2b" stroke-width="1.6" />
<text transform="translate(1546.30 1870.3) rotate(90) scale(1 1.3)" font-size="18" fill="#2b2b2b" textLength="20.6" lengthAdjust="spacingAndGlyphs">96</text>
<path d="M1687.80 1855.80L1687.80 1865.30" stroke="#2b2b2b" stroke-width="1.6" />
<text transform="translate(1675.20 1870.3) rotate(90) scale(1 1.3)" font-size="18" fill="#2b2b2b" textLength="30.9" lengthAdjust="spacingAndGlyphs">120</text>
<text x="1237.50" y="1927.40" font-size="26" textLength="255.00" lengthAdjust="spacingAndGlyphs" fill="#2b2b2b">Follow up in months</text>
<path d="M1044.6 1227.3L1066.6 1227.3L1066.6 1236.6L1092.6 1236.6L1092.6 1245.3L1100.6 1245.3L1100.6 1254.6L1102.8 1254.6L1102.8 1271.3L1106.6 1271.3L1106.6 1289.9L1119.5 1289.9L1119.5 1298.6L1130.5 1298.6L1130.5 1316.5L1146.9 1316.5L1146.9 1325.2L1156.5 1325.2L1156.5 1334.5L1162.2 1334.5L1162.2 1353.2L1170.5 1353.2L1170.5 1362.5L1184.5 1362.5L1184.5 1372.5L1189.1 1372.5L1189.1 1382.5L1194.1 1382.5L1194.1 1392.4L1215.4 1392.4L1215.4 1402.8L1232.2 1402.8L1232.2 1424.4L1237.0 1424.4L1237.0 1435.0L1280.4 1435.0L1280.4 1447.0L1285.2 1447.0L1285.2 1471.0L1290.4 1471.0L1290.4 1482.8L1301.0 1482.8L1301.0 1495.7L1333.5 1495.7L1333.5 1510.8L1468.2 1510.8L1468.2 1532.0L1556.1 1532.0L1556.1 1554.5L1595.0 1554.5L1595.0 1581.3L1616.7 1581.3L1616.7 1611.6L1689.2 1611.6" fill="none" stroke="#3838cc" stroke-width="2.2" stroke-linejoin="miter"/>
<path d="M1066.6 1237.1v-8M1092.6 1245.8v-8M1102.6 1255.1v-8M1107.5 1290.4v-8M1131.5 1317.0v-8M1139.5 1317.0v-8M1148.5 1325.7v-8M1152.0 1325.7v-8M1163.5 1353.7v-8M1166.5 1353.7v-8M1171.0 1363.0v-8M1185.0 1373.0v-8M1187.0 1373.0v-8M1205.5 1392.9v-8M1210.5 1392.9v-8M1234.5 1424.9v-8M1242.6 1435.5v-8M1258.2 1435.5v-8M1279.5 1435.5v-8M1290.2 1471.5v-8M1302.2 1496.2v-8M1306.1 1496.2v-8M1311.2 1496.2v-8M1317.0 1496.2v-8M1333.4 1496.2v-8M1338.5 1511.3v-8M1349.3 1511.3v-8M1381.7 1511.3v-8M1386.7 1511.3v-8M1456.5 1511.3v-8M1537.1 1532.5v-8M1557.5 1555.0v-8M1590.9 1555.0v-8M1614.8 1581.8v-8M1638.2 1612.1v-8M1656.1 1612.1v-8M1679.6 1612.1v-8M1685.0 1612.1v-8M1687.8 1612.1v-8M1066.6 1219V1237M1092.6 1228V1245" fill="none" stroke="#3838cc" stroke-width="1.8"/>
<path d="M1044.6 1228.0H1051.3V1234.0H1064.6V1234.6H1066.0V1238.6H1072.6V1242.6H1080.6V1246.0H1087.3V1251.3H1092.6V1258.0H1097.9V1263.3H1107.2V1267.3H1115.2V1272.6H1121.9V1276.2H1131.2V1277.9H1143.2V1281.9H1149.9V1284.6H1160.5V1288.6H1168.5V1292.6H1172.5V1300.6H1183.1V1305.9H1189.8V1307.9H1201.8V1308.3H1204.5V1310.5H1216.4V1313.2H1223.1V1317.9H1235.1V1319.9H1237.1V1325.2H1250.0V1327.2H1257.4V1330.2H1273.4V1338.9H1292.3V1341.8H1295.2V1346.9H1309.7V1347.6H1317.0V1350.5H1327.2V1354.1H1350.4V1357.0H1354.0V1364.3H1365.0V1366.5H1383.8V1368.7H1398.4V1370.9H1407.1V1375.9H1427.4V1376.7H1430.3V1383.9H1444.9V1384.7H1452.1V1391.9H1460.8V1395.5H1475.4V1398.8H1534.9V1398.8H1536.3V1402.4H1554.2V1402.4H1556.9V1410.7H1616.1V1410.7H1617.5V1415.4H1623.0V1420.0H1631.3V1425.8H1647.8V1425.8H1649.2V1436.0H1689.1V1436.0" fill="none" stroke="#cc3232" stroke-width="2.3"/>
<path d="M1048.7 1228.6v-7.6M1051.7 1234.6v-7.6M1055.7 1234.6v-7.6M1058.5 1234.6v-7.6M1061.4 1234.6v-7.6M1064.4 1234.6v-7.6M1066.4 1239.2v-7.6M1069.3 1239.2v-7.6M1072.5 1239.2v-7.6M1076.2 1243.2v-7.6M1077.9 1243.2v-7.6M1080.2 1243.2v-7.6M1082.0 1246.6v-7.6M1085.7 1246.6v-7.6M1089.0 1251.9v-7.6M1090.7 1251.9v-7.6M1094.8 1258.6v-7.6M1098.9 1263.9v-7.6M1102.2 1263.9v-7.6M1105.3 1263.9v-7.6M1107.3 1267.9v-7.6M1108.8 1267.9v-7.6M1111.7 1267.9v-7.6M1113.4 1267.9v-7.6M1115.4 1273.2v-7.6M1117.6 1273.2v-7.6M1119.1 1273.2v-7.6M1121.9 1273.2v-7.6M1124.3 1276.8v-7.6M1127.2 1276.8v-7.6M1129.7 1276.8v-7.6M1132.4 1278.5v-7.6M1134.9 1278.5v-7.6M1137.6 1278.5v-7.6M1140.0 1278.5v-7.6M1142.1 1278.5v-7.6M1145.3 1282.5v-7.6M1148.5 1282.5v-7.6M1151.5 1285.2v-7.6M1154.3 1285.2v-7.6M1156.5 1285.2v-7.6M1158.6 1285.2v-7.6M1160.7 1289.2v-7.6M1162.5 1289.2v-7.6M1165.4 1289.2v-7.6M1167.7 1289.2v-7.6M1170.7 1293.2v-7.6M1173.0 1301.2v-7.6M1176.2 1301.2v-7.6M1179.1 1301.2v-7.6M1180.9 1301.2v-7.6M1182.9 1301.2v-7.6M1186.0 1306.5v-7.6M1188.4 1306.5v-7.6M1191.6 1308.5v-7.6M1193.9 1308.5v-7.6M1195.7 1308.5v-7.6M1198.4 1308.5v-7.6M1201.3 1308.5v-7.6M1203.4 1308.9v-7.6M1205.2 1311.1v-7.6M1207.5 1311.1v-7.6M1210.6 1311.1v-7.6M1213.5 1311.1v-7.6M1215.4 1311.1v-7.6M1217.5 1313.8v-7.6M1219.3 1313.8v-7.6M1221.2 1313.8v-7.6M1224.1 1318.5v-7.6M1226.1 1318.5v-7.6M1228.6 1318.5v-7.6M1231.0 1318.5v-7.6M1233.0 1318.5v-7.6M1235.8 1320.5v-7.6M1237.7 1325.8v-7.6M1240.4 1325.8v-7.6M1242.3 1325.8v-7.6M1244.7 1325.8v-7.6M1246.7 1325.8v-7.6M1248.8 1325.8v-7.6M1252.0 1327.8v-7.6M1254.9 1327.8v-7.6M1257.1 1327.8v-7.6M1260.1 1330.8v-7.6M1262.2 1330.8v-7.6M1264.5 1330.8v-7.6M1267.5 1330.8v-7.6M1270.2 1330.8v-7.6M1272.0 1330.8v-7.6M1275.2 1339.5v-7.6M1277.3 1339.5v-7.6M1279.4 1339.5v-7.6M1282.2 1339.5v-7.6M1284.5 1339.5v-7.6M1286.6 1339.5v-7.6M1288.5 1339.5v-7.6M1290.3 1339.5v-7.6M1292.9 1342.4v-7.6M1295.0 1342.4v-7.6M1297.6 1347.5v-7.6M1299.9 1347.5v-7.6M1302.3 1347.5v-7.6M1305.4 1347.5v-7.6M1307.9 1347.5v-7.6M1310.5 1348.2v-7.6M1313.5 1348.2v-7.6M1315.5 1348.2v-7.6M1317.4 1351.1v-7.6M1320.5 1351.1v-7.6M1323.4 1351.1v-7.6M1325.5 1351.1v-7.6M1327.5 1354.7v-7.6M1330.4 1354.7v-7.6M1333.5 1354.7v-7.6M1335.5 1354.7v-7.6M1338.6 1354.7v-7.6M1341.7 1354.7v-7.6M1344.3 1354.7v-7.6M1346.6 1354.7v-7.6M1348.5 1354.7v-7.6M1350.3 1354.7v-7.6M1353.5 1357.6v-7.6M1355.5 1364.9v-7.6M1358.3 1364.9v-7.6M1360.4 1364.9v-7.6M1363.4 1364.9v-7.6M1366.0 1367.1v-7.6M1368.1 1367.1v-7.6M1370.1 1367.1v-7.6M1372.9 1367.1v-7.6M1374.7 1367.1v-7.6M1376.8 1367.1v-7.6M1379.4 1367.1v-7.6M1382.3 1367.1v-7.6M1385.0 1369.3v-7.6M1387.1 1369.3v-7.6M1390.2 1369.3v-7.6M1392.2 1369.3v-7.6M1394.0 1369.3v-7.6M1396.1 1369.3v-7.6M1398.5 1371.5v-7.6M1400.3 1371.5v-7.6M1402.3 1371.5v-7.6M1404.6 1371.5v-7.6M1407.2 1376.5v-7.6M1409.1 1376.5v-7.6M1411.3 1376.5v-7.6M1414.4 1376.5v-7.6M1417.6 1376.5v-7.6M1420.3 1376.5v-7.6M1423.0 1376.5v-7.6M1425.6 1376.5v-7.6M1427.5 1377.3v-7.6M1429.3 1377.3v-7.6M1431.1 1384.5v-7.6M1434.1 1384.5v-7.6M1436.9 1384.5v-7.6M1440.1 1384.5v-7.6M1441.8 1384.5v-7.6M1444.5 1384.5v-7.6M1446.9 1385.3v-7.6M1449.7 1385.3v-7.6M1451.9 1385.3v-7.6M1455.2 1392.5v-7.6M1457.0 1392.5v-7.6M1459.5 1392.5v-7.6M1462.3 1396.1v-7.6M1465.4 1396.1v-7.6M1468.2 1396.1v-7.6M1471.0 1396.1v-7.6M1473.9 1396.1v-7.6M1477.0 1399.4v-7.6M1479.2 1399.4v-7.6M1482.0 1399.4v-7.6M1486.0 1399.4v-7.6M1490.0 1399.4v-7.6M1493.0 1399.4v-7.6M1496.8 1399.4v-7.6M1500.8 1399.4v-7.6M1504.1 1399.4v-7.6M1507.6 1399.4v-7.6M1510.5 1399.4v-7.6M1513.8 1399.4v-7.6M1517.3 1399.4v-7.6M1519.5 1399.4v-7.6M1523.0 1399.4v-7.6M1527.3 1399.4v-7.6M1531.3 1399.4v-7.6M1534.9 1399.4v-7.6M1537.9 1403.0v-7.6M1548.3 1403.0v-7.6M1557.5 1411.3v-7.6M1560.6 1411.3v-7.6M1564.5 1411.3v-7.6M1566.8 1411.3v-7.6M1570.5 1411.3v-7.6M1572.7 1411.3v-7.6M1576.1 1411.3v-7.6M1579.2 1411.3v-7.6M1581.8 1411.3v-7.6M1585.4 1411.3v-7.6M1588.6 1411.3v-7.6M1592.0 1411.3v-7.6M1604.0 1411.3v-7.6M1610.5 1411.3v-7.6M1615.1 1411.3v-7.6M1617.9 1416.0v-7.6M1621.4 1416.0v-7.6M1624.0 1420.6v-7.6M1626.4 1420.6v-7.6M1630.5 1420.6v-7.6M1634.0 1426.4v-7.6M1637.1 1426.4v-7.6M1641.1 1426.4v-7.6M1643.9 1426.4v-7.6M1647.5 1426.4v-7.6M1650.0 1436.6v-7.6M1653.0 1436.6v-7.6M1656.9 1436.6v-7.6M1668.8 1436.6v-7.6M1680.4 1436.6v-7.6M1683.3 1436.6v-7.6M1686.7 1436.6v-7.6" fill="none" stroke="#cc3232" stroke-width="1.9"/>
<text x="1321.00" y="1706.20" font-size="27.6" font-weight="bold" textLength="379.50" lengthAdjust="spacingAndGlyphs" fill="#c00000" stroke="#c00000" stroke-width="0.2">low FOXM1 expression (n=540)</text>
<text x="1321.00" y="1753.60" font-size="27.6" font-weight="bold" textLength="372.00" lengthAdjust="spacingAndGlyphs" fill="#1b1f86" stroke="#1b1f86" stroke-width="0.2">high FOXM1 expression (n=72)</text>
<text x="1579.80" y="1824.40" font-size="23.5" textLength="82.50" lengthAdjust="spacingAndGlyphs">p=0.018</text>
</g>
</svg></body></html>
